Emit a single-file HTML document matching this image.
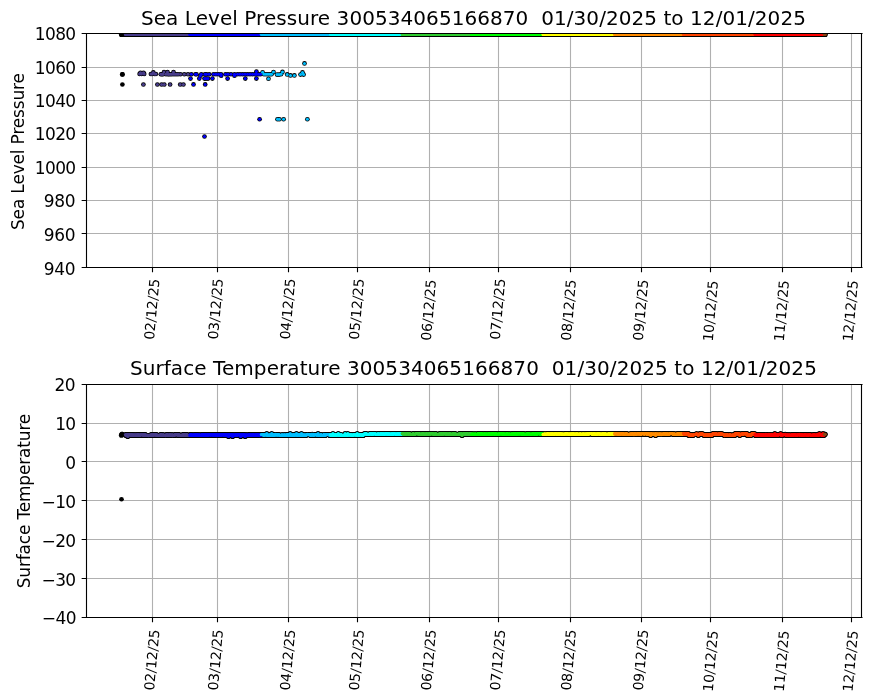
<!DOCTYPE html>
<html><head><meta charset="utf-8"><title>Sea Level Pressure / Surface Temperature</title>
<style>html,body{margin:0;padding:0;background:#fff;}svg{display:block;}</style></head>
<body>
<svg width="870" height="700" viewBox="0 0 870 700" style="will-change:transform">
<rect width="870" height="700" fill="#fff"/>
<defs>
<clipPath id="c0"><rect x="86.5" y="33.4" width="775" height="234.1"/></clipPath>
<clipPath id="c1"><rect x="86.5" y="384.4" width="775" height="233.1"/></clipPath>
</defs>
<path d="M152.5 33.4V267.5M217.5 33.4V267.5M288.5 33.4V267.5M357.5 33.4V267.5M429.5 33.4V267.5M498.5 33.4V267.5M570.5 33.4V267.5M641.5 33.4V267.5M710.5 33.4V267.5M782.5 33.4V267.5M851.5 33.4V267.5M86.5 67.5H861.5M86.5 100.5H861.5M86.5 133.5H861.5M86.5 167.5H861.5M86.5 200.5H861.5M86.5 233.5H861.5" stroke="#b0b0b0" stroke-width="1.11" fill="none"/>
<g clip-path="url(#c0)">
<g fill="#000"><circle cx="121.43" cy="34.38" r="2.55"/><circle cx="121.88" cy="34.4" r="2.55"/><circle cx="122.33" cy="34.39" r="2.55"/><circle cx="125.48" cy="34.41" r="2.55"/><circle cx="125.93" cy="34.41" r="2.55"/><circle cx="126.38" cy="34.37" r="2.55"/><circle cx="126.83" cy="34.37" r="2.55"/><circle cx="127.28" cy="34.42" r="2.55"/><circle cx="127.73" cy="34.39" r="2.55"/><circle cx="128.18" cy="34.38" r="2.55"/><circle cx="128.63" cy="34.43" r="2.55"/><circle cx="129.08" cy="34.4" r="2.55"/><circle cx="129.53" cy="34.42" r="2.55"/><circle cx="129.98" cy="34.4" r="2.55"/><circle cx="130.43" cy="34.41" r="2.55"/><circle cx="130.88" cy="34.38" r="2.55"/><circle cx="131.33" cy="34.41" r="2.55"/><circle cx="131.78" cy="34.42" r="2.55"/><circle cx="132.23" cy="34.4" r="2.55"/><circle cx="132.68" cy="34.41" r="2.55"/><circle cx="133.13" cy="34.41" r="2.55"/><circle cx="133.58" cy="34.37" r="2.55"/><circle cx="134.03" cy="34.42" r="2.55"/><circle cx="134.48" cy="34.41" r="2.55"/><circle cx="134.93" cy="34.39" r="2.55"/><circle cx="135.38" cy="34.37" r="2.55"/><circle cx="135.83" cy="34.42" r="2.55"/><circle cx="136.28" cy="34.4" r="2.55"/><circle cx="136.73" cy="34.41" r="2.55"/><circle cx="137.18" cy="34.42" r="2.55"/><circle cx="137.63" cy="34.41" r="2.55"/><circle cx="138.08" cy="34.43" r="2.55"/><circle cx="138.53" cy="34.39" r="2.55"/><circle cx="138.98" cy="34.42" r="2.55"/><circle cx="139.43" cy="34.4" r="2.55"/><circle cx="139.88" cy="34.43" r="2.55"/><circle cx="140.33" cy="34.42" r="2.55"/><circle cx="140.78" cy="34.38" r="2.55"/><circle cx="141.23" cy="34.38" r="2.55"/><circle cx="141.68" cy="34.38" r="2.55"/><circle cx="142.13" cy="34.43" r="2.55"/><circle cx="142.58" cy="34.4" r="2.55"/><circle cx="143.03" cy="34.41" r="2.55"/><circle cx="143.48" cy="34.39" r="2.55"/><circle cx="143.93" cy="34.4" r="2.55"/><circle cx="144.38" cy="34.39" r="2.55"/><circle cx="144.83" cy="34.39" r="2.55"/><circle cx="145.28" cy="34.41" r="2.55"/><circle cx="145.73" cy="34.41" r="2.55"/><circle cx="146.18" cy="34.42" r="2.55"/><circle cx="146.63" cy="34.41" r="2.55"/><circle cx="147.08" cy="34.43" r="2.55"/><circle cx="147.53" cy="34.42" r="2.55"/><circle cx="147.98" cy="34.43" r="2.55"/><circle cx="148.43" cy="34.41" r="2.55"/><circle cx="148.88" cy="34.38" r="2.55"/><circle cx="149.33" cy="34.42" r="2.55"/><circle cx="149.78" cy="34.43" r="2.55"/><circle cx="150.23" cy="34.42" r="2.55"/><circle cx="150.68" cy="34.4" r="2.55"/><circle cx="151.13" cy="34.41" r="2.55"/><circle cx="151.58" cy="34.38" r="2.55"/><circle cx="152.03" cy="34.42" r="2.55"/><circle cx="152.48" cy="34.4" r="2.55"/><circle cx="152.93" cy="34.39" r="2.55"/><circle cx="153.38" cy="34.37" r="2.55"/><circle cx="153.83" cy="34.42" r="2.55"/><circle cx="154.28" cy="34.43" r="2.55"/><circle cx="154.73" cy="34.38" r="2.55"/><circle cx="155.18" cy="34.42" r="2.55"/><circle cx="155.63" cy="34.39" r="2.55"/><circle cx="156.08" cy="34.38" r="2.55"/><circle cx="156.53" cy="34.39" r="2.55"/><circle cx="156.98" cy="34.42" r="2.55"/><circle cx="157.43" cy="34.42" r="2.55"/><circle cx="157.88" cy="34.37" r="2.55"/><circle cx="158.33" cy="34.41" r="2.55"/><circle cx="158.78" cy="34.37" r="2.55"/><circle cx="159.23" cy="34.41" r="2.55"/><circle cx="159.68" cy="34.39" r="2.55"/><circle cx="160.13" cy="34.42" r="2.55"/><circle cx="160.58" cy="34.43" r="2.55"/><circle cx="161.03" cy="34.4" r="2.55"/><circle cx="161.48" cy="34.43" r="2.55"/><circle cx="161.93" cy="34.39" r="2.55"/><circle cx="162.38" cy="34.37" r="2.55"/><circle cx="162.83" cy="34.41" r="2.55"/><circle cx="163.28" cy="34.37" r="2.55"/><circle cx="163.73" cy="34.38" r="2.55"/><circle cx="164.18" cy="34.39" r="2.55"/><circle cx="164.63" cy="34.41" r="2.55"/><circle cx="165.08" cy="34.38" r="2.55"/><circle cx="165.53" cy="34.37" r="2.55"/><circle cx="165.98" cy="34.42" r="2.55"/><circle cx="166.43" cy="34.39" r="2.55"/><circle cx="166.88" cy="34.43" r="2.55"/><circle cx="167.33" cy="34.42" r="2.55"/><circle cx="167.78" cy="34.39" r="2.55"/><circle cx="168.23" cy="34.4" r="2.55"/><circle cx="168.68" cy="34.4" r="2.55"/><circle cx="169.13" cy="34.41" r="2.55"/><circle cx="169.58" cy="34.41" r="2.55"/><circle cx="170.03" cy="34.4" r="2.55"/><circle cx="170.48" cy="34.41" r="2.55"/><circle cx="170.93" cy="34.43" r="2.55"/><circle cx="171.38" cy="34.4" r="2.55"/><circle cx="171.83" cy="34.4" r="2.55"/><circle cx="172.28" cy="34.41" r="2.55"/><circle cx="172.73" cy="34.38" r="2.55"/><circle cx="173.18" cy="34.39" r="2.55"/><circle cx="173.63" cy="34.43" r="2.55"/><circle cx="174.08" cy="34.4" r="2.55"/><circle cx="174.53" cy="34.4" r="2.55"/><circle cx="174.98" cy="34.37" r="2.55"/><circle cx="175.43" cy="34.39" r="2.55"/><circle cx="175.88" cy="34.4" r="2.55"/><circle cx="176.33" cy="34.37" r="2.55"/><circle cx="176.78" cy="34.41" r="2.55"/><circle cx="177.23" cy="34.41" r="2.55"/><circle cx="177.68" cy="34.37" r="2.55"/><circle cx="178.13" cy="34.41" r="2.55"/><circle cx="178.58" cy="34.4" r="2.55"/><circle cx="179.03" cy="34.41" r="2.55"/><circle cx="179.48" cy="34.39" r="2.55"/><circle cx="179.93" cy="34.41" r="2.55"/><circle cx="180.38" cy="34.41" r="2.55"/><circle cx="180.83" cy="34.37" r="2.55"/><circle cx="181.28" cy="34.37" r="2.55"/><circle cx="181.73" cy="34.41" r="2.55"/><circle cx="182.18" cy="34.43" r="2.55"/><circle cx="182.63" cy="34.39" r="2.55"/><circle cx="183.08" cy="34.4" r="2.55"/><circle cx="183.53" cy="34.41" r="2.55"/><circle cx="183.98" cy="34.39" r="2.55"/><circle cx="184.43" cy="34.39" r="2.55"/><circle cx="184.88" cy="34.39" r="2.55"/><circle cx="185.33" cy="34.39" r="2.55"/><circle cx="185.78" cy="34.41" r="2.55"/><circle cx="186.23" cy="34.39" r="2.55"/><circle cx="186.68" cy="34.39" r="2.55"/><circle cx="187.13" cy="34.42" r="2.55"/><circle cx="187.58" cy="34.37" r="2.55"/><circle cx="188.03" cy="34.4" r="2.55"/><circle cx="188.48" cy="34.41" r="2.55"/><circle cx="188.93" cy="34.39" r="2.55"/><circle cx="189.38" cy="34.38" r="2.55"/><circle cx="189.83" cy="34.42" r="2.55"/><circle cx="190.28" cy="34.38" r="2.55"/><circle cx="190.73" cy="34.38" r="2.55"/><circle cx="191.18" cy="34.4" r="2.55"/><circle cx="191.63" cy="34.41" r="2.55"/><circle cx="192.08" cy="34.38" r="2.55"/><circle cx="192.53" cy="34.39" r="2.55"/><circle cx="192.98" cy="34.39" r="2.55"/><circle cx="193.43" cy="34.42" r="2.55"/><circle cx="193.88" cy="34.4" r="2.55"/><circle cx="194.33" cy="34.42" r="2.55"/><circle cx="194.78" cy="34.38" r="2.55"/><circle cx="195.23" cy="34.39" r="2.55"/><circle cx="195.68" cy="34.41" r="2.55"/><circle cx="196.13" cy="34.42" r="2.55"/><circle cx="196.58" cy="34.4" r="2.55"/><circle cx="197.03" cy="34.38" r="2.55"/><circle cx="197.48" cy="34.38" r="2.55"/><circle cx="197.93" cy="34.4" r="2.55"/><circle cx="198.38" cy="34.38" r="2.55"/><circle cx="198.83" cy="34.42" r="2.55"/><circle cx="199.28" cy="34.42" r="2.55"/><circle cx="199.73" cy="34.38" r="2.55"/><circle cx="200.18" cy="34.39" r="2.55"/><circle cx="200.63" cy="34.42" r="2.55"/><circle cx="201.08" cy="34.41" r="2.55"/><circle cx="201.53" cy="34.42" r="2.55"/><circle cx="201.98" cy="34.39" r="2.55"/><circle cx="202.43" cy="34.38" r="2.55"/><circle cx="202.88" cy="34.39" r="2.55"/><circle cx="203.33" cy="34.42" r="2.55"/><circle cx="203.78" cy="34.39" r="2.55"/><circle cx="204.23" cy="34.39" r="2.55"/><circle cx="204.68" cy="34.4" r="2.55"/><circle cx="205.13" cy="34.4" r="2.55"/><circle cx="205.58" cy="34.39" r="2.55"/><circle cx="206.03" cy="34.43" r="2.55"/><circle cx="206.48" cy="34.38" r="2.55"/><circle cx="206.93" cy="34.37" r="2.55"/><circle cx="207.38" cy="34.43" r="2.55"/><circle cx="207.83" cy="34.42" r="2.55"/><circle cx="208.28" cy="34.43" r="2.55"/><circle cx="208.73" cy="34.4" r="2.55"/><circle cx="209.18" cy="34.43" r="2.55"/><circle cx="209.63" cy="34.43" r="2.55"/><circle cx="210.08" cy="34.38" r="2.55"/><circle cx="210.53" cy="34.41" r="2.55"/><circle cx="210.98" cy="34.42" r="2.55"/><circle cx="211.43" cy="34.41" r="2.55"/><circle cx="211.88" cy="34.4" r="2.55"/><circle cx="212.33" cy="34.39" r="2.55"/><circle cx="212.78" cy="34.39" r="2.55"/><circle cx="213.23" cy="34.38" r="2.55"/><circle cx="213.68" cy="34.37" r="2.55"/><circle cx="214.13" cy="34.41" r="2.55"/><circle cx="214.58" cy="34.39" r="2.55"/><circle cx="215.03" cy="34.42" r="2.55"/><circle cx="215.48" cy="34.37" r="2.55"/><circle cx="215.93" cy="34.42" r="2.55"/><circle cx="216.38" cy="34.41" r="2.55"/><circle cx="216.83" cy="34.43" r="2.55"/><circle cx="217.28" cy="34.42" r="2.55"/><circle cx="217.73" cy="34.42" r="2.55"/><circle cx="218.18" cy="34.4" r="2.55"/><circle cx="218.63" cy="34.37" r="2.55"/><circle cx="219.08" cy="34.41" r="2.55"/><circle cx="219.53" cy="34.38" r="2.55"/><circle cx="219.98" cy="34.39" r="2.55"/><circle cx="220.43" cy="34.41" r="2.55"/><circle cx="220.88" cy="34.4" r="2.55"/><circle cx="221.33" cy="34.39" r="2.55"/><circle cx="221.78" cy="34.43" r="2.55"/><circle cx="222.23" cy="34.41" r="2.55"/><circle cx="222.68" cy="34.39" r="2.55"/><circle cx="223.13" cy="34.39" r="2.55"/><circle cx="223.58" cy="34.42" r="2.55"/><circle cx="224.03" cy="34.4" r="2.55"/><circle cx="224.48" cy="34.42" r="2.55"/><circle cx="224.93" cy="34.39" r="2.55"/><circle cx="225.38" cy="34.38" r="2.55"/><circle cx="225.83" cy="34.4" r="2.55"/><circle cx="226.28" cy="34.42" r="2.55"/><circle cx="226.73" cy="34.38" r="2.55"/><circle cx="227.18" cy="34.42" r="2.55"/><circle cx="227.63" cy="34.43" r="2.55"/><circle cx="228.08" cy="34.42" r="2.55"/><circle cx="228.53" cy="34.42" r="2.55"/><circle cx="228.98" cy="34.37" r="2.55"/><circle cx="229.43" cy="34.41" r="2.55"/><circle cx="229.88" cy="34.42" r="2.55"/><circle cx="230.33" cy="34.37" r="2.55"/><circle cx="230.78" cy="34.39" r="2.55"/><circle cx="231.23" cy="34.39" r="2.55"/><circle cx="231.68" cy="34.4" r="2.55"/><circle cx="232.13" cy="34.4" r="2.55"/><circle cx="232.58" cy="34.4" r="2.55"/><circle cx="233.03" cy="34.42" r="2.55"/><circle cx="233.48" cy="34.37" r="2.55"/><circle cx="233.93" cy="34.37" r="2.55"/><circle cx="234.38" cy="34.38" r="2.55"/><circle cx="234.83" cy="34.38" r="2.55"/><circle cx="235.28" cy="34.37" r="2.55"/><circle cx="235.73" cy="34.43" r="2.55"/><circle cx="236.18" cy="34.42" r="2.55"/><circle cx="236.63" cy="34.38" r="2.55"/><circle cx="237.08" cy="34.4" r="2.55"/><circle cx="237.53" cy="34.39" r="2.55"/><circle cx="237.98" cy="34.39" r="2.55"/><circle cx="238.43" cy="34.39" r="2.55"/><circle cx="238.88" cy="34.41" r="2.55"/><circle cx="239.33" cy="34.41" r="2.55"/><circle cx="239.78" cy="34.39" r="2.55"/><circle cx="240.23" cy="34.38" r="2.55"/><circle cx="240.68" cy="34.39" r="2.55"/><circle cx="241.13" cy="34.38" r="2.55"/><circle cx="241.58" cy="34.4" r="2.55"/><circle cx="242.03" cy="34.41" r="2.55"/><circle cx="242.48" cy="34.39" r="2.55"/><circle cx="242.93" cy="34.37" r="2.55"/><circle cx="243.38" cy="34.38" r="2.55"/><circle cx="243.83" cy="34.39" r="2.55"/><circle cx="244.28" cy="34.41" r="2.55"/><circle cx="244.73" cy="34.42" r="2.55"/><circle cx="245.18" cy="34.39" r="2.55"/><circle cx="245.63" cy="34.42" r="2.55"/><circle cx="246.08" cy="34.41" r="2.55"/><circle cx="246.53" cy="34.4" r="2.55"/><circle cx="246.98" cy="34.39" r="2.55"/><circle cx="247.43" cy="34.4" r="2.55"/><circle cx="247.88" cy="34.41" r="2.55"/><circle cx="248.33" cy="34.4" r="2.55"/><circle cx="248.78" cy="34.41" r="2.55"/><circle cx="249.23" cy="34.4" r="2.55"/><circle cx="249.68" cy="34.38" r="2.55"/><circle cx="250.13" cy="34.4" r="2.55"/><circle cx="250.58" cy="34.41" r="2.55"/><circle cx="251.03" cy="34.37" r="2.55"/><circle cx="251.48" cy="34.4" r="2.55"/><circle cx="251.93" cy="34.4" r="2.55"/><circle cx="252.38" cy="34.42" r="2.55"/><circle cx="252.83" cy="34.43" r="2.55"/><circle cx="253.28" cy="34.39" r="2.55"/><circle cx="253.73" cy="34.42" r="2.55"/><circle cx="254.18" cy="34.42" r="2.55"/><circle cx="254.63" cy="34.39" r="2.55"/><circle cx="255.08" cy="34.4" r="2.55"/><circle cx="255.53" cy="34.38" r="2.55"/><circle cx="255.98" cy="34.42" r="2.55"/><circle cx="256.43" cy="34.41" r="2.55"/><circle cx="256.88" cy="34.42" r="2.55"/><circle cx="257.33" cy="34.42" r="2.55"/><circle cx="257.78" cy="34.41" r="2.55"/><circle cx="258.23" cy="34.41" r="2.55"/><circle cx="258.68" cy="34.4" r="2.55"/><circle cx="259.13" cy="34.38" r="2.55"/><circle cx="259.58" cy="34.41" r="2.55"/><circle cx="260.03" cy="34.37" r="2.55"/><circle cx="260.48" cy="34.38" r="2.55"/><circle cx="260.93" cy="34.42" r="2.55"/><circle cx="261.38" cy="34.37" r="2.55"/><circle cx="261.83" cy="34.38" r="2.55"/><circle cx="262.28" cy="34.38" r="2.55"/><circle cx="262.73" cy="34.42" r="2.55"/><circle cx="263.18" cy="34.38" r="2.55"/><circle cx="263.63" cy="34.37" r="2.55"/><circle cx="264.08" cy="34.42" r="2.55"/><circle cx="264.53" cy="34.38" r="2.55"/><circle cx="264.98" cy="34.42" r="2.55"/><circle cx="265.43" cy="34.41" r="2.55"/><circle cx="265.88" cy="34.42" r="2.55"/><circle cx="266.33" cy="34.43" r="2.55"/><circle cx="266.78" cy="34.4" r="2.55"/><circle cx="267.23" cy="34.42" r="2.55"/><circle cx="267.68" cy="34.37" r="2.55"/><circle cx="268.13" cy="34.42" r="2.55"/><circle cx="268.58" cy="34.4" r="2.55"/><circle cx="269.03" cy="34.41" r="2.55"/><circle cx="269.48" cy="34.38" r="2.55"/><circle cx="269.93" cy="34.41" r="2.55"/><circle cx="270.38" cy="34.43" r="2.55"/><circle cx="270.83" cy="34.37" r="2.55"/><circle cx="271.28" cy="34.39" r="2.55"/><circle cx="271.73" cy="34.4" r="2.55"/><circle cx="272.18" cy="34.42" r="2.55"/><circle cx="272.63" cy="34.38" r="2.55"/><circle cx="273.08" cy="34.38" r="2.55"/><circle cx="273.53" cy="34.38" r="2.55"/><circle cx="273.98" cy="34.41" r="2.55"/><circle cx="274.43" cy="34.42" r="2.55"/><circle cx="274.88" cy="34.39" r="2.55"/><circle cx="275.33" cy="34.39" r="2.55"/><circle cx="275.78" cy="34.39" r="2.55"/><circle cx="276.23" cy="34.39" r="2.55"/><circle cx="276.68" cy="34.4" r="2.55"/><circle cx="277.13" cy="34.37" r="2.55"/><circle cx="277.58" cy="34.4" r="2.55"/><circle cx="278.03" cy="34.43" r="2.55"/><circle cx="278.48" cy="34.39" r="2.55"/><circle cx="278.93" cy="34.41" r="2.55"/><circle cx="279.38" cy="34.38" r="2.55"/><circle cx="279.83" cy="34.41" r="2.55"/><circle cx="280.28" cy="34.42" r="2.55"/><circle cx="280.73" cy="34.41" r="2.55"/><circle cx="281.18" cy="34.4" r="2.55"/><circle cx="281.63" cy="34.4" r="2.55"/><circle cx="282.08" cy="34.41" r="2.55"/><circle cx="282.53" cy="34.42" r="2.55"/><circle cx="282.98" cy="34.38" r="2.55"/><circle cx="283.43" cy="34.38" r="2.55"/><circle cx="283.88" cy="34.41" r="2.55"/><circle cx="284.33" cy="34.42" r="2.55"/><circle cx="284.78" cy="34.4" r="2.55"/><circle cx="285.23" cy="34.4" r="2.55"/><circle cx="285.68" cy="34.41" r="2.55"/><circle cx="286.13" cy="34.38" r="2.55"/><circle cx="286.58" cy="34.39" r="2.55"/><circle cx="287.03" cy="34.38" r="2.55"/><circle cx="287.48" cy="34.41" r="2.55"/><circle cx="287.93" cy="34.39" r="2.55"/><circle cx="288.38" cy="34.38" r="2.55"/><circle cx="288.83" cy="34.41" r="2.55"/><circle cx="289.28" cy="34.43" r="2.55"/><circle cx="289.73" cy="34.39" r="2.55"/><circle cx="290.18" cy="34.41" r="2.55"/><circle cx="290.63" cy="34.39" r="2.55"/><circle cx="291.08" cy="34.42" r="2.55"/><circle cx="291.53" cy="34.41" r="2.55"/><circle cx="291.98" cy="34.39" r="2.55"/><circle cx="292.43" cy="34.38" r="2.55"/><circle cx="292.88" cy="34.37" r="2.55"/><circle cx="293.33" cy="34.4" r="2.55"/><circle cx="293.78" cy="34.39" r="2.55"/><circle cx="294.23" cy="34.38" r="2.55"/><circle cx="294.68" cy="34.39" r="2.55"/><circle cx="295.13" cy="34.39" r="2.55"/><circle cx="295.58" cy="34.42" r="2.55"/><circle cx="296.03" cy="34.38" r="2.55"/><circle cx="296.48" cy="34.43" r="2.55"/><circle cx="296.93" cy="34.4" r="2.55"/><circle cx="297.38" cy="34.41" r="2.55"/><circle cx="297.83" cy="34.4" r="2.55"/><circle cx="298.28" cy="34.42" r="2.55"/><circle cx="298.73" cy="34.42" r="2.55"/><circle cx="299.18" cy="34.4" r="2.55"/><circle cx="299.63" cy="34.4" r="2.55"/><circle cx="300.08" cy="34.41" r="2.55"/><circle cx="300.53" cy="34.42" r="2.55"/><circle cx="300.98" cy="34.39" r="2.55"/><circle cx="301.43" cy="34.41" r="2.55"/><circle cx="301.88" cy="34.43" r="2.55"/><circle cx="302.33" cy="34.4" r="2.55"/><circle cx="302.78" cy="34.38" r="2.55"/><circle cx="303.23" cy="34.38" r="2.55"/><circle cx="303.68" cy="34.41" r="2.55"/><circle cx="304.13" cy="34.41" r="2.55"/><circle cx="304.58" cy="34.43" r="2.55"/><circle cx="305.03" cy="34.42" r="2.55"/><circle cx="305.48" cy="34.38" r="2.55"/><circle cx="305.93" cy="34.38" r="2.55"/><circle cx="306.38" cy="34.39" r="2.55"/><circle cx="306.83" cy="34.38" r="2.55"/><circle cx="307.28" cy="34.41" r="2.55"/><circle cx="307.73" cy="34.42" r="2.55"/><circle cx="308.18" cy="34.42" r="2.55"/><circle cx="308.63" cy="34.39" r="2.55"/><circle cx="309.08" cy="34.42" r="2.55"/><circle cx="309.53" cy="34.39" r="2.55"/><circle cx="309.98" cy="34.4" r="2.55"/><circle cx="310.43" cy="34.41" r="2.55"/><circle cx="310.88" cy="34.38" r="2.55"/><circle cx="311.33" cy="34.38" r="2.55"/><circle cx="311.78" cy="34.42" r="2.55"/><circle cx="312.23" cy="34.39" r="2.55"/><circle cx="312.68" cy="34.39" r="2.55"/><circle cx="313.13" cy="34.4" r="2.55"/><circle cx="313.58" cy="34.41" r="2.55"/><circle cx="314.03" cy="34.37" r="2.55"/><circle cx="314.48" cy="34.39" r="2.55"/><circle cx="314.93" cy="34.4" r="2.55"/><circle cx="315.38" cy="34.4" r="2.55"/><circle cx="315.83" cy="34.38" r="2.55"/><circle cx="316.28" cy="34.41" r="2.55"/><circle cx="316.73" cy="34.43" r="2.55"/><circle cx="317.18" cy="34.39" r="2.55"/><circle cx="317.63" cy="34.4" r="2.55"/><circle cx="318.08" cy="34.38" r="2.55"/><circle cx="318.53" cy="34.39" r="2.55"/><circle cx="318.98" cy="34.41" r="2.55"/><circle cx="319.43" cy="34.38" r="2.55"/><circle cx="319.88" cy="34.42" r="2.55"/><circle cx="320.33" cy="34.42" r="2.55"/><circle cx="320.78" cy="34.38" r="2.55"/><circle cx="321.23" cy="34.43" r="2.55"/><circle cx="321.68" cy="34.39" r="2.55"/><circle cx="322.13" cy="34.42" r="2.55"/><circle cx="322.58" cy="34.42" r="2.55"/><circle cx="323.03" cy="34.39" r="2.55"/><circle cx="323.48" cy="34.41" r="2.55"/><circle cx="323.93" cy="34.41" r="2.55"/><circle cx="324.38" cy="34.42" r="2.55"/><circle cx="324.83" cy="34.39" r="2.55"/><circle cx="325.28" cy="34.42" r="2.55"/><circle cx="325.73" cy="34.43" r="2.55"/><circle cx="326.18" cy="34.41" r="2.55"/><circle cx="326.63" cy="34.4" r="2.55"/><circle cx="327.08" cy="34.38" r="2.55"/><circle cx="327.53" cy="34.4" r="2.55"/><circle cx="327.98" cy="34.39" r="2.55"/><circle cx="328.43" cy="34.41" r="2.55"/><circle cx="328.88" cy="34.41" r="2.55"/><circle cx="329.33" cy="34.4" r="2.55"/><circle cx="329.78" cy="34.38" r="2.55"/><circle cx="330.23" cy="34.41" r="2.55"/><circle cx="330.68" cy="34.41" r="2.55"/><circle cx="331.13" cy="34.38" r="2.55"/><circle cx="331.58" cy="34.42" r="2.55"/><circle cx="332.03" cy="34.41" r="2.55"/><circle cx="332.48" cy="34.38" r="2.55"/><circle cx="332.93" cy="34.43" r="2.55"/><circle cx="333.38" cy="34.38" r="2.55"/><circle cx="333.83" cy="34.39" r="2.55"/><circle cx="334.28" cy="34.41" r="2.55"/><circle cx="334.73" cy="34.41" r="2.55"/><circle cx="335.18" cy="34.4" r="2.55"/><circle cx="335.63" cy="34.41" r="2.55"/><circle cx="336.08" cy="34.4" r="2.55"/><circle cx="336.53" cy="34.39" r="2.55"/><circle cx="336.98" cy="34.38" r="2.55"/><circle cx="337.43" cy="34.37" r="2.55"/><circle cx="337.88" cy="34.41" r="2.55"/><circle cx="338.33" cy="34.42" r="2.55"/><circle cx="338.78" cy="34.4" r="2.55"/><circle cx="339.23" cy="34.41" r="2.55"/><circle cx="339.68" cy="34.39" r="2.55"/><circle cx="340.13" cy="34.39" r="2.55"/><circle cx="340.58" cy="34.39" r="2.55"/><circle cx="341.03" cy="34.42" r="2.55"/><circle cx="341.48" cy="34.37" r="2.55"/><circle cx="341.93" cy="34.4" r="2.55"/><circle cx="342.38" cy="34.38" r="2.55"/><circle cx="342.83" cy="34.42" r="2.55"/><circle cx="343.28" cy="34.39" r="2.55"/><circle cx="343.73" cy="34.39" r="2.55"/><circle cx="344.18" cy="34.39" r="2.55"/><circle cx="344.63" cy="34.4" r="2.55"/><circle cx="345.08" cy="34.42" r="2.55"/><circle cx="345.53" cy="34.39" r="2.55"/><circle cx="345.98" cy="34.42" r="2.55"/><circle cx="346.43" cy="34.38" r="2.55"/><circle cx="346.88" cy="34.39" r="2.55"/><circle cx="347.33" cy="34.38" r="2.55"/><circle cx="347.78" cy="34.38" r="2.55"/><circle cx="348.23" cy="34.42" r="2.55"/><circle cx="348.68" cy="34.41" r="2.55"/><circle cx="349.13" cy="34.38" r="2.55"/><circle cx="349.58" cy="34.38" r="2.55"/><circle cx="350.03" cy="34.39" r="2.55"/><circle cx="350.48" cy="34.41" r="2.55"/><circle cx="350.93" cy="34.42" r="2.55"/><circle cx="351.38" cy="34.41" r="2.55"/><circle cx="351.83" cy="34.41" r="2.55"/><circle cx="352.28" cy="34.38" r="2.55"/><circle cx="352.73" cy="34.39" r="2.55"/><circle cx="353.18" cy="34.38" r="2.55"/><circle cx="353.63" cy="34.4" r="2.55"/><circle cx="354.08" cy="34.4" r="2.55"/><circle cx="354.53" cy="34.38" r="2.55"/><circle cx="354.98" cy="34.39" r="2.55"/><circle cx="355.43" cy="34.42" r="2.55"/><circle cx="355.88" cy="34.37" r="2.55"/><circle cx="356.33" cy="34.42" r="2.55"/><circle cx="356.78" cy="34.42" r="2.55"/><circle cx="357.23" cy="34.43" r="2.55"/><circle cx="357.68" cy="34.39" r="2.55"/><circle cx="358.13" cy="34.4" r="2.55"/><circle cx="358.58" cy="34.4" r="2.55"/><circle cx="359.03" cy="34.41" r="2.55"/><circle cx="359.48" cy="34.43" r="2.55"/><circle cx="359.93" cy="34.41" r="2.55"/><circle cx="360.38" cy="34.39" r="2.55"/><circle cx="360.83" cy="34.42" r="2.55"/><circle cx="361.28" cy="34.4" r="2.55"/><circle cx="361.73" cy="34.41" r="2.55"/><circle cx="362.18" cy="34.41" r="2.55"/><circle cx="362.63" cy="34.37" r="2.55"/><circle cx="363.08" cy="34.42" r="2.55"/><circle cx="363.53" cy="34.41" r="2.55"/><circle cx="363.98" cy="34.4" r="2.55"/><circle cx="364.43" cy="34.4" r="2.55"/><circle cx="364.88" cy="34.4" r="2.55"/><circle cx="365.33" cy="34.38" r="2.55"/><circle cx="365.78" cy="34.4" r="2.55"/><circle cx="366.23" cy="34.37" r="2.55"/><circle cx="366.68" cy="34.4" r="2.55"/><circle cx="367.13" cy="34.41" r="2.55"/><circle cx="367.58" cy="34.4" r="2.55"/><circle cx="368.03" cy="34.4" r="2.55"/><circle cx="368.48" cy="34.43" r="2.55"/><circle cx="368.93" cy="34.42" r="2.55"/><circle cx="369.38" cy="34.38" r="2.55"/><circle cx="369.83" cy="34.42" r="2.55"/><circle cx="370.28" cy="34.41" r="2.55"/><circle cx="370.73" cy="34.37" r="2.55"/><circle cx="371.18" cy="34.39" r="2.55"/><circle cx="371.63" cy="34.38" r="2.55"/><circle cx="372.08" cy="34.37" r="2.55"/><circle cx="372.53" cy="34.4" r="2.55"/><circle cx="372.98" cy="34.43" r="2.55"/><circle cx="373.43" cy="34.39" r="2.55"/><circle cx="373.88" cy="34.42" r="2.55"/><circle cx="374.33" cy="34.41" r="2.55"/><circle cx="374.78" cy="34.38" r="2.55"/><circle cx="375.23" cy="34.42" r="2.55"/><circle cx="375.68" cy="34.41" r="2.55"/><circle cx="376.13" cy="34.43" r="2.55"/><circle cx="376.58" cy="34.41" r="2.55"/><circle cx="377.03" cy="34.41" r="2.55"/><circle cx="377.48" cy="34.39" r="2.55"/><circle cx="377.93" cy="34.42" r="2.55"/><circle cx="378.38" cy="34.43" r="2.55"/><circle cx="378.83" cy="34.42" r="2.55"/><circle cx="379.28" cy="34.4" r="2.55"/><circle cx="379.73" cy="34.42" r="2.55"/><circle cx="380.18" cy="34.4" r="2.55"/><circle cx="380.63" cy="34.38" r="2.55"/><circle cx="381.08" cy="34.37" r="2.55"/><circle cx="381.53" cy="34.37" r="2.55"/><circle cx="381.98" cy="34.38" r="2.55"/><circle cx="382.43" cy="34.38" r="2.55"/><circle cx="382.88" cy="34.4" r="2.55"/><circle cx="383.33" cy="34.41" r="2.55"/><circle cx="383.78" cy="34.4" r="2.55"/><circle cx="384.23" cy="34.4" r="2.55"/><circle cx="384.68" cy="34.41" r="2.55"/><circle cx="385.13" cy="34.39" r="2.55"/><circle cx="385.58" cy="34.4" r="2.55"/><circle cx="386.03" cy="34.42" r="2.55"/><circle cx="386.48" cy="34.39" r="2.55"/><circle cx="386.93" cy="34.38" r="2.55"/><circle cx="387.38" cy="34.42" r="2.55"/><circle cx="387.83" cy="34.41" r="2.55"/><circle cx="388.28" cy="34.39" r="2.55"/><circle cx="388.73" cy="34.39" r="2.55"/><circle cx="389.18" cy="34.4" r="2.55"/><circle cx="389.63" cy="34.41" r="2.55"/><circle cx="390.08" cy="34.38" r="2.55"/><circle cx="390.53" cy="34.37" r="2.55"/><circle cx="390.98" cy="34.38" r="2.55"/><circle cx="391.43" cy="34.42" r="2.55"/><circle cx="391.88" cy="34.38" r="2.55"/><circle cx="392.33" cy="34.4" r="2.55"/><circle cx="392.78" cy="34.38" r="2.55"/><circle cx="393.23" cy="34.38" r="2.55"/><circle cx="393.68" cy="34.38" r="2.55"/><circle cx="394.13" cy="34.39" r="2.55"/><circle cx="394.58" cy="34.38" r="2.55"/><circle cx="395.03" cy="34.37" r="2.55"/><circle cx="395.48" cy="34.38" r="2.55"/><circle cx="395.93" cy="34.38" r="2.55"/><circle cx="396.38" cy="34.4" r="2.55"/><circle cx="396.83" cy="34.37" r="2.55"/><circle cx="397.28" cy="34.37" r="2.55"/><circle cx="397.73" cy="34.4" r="2.55"/><circle cx="398.18" cy="34.39" r="2.55"/><circle cx="398.63" cy="34.41" r="2.55"/><circle cx="399.08" cy="34.37" r="2.55"/><circle cx="399.53" cy="34.39" r="2.55"/><circle cx="399.98" cy="34.39" r="2.55"/><circle cx="400.43" cy="34.37" r="2.55"/><circle cx="400.88" cy="34.43" r="2.55"/><circle cx="401.33" cy="34.38" r="2.55"/><circle cx="401.78" cy="34.38" r="2.55"/><circle cx="402.23" cy="34.4" r="2.55"/><circle cx="402.68" cy="34.38" r="2.55"/><circle cx="403.13" cy="34.41" r="2.55"/><circle cx="403.58" cy="34.39" r="2.55"/><circle cx="404.03" cy="34.38" r="2.55"/><circle cx="404.48" cy="34.37" r="2.55"/><circle cx="404.93" cy="34.41" r="2.55"/><circle cx="405.38" cy="34.39" r="2.55"/><circle cx="405.83" cy="34.42" r="2.55"/><circle cx="406.28" cy="34.4" r="2.55"/><circle cx="406.73" cy="34.43" r="2.55"/><circle cx="407.18" cy="34.39" r="2.55"/><circle cx="407.63" cy="34.38" r="2.55"/><circle cx="408.08" cy="34.39" r="2.55"/><circle cx="408.53" cy="34.42" r="2.55"/><circle cx="408.98" cy="34.41" r="2.55"/><circle cx="409.43" cy="34.39" r="2.55"/><circle cx="409.88" cy="34.38" r="2.55"/><circle cx="410.33" cy="34.41" r="2.55"/><circle cx="410.78" cy="34.43" r="2.55"/><circle cx="411.23" cy="34.41" r="2.55"/><circle cx="411.68" cy="34.37" r="2.55"/><circle cx="412.13" cy="34.37" r="2.55"/><circle cx="412.58" cy="34.38" r="2.55"/><circle cx="413.03" cy="34.38" r="2.55"/><circle cx="413.48" cy="34.37" r="2.55"/><circle cx="413.93" cy="34.37" r="2.55"/><circle cx="414.38" cy="34.41" r="2.55"/><circle cx="414.83" cy="34.42" r="2.55"/><circle cx="415.28" cy="34.38" r="2.55"/><circle cx="415.73" cy="34.43" r="2.55"/><circle cx="416.18" cy="34.4" r="2.55"/><circle cx="416.63" cy="34.42" r="2.55"/><circle cx="417.08" cy="34.43" r="2.55"/><circle cx="417.53" cy="34.43" r="2.55"/><circle cx="417.98" cy="34.37" r="2.55"/><circle cx="418.43" cy="34.39" r="2.55"/><circle cx="418.88" cy="34.41" r="2.55"/><circle cx="419.33" cy="34.43" r="2.55"/><circle cx="419.78" cy="34.38" r="2.55"/><circle cx="420.23" cy="34.39" r="2.55"/><circle cx="420.68" cy="34.42" r="2.55"/><circle cx="421.13" cy="34.38" r="2.55"/><circle cx="421.58" cy="34.39" r="2.55"/><circle cx="422.03" cy="34.39" r="2.55"/><circle cx="422.48" cy="34.41" r="2.55"/><circle cx="422.93" cy="34.43" r="2.55"/><circle cx="423.38" cy="34.38" r="2.55"/><circle cx="423.83" cy="34.41" r="2.55"/><circle cx="424.28" cy="34.41" r="2.55"/><circle cx="424.73" cy="34.42" r="2.55"/><circle cx="425.18" cy="34.4" r="2.55"/><circle cx="425.63" cy="34.43" r="2.55"/><circle cx="426.08" cy="34.39" r="2.55"/><circle cx="426.53" cy="34.39" r="2.55"/><circle cx="426.98" cy="34.38" r="2.55"/><circle cx="427.43" cy="34.42" r="2.55"/><circle cx="427.88" cy="34.4" r="2.55"/><circle cx="428.33" cy="34.39" r="2.55"/><circle cx="428.78" cy="34.38" r="2.55"/><circle cx="429.23" cy="34.41" r="2.55"/><circle cx="429.68" cy="34.41" r="2.55"/><circle cx="430.13" cy="34.41" r="2.55"/><circle cx="430.58" cy="34.39" r="2.55"/><circle cx="431.03" cy="34.4" r="2.55"/><circle cx="431.48" cy="34.38" r="2.55"/><circle cx="431.93" cy="34.41" r="2.55"/><circle cx="432.38" cy="34.37" r="2.55"/><circle cx="432.83" cy="34.4" r="2.55"/><circle cx="433.28" cy="34.42" r="2.55"/><circle cx="433.73" cy="34.41" r="2.55"/><circle cx="434.18" cy="34.38" r="2.55"/><circle cx="434.63" cy="34.38" r="2.55"/><circle cx="435.08" cy="34.42" r="2.55"/><circle cx="435.53" cy="34.41" r="2.55"/><circle cx="435.98" cy="34.42" r="2.55"/><circle cx="436.43" cy="34.42" r="2.55"/><circle cx="436.88" cy="34.4" r="2.55"/><circle cx="437.33" cy="34.42" r="2.55"/><circle cx="437.78" cy="34.41" r="2.55"/><circle cx="438.23" cy="34.39" r="2.55"/><circle cx="438.68" cy="34.39" r="2.55"/><circle cx="439.13" cy="34.37" r="2.55"/><circle cx="439.58" cy="34.39" r="2.55"/><circle cx="440.03" cy="34.43" r="2.55"/><circle cx="440.48" cy="34.38" r="2.55"/><circle cx="440.93" cy="34.4" r="2.55"/><circle cx="441.38" cy="34.38" r="2.55"/><circle cx="441.83" cy="34.37" r="2.55"/><circle cx="442.28" cy="34.41" r="2.55"/><circle cx="442.73" cy="34.38" r="2.55"/><circle cx="443.18" cy="34.37" r="2.55"/><circle cx="443.63" cy="34.38" r="2.55"/><circle cx="444.08" cy="34.41" r="2.55"/><circle cx="444.53" cy="34.41" r="2.55"/><circle cx="444.98" cy="34.37" r="2.55"/><circle cx="445.43" cy="34.38" r="2.55"/><circle cx="445.88" cy="34.43" r="2.55"/><circle cx="446.33" cy="34.38" r="2.55"/><circle cx="446.78" cy="34.4" r="2.55"/><circle cx="447.23" cy="34.4" r="2.55"/><circle cx="447.68" cy="34.42" r="2.55"/><circle cx="448.13" cy="34.41" r="2.55"/><circle cx="448.58" cy="34.42" r="2.55"/><circle cx="449.03" cy="34.4" r="2.55"/><circle cx="449.48" cy="34.38" r="2.55"/><circle cx="449.93" cy="34.38" r="2.55"/><circle cx="450.38" cy="34.37" r="2.55"/><circle cx="450.83" cy="34.42" r="2.55"/><circle cx="451.28" cy="34.38" r="2.55"/><circle cx="451.73" cy="34.37" r="2.55"/><circle cx="452.18" cy="34.43" r="2.55"/><circle cx="452.63" cy="34.38" r="2.55"/><circle cx="453.08" cy="34.42" r="2.55"/><circle cx="453.53" cy="34.38" r="2.55"/><circle cx="453.98" cy="34.4" r="2.55"/><circle cx="454.43" cy="34.38" r="2.55"/><circle cx="454.88" cy="34.42" r="2.55"/><circle cx="455.33" cy="34.41" r="2.55"/><circle cx="455.78" cy="34.41" r="2.55"/><circle cx="456.23" cy="34.42" r="2.55"/><circle cx="456.68" cy="34.42" r="2.55"/><circle cx="457.13" cy="34.39" r="2.55"/><circle cx="457.58" cy="34.41" r="2.55"/><circle cx="458.03" cy="34.4" r="2.55"/><circle cx="458.48" cy="34.38" r="2.55"/><circle cx="458.93" cy="34.42" r="2.55"/><circle cx="459.38" cy="34.41" r="2.55"/><circle cx="459.83" cy="34.42" r="2.55"/><circle cx="460.28" cy="34.38" r="2.55"/><circle cx="460.73" cy="34.4" r="2.55"/><circle cx="461.18" cy="34.4" r="2.55"/><circle cx="461.63" cy="34.41" r="2.55"/><circle cx="462.08" cy="34.37" r="2.55"/><circle cx="462.53" cy="34.39" r="2.55"/><circle cx="462.98" cy="34.4" r="2.55"/><circle cx="463.43" cy="34.37" r="2.55"/><circle cx="463.88" cy="34.4" r="2.55"/><circle cx="464.33" cy="34.41" r="2.55"/><circle cx="464.78" cy="34.4" r="2.55"/><circle cx="465.23" cy="34.41" r="2.55"/><circle cx="465.68" cy="34.41" r="2.55"/><circle cx="466.13" cy="34.38" r="2.55"/><circle cx="466.58" cy="34.39" r="2.55"/><circle cx="467.03" cy="34.43" r="2.55"/><circle cx="467.48" cy="34.39" r="2.55"/><circle cx="467.93" cy="34.4" r="2.55"/><circle cx="468.38" cy="34.38" r="2.55"/><circle cx="468.83" cy="34.38" r="2.55"/><circle cx="469.28" cy="34.38" r="2.55"/><circle cx="469.73" cy="34.43" r="2.55"/><circle cx="470.18" cy="34.41" r="2.55"/><circle cx="470.63" cy="34.42" r="2.55"/><circle cx="471.08" cy="34.43" r="2.55"/><circle cx="471.53" cy="34.41" r="2.55"/><circle cx="471.98" cy="34.43" r="2.55"/><circle cx="472.43" cy="34.4" r="2.55"/><circle cx="472.88" cy="34.4" r="2.55"/><circle cx="473.33" cy="34.43" r="2.55"/><circle cx="473.78" cy="34.42" r="2.55"/><circle cx="474.23" cy="34.43" r="2.55"/><circle cx="474.68" cy="34.4" r="2.55"/><circle cx="475.13" cy="34.42" r="2.55"/><circle cx="475.58" cy="34.39" r="2.55"/><circle cx="476.03" cy="34.43" r="2.55"/><circle cx="476.48" cy="34.43" r="2.55"/><circle cx="476.93" cy="34.39" r="2.55"/><circle cx="477.38" cy="34.43" r="2.55"/><circle cx="477.83" cy="34.38" r="2.55"/><circle cx="478.28" cy="34.38" r="2.55"/><circle cx="478.73" cy="34.41" r="2.55"/><circle cx="479.18" cy="34.39" r="2.55"/><circle cx="479.63" cy="34.4" r="2.55"/><circle cx="480.08" cy="34.41" r="2.55"/><circle cx="480.53" cy="34.37" r="2.55"/><circle cx="480.98" cy="34.41" r="2.55"/><circle cx="481.43" cy="34.39" r="2.55"/><circle cx="481.88" cy="34.4" r="2.55"/><circle cx="482.33" cy="34.39" r="2.55"/><circle cx="482.78" cy="34.41" r="2.55"/><circle cx="483.23" cy="34.41" r="2.55"/><circle cx="483.68" cy="34.39" r="2.55"/><circle cx="484.13" cy="34.38" r="2.55"/><circle cx="484.58" cy="34.39" r="2.55"/><circle cx="485.03" cy="34.39" r="2.55"/><circle cx="485.48" cy="34.37" r="2.55"/><circle cx="485.93" cy="34.38" r="2.55"/><circle cx="486.38" cy="34.42" r="2.55"/><circle cx="486.83" cy="34.41" r="2.55"/><circle cx="487.28" cy="34.43" r="2.55"/><circle cx="487.73" cy="34.43" r="2.55"/><circle cx="488.18" cy="34.42" r="2.55"/><circle cx="488.63" cy="34.39" r="2.55"/><circle cx="489.08" cy="34.38" r="2.55"/><circle cx="489.53" cy="34.39" r="2.55"/><circle cx="489.98" cy="34.4" r="2.55"/><circle cx="490.43" cy="34.4" r="2.55"/><circle cx="490.88" cy="34.4" r="2.55"/><circle cx="491.33" cy="34.39" r="2.55"/><circle cx="491.78" cy="34.42" r="2.55"/><circle cx="492.23" cy="34.39" r="2.55"/><circle cx="492.68" cy="34.4" r="2.55"/><circle cx="493.13" cy="34.42" r="2.55"/><circle cx="493.58" cy="34.42" r="2.55"/><circle cx="494.03" cy="34.39" r="2.55"/><circle cx="494.48" cy="34.38" r="2.55"/><circle cx="494.93" cy="34.42" r="2.55"/><circle cx="495.38" cy="34.37" r="2.55"/><circle cx="495.83" cy="34.38" r="2.55"/><circle cx="496.28" cy="34.4" r="2.55"/><circle cx="496.73" cy="34.4" r="2.55"/><circle cx="497.18" cy="34.38" r="2.55"/><circle cx="497.63" cy="34.37" r="2.55"/><circle cx="498.08" cy="34.38" r="2.55"/><circle cx="498.53" cy="34.42" r="2.55"/><circle cx="498.98" cy="34.4" r="2.55"/><circle cx="499.43" cy="34.43" r="2.55"/><circle cx="499.88" cy="34.42" r="2.55"/><circle cx="500.33" cy="34.43" r="2.55"/><circle cx="500.78" cy="34.37" r="2.55"/><circle cx="501.23" cy="34.38" r="2.55"/><circle cx="501.68" cy="34.37" r="2.55"/><circle cx="502.13" cy="34.4" r="2.55"/><circle cx="502.58" cy="34.39" r="2.55"/><circle cx="503.03" cy="34.37" r="2.55"/><circle cx="503.48" cy="34.4" r="2.55"/><circle cx="503.93" cy="34.38" r="2.55"/><circle cx="504.38" cy="34.39" r="2.55"/><circle cx="504.83" cy="34.38" r="2.55"/><circle cx="505.28" cy="34.42" r="2.55"/><circle cx="505.73" cy="34.4" r="2.55"/><circle cx="506.18" cy="34.39" r="2.55"/><circle cx="506.63" cy="34.37" r="2.55"/><circle cx="507.08" cy="34.4" r="2.55"/><circle cx="507.53" cy="34.41" r="2.55"/><circle cx="507.98" cy="34.41" r="2.55"/><circle cx="508.43" cy="34.42" r="2.55"/><circle cx="508.88" cy="34.42" r="2.55"/><circle cx="509.33" cy="34.38" r="2.55"/><circle cx="509.78" cy="34.38" r="2.55"/><circle cx="510.23" cy="34.42" r="2.55"/><circle cx="510.68" cy="34.42" r="2.55"/><circle cx="511.13" cy="34.4" r="2.55"/><circle cx="511.58" cy="34.42" r="2.55"/><circle cx="512.03" cy="34.4" r="2.55"/><circle cx="512.48" cy="34.39" r="2.55"/><circle cx="512.93" cy="34.38" r="2.55"/><circle cx="513.38" cy="34.37" r="2.55"/><circle cx="513.83" cy="34.41" r="2.55"/><circle cx="514.28" cy="34.42" r="2.55"/><circle cx="514.73" cy="34.42" r="2.55"/><circle cx="515.18" cy="34.4" r="2.55"/><circle cx="515.63" cy="34.41" r="2.55"/><circle cx="516.08" cy="34.43" r="2.55"/><circle cx="516.53" cy="34.42" r="2.55"/><circle cx="516.98" cy="34.41" r="2.55"/><circle cx="517.43" cy="34.39" r="2.55"/><circle cx="517.88" cy="34.4" r="2.55"/><circle cx="518.33" cy="34.38" r="2.55"/><circle cx="518.78" cy="34.38" r="2.55"/><circle cx="519.23" cy="34.41" r="2.55"/><circle cx="519.68" cy="34.43" r="2.55"/><circle cx="520.13" cy="34.4" r="2.55"/><circle cx="520.58" cy="34.39" r="2.55"/><circle cx="521.03" cy="34.39" r="2.55"/><circle cx="521.48" cy="34.4" r="2.55"/><circle cx="521.93" cy="34.42" r="2.55"/><circle cx="522.38" cy="34.4" r="2.55"/><circle cx="522.83" cy="34.43" r="2.55"/><circle cx="523.28" cy="34.38" r="2.55"/><circle cx="523.73" cy="34.39" r="2.55"/><circle cx="524.18" cy="34.4" r="2.55"/><circle cx="524.63" cy="34.39" r="2.55"/><circle cx="525.08" cy="34.42" r="2.55"/><circle cx="525.53" cy="34.42" r="2.55"/><circle cx="525.98" cy="34.43" r="2.55"/><circle cx="526.43" cy="34.41" r="2.55"/><circle cx="526.88" cy="34.37" r="2.55"/><circle cx="527.33" cy="34.4" r="2.55"/><circle cx="527.78" cy="34.4" r="2.55"/><circle cx="528.23" cy="34.4" r="2.55"/><circle cx="528.68" cy="34.39" r="2.55"/><circle cx="529.13" cy="34.41" r="2.55"/><circle cx="529.58" cy="34.42" r="2.55"/><circle cx="530.03" cy="34.38" r="2.55"/><circle cx="530.48" cy="34.41" r="2.55"/><circle cx="530.93" cy="34.39" r="2.55"/><circle cx="531.38" cy="34.4" r="2.55"/><circle cx="531.83" cy="34.42" r="2.55"/><circle cx="532.28" cy="34.43" r="2.55"/><circle cx="532.73" cy="34.41" r="2.55"/><circle cx="533.18" cy="34.38" r="2.55"/><circle cx="533.63" cy="34.43" r="2.55"/><circle cx="534.08" cy="34.38" r="2.55"/><circle cx="534.53" cy="34.39" r="2.55"/><circle cx="534.98" cy="34.42" r="2.55"/><circle cx="535.43" cy="34.39" r="2.55"/><circle cx="535.88" cy="34.39" r="2.55"/><circle cx="536.33" cy="34.43" r="2.55"/><circle cx="536.78" cy="34.43" r="2.55"/><circle cx="537.23" cy="34.39" r="2.55"/><circle cx="537.68" cy="34.39" r="2.55"/><circle cx="538.13" cy="34.39" r="2.55"/><circle cx="538.58" cy="34.38" r="2.55"/><circle cx="539.03" cy="34.39" r="2.55"/><circle cx="539.48" cy="34.43" r="2.55"/><circle cx="539.93" cy="34.37" r="2.55"/><circle cx="540.38" cy="34.38" r="2.55"/><circle cx="540.83" cy="34.38" r="2.55"/><circle cx="541.28" cy="34.37" r="2.55"/><circle cx="541.73" cy="34.4" r="2.55"/><circle cx="542.18" cy="34.41" r="2.55"/><circle cx="542.63" cy="34.42" r="2.55"/><circle cx="543.08" cy="34.41" r="2.55"/><circle cx="543.53" cy="34.42" r="2.55"/><circle cx="543.98" cy="34.37" r="2.55"/><circle cx="544.43" cy="34.39" r="2.55"/><circle cx="544.88" cy="34.43" r="2.55"/><circle cx="545.33" cy="34.37" r="2.55"/><circle cx="545.78" cy="34.39" r="2.55"/><circle cx="546.23" cy="34.4" r="2.55"/><circle cx="546.68" cy="34.39" r="2.55"/><circle cx="547.13" cy="34.4" r="2.55"/><circle cx="547.58" cy="34.37" r="2.55"/><circle cx="548.03" cy="34.38" r="2.55"/><circle cx="548.48" cy="34.43" r="2.55"/><circle cx="548.93" cy="34.38" r="2.55"/><circle cx="549.38" cy="34.42" r="2.55"/><circle cx="549.83" cy="34.38" r="2.55"/><circle cx="550.28" cy="34.43" r="2.55"/><circle cx="550.73" cy="34.41" r="2.55"/><circle cx="551.18" cy="34.41" r="2.55"/><circle cx="551.63" cy="34.38" r="2.55"/><circle cx="552.08" cy="34.37" r="2.55"/><circle cx="552.53" cy="34.42" r="2.55"/><circle cx="552.98" cy="34.38" r="2.55"/><circle cx="553.43" cy="34.38" r="2.55"/><circle cx="553.88" cy="34.42" r="2.55"/><circle cx="554.33" cy="34.42" r="2.55"/><circle cx="554.78" cy="34.37" r="2.55"/><circle cx="555.23" cy="34.43" r="2.55"/><circle cx="555.68" cy="34.4" r="2.55"/><circle cx="556.13" cy="34.39" r="2.55"/><circle cx="556.58" cy="34.38" r="2.55"/><circle cx="557.03" cy="34.39" r="2.55"/><circle cx="557.48" cy="34.43" r="2.55"/><circle cx="557.93" cy="34.39" r="2.55"/><circle cx="558.38" cy="34.38" r="2.55"/><circle cx="558.83" cy="34.38" r="2.55"/><circle cx="559.28" cy="34.38" r="2.55"/><circle cx="559.73" cy="34.39" r="2.55"/><circle cx="560.18" cy="34.42" r="2.55"/><circle cx="560.63" cy="34.37" r="2.55"/><circle cx="561.08" cy="34.38" r="2.55"/><circle cx="561.53" cy="34.43" r="2.55"/><circle cx="561.98" cy="34.43" r="2.55"/><circle cx="562.43" cy="34.43" r="2.55"/><circle cx="562.88" cy="34.38" r="2.55"/><circle cx="563.33" cy="34.39" r="2.55"/><circle cx="563.78" cy="34.43" r="2.55"/><circle cx="564.23" cy="34.4" r="2.55"/><circle cx="564.68" cy="34.41" r="2.55"/><circle cx="565.13" cy="34.39" r="2.55"/><circle cx="565.58" cy="34.37" r="2.55"/><circle cx="566.03" cy="34.39" r="2.55"/><circle cx="566.48" cy="34.41" r="2.55"/><circle cx="566.93" cy="34.42" r="2.55"/><circle cx="567.38" cy="34.4" r="2.55"/><circle cx="567.83" cy="34.4" r="2.55"/><circle cx="568.28" cy="34.4" r="2.55"/><circle cx="568.73" cy="34.4" r="2.55"/><circle cx="569.18" cy="34.4" r="2.55"/><circle cx="569.63" cy="34.42" r="2.55"/><circle cx="570.08" cy="34.38" r="2.55"/><circle cx="570.53" cy="34.41" r="2.55"/><circle cx="570.98" cy="34.43" r="2.55"/><circle cx="571.43" cy="34.42" r="2.55"/><circle cx="571.88" cy="34.38" r="2.55"/><circle cx="572.33" cy="34.43" r="2.55"/><circle cx="572.78" cy="34.42" r="2.55"/><circle cx="573.23" cy="34.38" r="2.55"/><circle cx="573.68" cy="34.39" r="2.55"/><circle cx="574.13" cy="34.38" r="2.55"/><circle cx="574.58" cy="34.37" r="2.55"/><circle cx="575.03" cy="34.43" r="2.55"/><circle cx="575.48" cy="34.39" r="2.55"/><circle cx="575.93" cy="34.42" r="2.55"/><circle cx="576.38" cy="34.38" r="2.55"/><circle cx="576.83" cy="34.37" r="2.55"/><circle cx="577.28" cy="34.42" r="2.55"/><circle cx="577.73" cy="34.42" r="2.55"/><circle cx="578.18" cy="34.43" r="2.55"/><circle cx="578.63" cy="34.41" r="2.55"/><circle cx="579.08" cy="34.4" r="2.55"/><circle cx="579.53" cy="34.42" r="2.55"/><circle cx="579.98" cy="34.38" r="2.55"/><circle cx="580.43" cy="34.4" r="2.55"/><circle cx="580.88" cy="34.4" r="2.55"/><circle cx="581.33" cy="34.38" r="2.55"/><circle cx="581.78" cy="34.41" r="2.55"/><circle cx="582.23" cy="34.39" r="2.55"/><circle cx="582.68" cy="34.4" r="2.55"/><circle cx="583.13" cy="34.39" r="2.55"/><circle cx="583.58" cy="34.39" r="2.55"/><circle cx="584.03" cy="34.39" r="2.55"/><circle cx="584.48" cy="34.41" r="2.55"/><circle cx="584.93" cy="34.43" r="2.55"/><circle cx="585.38" cy="34.43" r="2.55"/><circle cx="585.83" cy="34.42" r="2.55"/><circle cx="586.28" cy="34.42" r="2.55"/><circle cx="586.73" cy="34.39" r="2.55"/><circle cx="587.18" cy="34.43" r="2.55"/><circle cx="587.63" cy="34.39" r="2.55"/><circle cx="588.08" cy="34.38" r="2.55"/><circle cx="588.53" cy="34.4" r="2.55"/><circle cx="588.98" cy="34.41" r="2.55"/><circle cx="589.43" cy="34.39" r="2.55"/><circle cx="589.88" cy="34.41" r="2.55"/><circle cx="590.33" cy="34.39" r="2.55"/><circle cx="590.78" cy="34.43" r="2.55"/><circle cx="591.23" cy="34.4" r="2.55"/><circle cx="591.68" cy="34.4" r="2.55"/><circle cx="592.13" cy="34.4" r="2.55"/><circle cx="592.58" cy="34.42" r="2.55"/><circle cx="593.03" cy="34.43" r="2.55"/><circle cx="593.48" cy="34.4" r="2.55"/><circle cx="593.93" cy="34.4" r="2.55"/><circle cx="594.38" cy="34.41" r="2.55"/><circle cx="594.83" cy="34.37" r="2.55"/><circle cx="595.28" cy="34.4" r="2.55"/><circle cx="595.73" cy="34.42" r="2.55"/><circle cx="596.18" cy="34.42" r="2.55"/><circle cx="596.63" cy="34.37" r="2.55"/><circle cx="597.08" cy="34.42" r="2.55"/><circle cx="597.53" cy="34.39" r="2.55"/><circle cx="597.98" cy="34.43" r="2.55"/><circle cx="598.43" cy="34.39" r="2.55"/><circle cx="598.88" cy="34.38" r="2.55"/><circle cx="599.33" cy="34.4" r="2.55"/><circle cx="599.78" cy="34.42" r="2.55"/><circle cx="600.23" cy="34.4" r="2.55"/><circle cx="600.68" cy="34.42" r="2.55"/><circle cx="601.13" cy="34.41" r="2.55"/><circle cx="601.58" cy="34.39" r="2.55"/><circle cx="602.03" cy="34.39" r="2.55"/><circle cx="602.48" cy="34.4" r="2.55"/><circle cx="602.93" cy="34.39" r="2.55"/><circle cx="603.38" cy="34.39" r="2.55"/><circle cx="603.83" cy="34.41" r="2.55"/><circle cx="604.28" cy="34.42" r="2.55"/><circle cx="604.73" cy="34.41" r="2.55"/><circle cx="605.18" cy="34.38" r="2.55"/><circle cx="605.63" cy="34.38" r="2.55"/><circle cx="606.08" cy="34.39" r="2.55"/><circle cx="606.53" cy="34.41" r="2.55"/><circle cx="606.98" cy="34.38" r="2.55"/><circle cx="607.43" cy="34.37" r="2.55"/><circle cx="607.88" cy="34.39" r="2.55"/><circle cx="608.33" cy="34.39" r="2.55"/><circle cx="608.78" cy="34.37" r="2.55"/><circle cx="609.23" cy="34.4" r="2.55"/><circle cx="609.68" cy="34.43" r="2.55"/><circle cx="610.13" cy="34.4" r="2.55"/><circle cx="610.58" cy="34.41" r="2.55"/><circle cx="611.03" cy="34.42" r="2.55"/><circle cx="611.48" cy="34.42" r="2.55"/><circle cx="611.93" cy="34.42" r="2.55"/><circle cx="612.38" cy="34.4" r="2.55"/><circle cx="612.83" cy="34.41" r="2.55"/><circle cx="613.28" cy="34.38" r="2.55"/><circle cx="613.73" cy="34.42" r="2.55"/><circle cx="614.18" cy="34.39" r="2.55"/><circle cx="614.63" cy="34.4" r="2.55"/><circle cx="615.08" cy="34.42" r="2.55"/><circle cx="615.53" cy="34.39" r="2.55"/><circle cx="615.98" cy="34.38" r="2.55"/><circle cx="616.43" cy="34.42" r="2.55"/><circle cx="616.88" cy="34.41" r="2.55"/><circle cx="617.33" cy="34.38" r="2.55"/><circle cx="617.78" cy="34.37" r="2.55"/><circle cx="618.23" cy="34.39" r="2.55"/><circle cx="618.68" cy="34.37" r="2.55"/><circle cx="619.13" cy="34.42" r="2.55"/><circle cx="619.58" cy="34.38" r="2.55"/><circle cx="620.03" cy="34.39" r="2.55"/><circle cx="620.48" cy="34.39" r="2.55"/><circle cx="620.93" cy="34.4" r="2.55"/><circle cx="621.38" cy="34.4" r="2.55"/><circle cx="621.83" cy="34.41" r="2.55"/><circle cx="622.28" cy="34.41" r="2.55"/><circle cx="622.73" cy="34.4" r="2.55"/><circle cx="623.18" cy="34.38" r="2.55"/><circle cx="623.63" cy="34.43" r="2.55"/><circle cx="624.08" cy="34.41" r="2.55"/><circle cx="624.53" cy="34.38" r="2.55"/><circle cx="624.98" cy="34.4" r="2.55"/><circle cx="625.43" cy="34.42" r="2.55"/><circle cx="625.88" cy="34.43" r="2.55"/><circle cx="626.33" cy="34.37" r="2.55"/><circle cx="626.78" cy="34.37" r="2.55"/><circle cx="627.23" cy="34.4" r="2.55"/><circle cx="627.68" cy="34.4" r="2.55"/><circle cx="628.13" cy="34.42" r="2.55"/><circle cx="628.58" cy="34.42" r="2.55"/><circle cx="629.03" cy="34.39" r="2.55"/><circle cx="629.48" cy="34.4" r="2.55"/><circle cx="629.93" cy="34.4" r="2.55"/><circle cx="630.38" cy="34.42" r="2.55"/><circle cx="630.83" cy="34.38" r="2.55"/><circle cx="631.28" cy="34.39" r="2.55"/><circle cx="631.73" cy="34.38" r="2.55"/><circle cx="632.18" cy="34.41" r="2.55"/><circle cx="632.63" cy="34.37" r="2.55"/><circle cx="633.08" cy="34.43" r="2.55"/><circle cx="633.53" cy="34.4" r="2.55"/><circle cx="633.98" cy="34.4" r="2.55"/><circle cx="634.43" cy="34.38" r="2.55"/><circle cx="634.88" cy="34.38" r="2.55"/><circle cx="635.33" cy="34.4" r="2.55"/><circle cx="635.78" cy="34.42" r="2.55"/><circle cx="636.23" cy="34.4" r="2.55"/><circle cx="636.68" cy="34.39" r="2.55"/><circle cx="637.13" cy="34.43" r="2.55"/><circle cx="637.58" cy="34.41" r="2.55"/><circle cx="638.03" cy="34.4" r="2.55"/><circle cx="638.48" cy="34.38" r="2.55"/><circle cx="638.93" cy="34.39" r="2.55"/><circle cx="639.38" cy="34.42" r="2.55"/><circle cx="639.83" cy="34.38" r="2.55"/><circle cx="640.28" cy="34.4" r="2.55"/><circle cx="640.73" cy="34.41" r="2.55"/><circle cx="641.18" cy="34.39" r="2.55"/><circle cx="641.63" cy="34.42" r="2.55"/><circle cx="642.08" cy="34.42" r="2.55"/><circle cx="642.53" cy="34.42" r="2.55"/><circle cx="642.98" cy="34.41" r="2.55"/><circle cx="643.43" cy="34.38" r="2.55"/><circle cx="643.88" cy="34.37" r="2.55"/><circle cx="644.33" cy="34.4" r="2.55"/><circle cx="644.78" cy="34.39" r="2.55"/><circle cx="645.23" cy="34.38" r="2.55"/><circle cx="645.68" cy="34.42" r="2.55"/><circle cx="646.13" cy="34.38" r="2.55"/><circle cx="646.58" cy="34.42" r="2.55"/><circle cx="647.03" cy="34.43" r="2.55"/><circle cx="647.48" cy="34.38" r="2.55"/><circle cx="647.93" cy="34.42" r="2.55"/><circle cx="648.38" cy="34.39" r="2.55"/><circle cx="648.83" cy="34.38" r="2.55"/><circle cx="649.28" cy="34.38" r="2.55"/><circle cx="649.73" cy="34.37" r="2.55"/><circle cx="650.18" cy="34.4" r="2.55"/><circle cx="650.63" cy="34.39" r="2.55"/><circle cx="651.08" cy="34.42" r="2.55"/><circle cx="651.53" cy="34.42" r="2.55"/><circle cx="651.98" cy="34.37" r="2.55"/><circle cx="652.43" cy="34.39" r="2.55"/><circle cx="652.88" cy="34.39" r="2.55"/><circle cx="653.33" cy="34.38" r="2.55"/><circle cx="653.78" cy="34.39" r="2.55"/><circle cx="654.23" cy="34.39" r="2.55"/><circle cx="654.68" cy="34.41" r="2.55"/><circle cx="655.13" cy="34.39" r="2.55"/><circle cx="655.58" cy="34.38" r="2.55"/><circle cx="656.03" cy="34.38" r="2.55"/><circle cx="656.48" cy="34.4" r="2.55"/><circle cx="656.93" cy="34.4" r="2.55"/><circle cx="657.38" cy="34.38" r="2.55"/><circle cx="657.83" cy="34.41" r="2.55"/><circle cx="658.28" cy="34.38" r="2.55"/><circle cx="658.73" cy="34.41" r="2.55"/><circle cx="659.18" cy="34.41" r="2.55"/><circle cx="659.63" cy="34.38" r="2.55"/><circle cx="660.08" cy="34.42" r="2.55"/><circle cx="660.53" cy="34.39" r="2.55"/><circle cx="660.98" cy="34.4" r="2.55"/><circle cx="661.43" cy="34.41" r="2.55"/><circle cx="661.88" cy="34.41" r="2.55"/><circle cx="662.33" cy="34.4" r="2.55"/><circle cx="662.78" cy="34.37" r="2.55"/><circle cx="663.23" cy="34.42" r="2.55"/><circle cx="663.68" cy="34.42" r="2.55"/><circle cx="664.13" cy="34.4" r="2.55"/><circle cx="664.58" cy="34.4" r="2.55"/><circle cx="665.03" cy="34.39" r="2.55"/><circle cx="665.48" cy="34.42" r="2.55"/><circle cx="665.93" cy="34.41" r="2.55"/><circle cx="666.38" cy="34.38" r="2.55"/><circle cx="666.83" cy="34.42" r="2.55"/><circle cx="667.28" cy="34.43" r="2.55"/><circle cx="667.73" cy="34.39" r="2.55"/><circle cx="668.18" cy="34.43" r="2.55"/><circle cx="668.63" cy="34.4" r="2.55"/><circle cx="669.08" cy="34.38" r="2.55"/><circle cx="669.53" cy="34.41" r="2.55"/><circle cx="669.98" cy="34.39" r="2.55"/><circle cx="670.43" cy="34.41" r="2.55"/><circle cx="670.88" cy="34.41" r="2.55"/><circle cx="671.33" cy="34.38" r="2.55"/><circle cx="671.78" cy="34.4" r="2.55"/><circle cx="672.23" cy="34.42" r="2.55"/><circle cx="672.68" cy="34.4" r="2.55"/><circle cx="673.13" cy="34.4" r="2.55"/><circle cx="673.58" cy="34.42" r="2.55"/><circle cx="674.03" cy="34.4" r="2.55"/><circle cx="674.48" cy="34.4" r="2.55"/><circle cx="674.93" cy="34.4" r="2.55"/><circle cx="675.38" cy="34.42" r="2.55"/><circle cx="675.83" cy="34.38" r="2.55"/><circle cx="676.28" cy="34.38" r="2.55"/><circle cx="676.73" cy="34.42" r="2.55"/><circle cx="677.18" cy="34.4" r="2.55"/><circle cx="677.63" cy="34.39" r="2.55"/><circle cx="678.08" cy="34.42" r="2.55"/><circle cx="678.53" cy="34.42" r="2.55"/><circle cx="678.98" cy="34.4" r="2.55"/><circle cx="679.43" cy="34.43" r="2.55"/><circle cx="679.88" cy="34.42" r="2.55"/><circle cx="680.33" cy="34.41" r="2.55"/><circle cx="680.78" cy="34.39" r="2.55"/><circle cx="681.23" cy="34.37" r="2.55"/><circle cx="681.68" cy="34.41" r="2.55"/><circle cx="682.13" cy="34.41" r="2.55"/><circle cx="682.58" cy="34.39" r="2.55"/><circle cx="683.03" cy="34.4" r="2.55"/><circle cx="683.48" cy="34.4" r="2.55"/><circle cx="683.93" cy="34.38" r="2.55"/><circle cx="684.38" cy="34.41" r="2.55"/><circle cx="684.83" cy="34.4" r="2.55"/><circle cx="685.28" cy="34.39" r="2.55"/><circle cx="685.73" cy="34.38" r="2.55"/><circle cx="686.18" cy="34.4" r="2.55"/><circle cx="686.63" cy="34.39" r="2.55"/><circle cx="687.08" cy="34.41" r="2.55"/><circle cx="687.53" cy="34.38" r="2.55"/><circle cx="687.98" cy="34.39" r="2.55"/><circle cx="688.43" cy="34.38" r="2.55"/><circle cx="688.88" cy="34.39" r="2.55"/><circle cx="689.33" cy="34.4" r="2.55"/><circle cx="689.78" cy="34.38" r="2.55"/><circle cx="690.23" cy="34.37" r="2.55"/><circle cx="690.68" cy="34.4" r="2.55"/><circle cx="691.13" cy="34.38" r="2.55"/><circle cx="691.58" cy="34.4" r="2.55"/><circle cx="692.03" cy="34.38" r="2.55"/><circle cx="692.48" cy="34.38" r="2.55"/><circle cx="692.93" cy="34.4" r="2.55"/><circle cx="693.38" cy="34.43" r="2.55"/><circle cx="693.83" cy="34.42" r="2.55"/><circle cx="694.28" cy="34.4" r="2.55"/><circle cx="694.73" cy="34.39" r="2.55"/><circle cx="695.18" cy="34.37" r="2.55"/><circle cx="695.63" cy="34.39" r="2.55"/><circle cx="696.08" cy="34.39" r="2.55"/><circle cx="696.53" cy="34.43" r="2.55"/><circle cx="696.98" cy="34.38" r="2.55"/><circle cx="697.43" cy="34.43" r="2.55"/><circle cx="697.88" cy="34.4" r="2.55"/><circle cx="698.33" cy="34.4" r="2.55"/><circle cx="698.78" cy="34.39" r="2.55"/><circle cx="699.23" cy="34.43" r="2.55"/><circle cx="699.68" cy="34.38" r="2.55"/><circle cx="700.13" cy="34.4" r="2.55"/><circle cx="700.58" cy="34.4" r="2.55"/><circle cx="701.03" cy="34.38" r="2.55"/><circle cx="701.48" cy="34.38" r="2.55"/><circle cx="701.93" cy="34.43" r="2.55"/><circle cx="702.38" cy="34.42" r="2.55"/><circle cx="702.83" cy="34.41" r="2.55"/><circle cx="703.28" cy="34.42" r="2.55"/><circle cx="703.73" cy="34.38" r="2.55"/><circle cx="704.18" cy="34.41" r="2.55"/><circle cx="704.63" cy="34.42" r="2.55"/><circle cx="705.08" cy="34.38" r="2.55"/><circle cx="705.53" cy="34.4" r="2.55"/><circle cx="705.98" cy="34.43" r="2.55"/><circle cx="706.43" cy="34.39" r="2.55"/><circle cx="706.88" cy="34.42" r="2.55"/><circle cx="707.33" cy="34.38" r="2.55"/><circle cx="707.78" cy="34.41" r="2.55"/><circle cx="708.23" cy="34.39" r="2.55"/><circle cx="708.68" cy="34.4" r="2.55"/><circle cx="709.13" cy="34.39" r="2.55"/><circle cx="709.58" cy="34.42" r="2.55"/><circle cx="710.03" cy="34.41" r="2.55"/><circle cx="710.48" cy="34.4" r="2.55"/><circle cx="710.93" cy="34.41" r="2.55"/><circle cx="711.38" cy="34.4" r="2.55"/><circle cx="711.83" cy="34.42" r="2.55"/><circle cx="712.28" cy="34.39" r="2.55"/><circle cx="712.73" cy="34.4" r="2.55"/><circle cx="713.18" cy="34.41" r="2.55"/><circle cx="713.63" cy="34.39" r="2.55"/><circle cx="714.08" cy="34.37" r="2.55"/><circle cx="714.53" cy="34.38" r="2.55"/><circle cx="714.98" cy="34.41" r="2.55"/><circle cx="715.43" cy="34.38" r="2.55"/><circle cx="715.88" cy="34.42" r="2.55"/><circle cx="716.33" cy="34.4" r="2.55"/><circle cx="716.78" cy="34.43" r="2.55"/><circle cx="717.23" cy="34.42" r="2.55"/><circle cx="717.68" cy="34.41" r="2.55"/><circle cx="718.13" cy="34.39" r="2.55"/><circle cx="718.58" cy="34.37" r="2.55"/><circle cx="719.03" cy="34.4" r="2.55"/><circle cx="719.48" cy="34.41" r="2.55"/><circle cx="719.93" cy="34.43" r="2.55"/><circle cx="720.38" cy="34.38" r="2.55"/><circle cx="720.83" cy="34.38" r="2.55"/><circle cx="721.28" cy="34.43" r="2.55"/><circle cx="721.73" cy="34.41" r="2.55"/><circle cx="722.18" cy="34.4" r="2.55"/><circle cx="722.63" cy="34.41" r="2.55"/><circle cx="723.08" cy="34.38" r="2.55"/><circle cx="723.53" cy="34.4" r="2.55"/><circle cx="723.98" cy="34.41" r="2.55"/><circle cx="724.43" cy="34.41" r="2.55"/><circle cx="724.88" cy="34.38" r="2.55"/><circle cx="725.33" cy="34.38" r="2.55"/><circle cx="725.78" cy="34.41" r="2.55"/><circle cx="726.23" cy="34.42" r="2.55"/><circle cx="726.68" cy="34.38" r="2.55"/><circle cx="727.13" cy="34.37" r="2.55"/><circle cx="727.58" cy="34.37" r="2.55"/><circle cx="728.03" cy="34.42" r="2.55"/><circle cx="728.48" cy="34.39" r="2.55"/><circle cx="728.93" cy="34.4" r="2.55"/><circle cx="729.38" cy="34.43" r="2.55"/><circle cx="729.83" cy="34.41" r="2.55"/><circle cx="730.28" cy="34.39" r="2.55"/><circle cx="730.73" cy="34.41" r="2.55"/><circle cx="731.18" cy="34.37" r="2.55"/><circle cx="731.63" cy="34.39" r="2.55"/><circle cx="732.08" cy="34.41" r="2.55"/><circle cx="732.53" cy="34.38" r="2.55"/><circle cx="732.98" cy="34.37" r="2.55"/><circle cx="733.43" cy="34.4" r="2.55"/><circle cx="733.88" cy="34.39" r="2.55"/><circle cx="734.33" cy="34.43" r="2.55"/><circle cx="734.78" cy="34.38" r="2.55"/><circle cx="735.23" cy="34.42" r="2.55"/><circle cx="735.68" cy="34.39" r="2.55"/><circle cx="736.13" cy="34.42" r="2.55"/><circle cx="736.58" cy="34.4" r="2.55"/><circle cx="737.03" cy="34.41" r="2.55"/><circle cx="737.48" cy="34.39" r="2.55"/><circle cx="737.93" cy="34.38" r="2.55"/><circle cx="738.38" cy="34.4" r="2.55"/><circle cx="738.83" cy="34.42" r="2.55"/><circle cx="739.28" cy="34.39" r="2.55"/><circle cx="739.73" cy="34.38" r="2.55"/><circle cx="740.18" cy="34.39" r="2.55"/><circle cx="740.63" cy="34.38" r="2.55"/><circle cx="741.08" cy="34.39" r="2.55"/><circle cx="741.53" cy="34.4" r="2.55"/><circle cx="741.98" cy="34.4" r="2.55"/><circle cx="742.43" cy="34.41" r="2.55"/><circle cx="742.88" cy="34.39" r="2.55"/><circle cx="743.33" cy="34.37" r="2.55"/><circle cx="743.78" cy="34.37" r="2.55"/><circle cx="744.23" cy="34.39" r="2.55"/><circle cx="744.68" cy="34.38" r="2.55"/><circle cx="745.13" cy="34.4" r="2.55"/><circle cx="745.58" cy="34.39" r="2.55"/><circle cx="746.03" cy="34.42" r="2.55"/><circle cx="746.48" cy="34.41" r="2.55"/><circle cx="746.93" cy="34.41" r="2.55"/><circle cx="747.38" cy="34.41" r="2.55"/><circle cx="747.83" cy="34.4" r="2.55"/><circle cx="748.28" cy="34.4" r="2.55"/><circle cx="748.73" cy="34.39" r="2.55"/><circle cx="749.18" cy="34.37" r="2.55"/><circle cx="749.63" cy="34.42" r="2.55"/><circle cx="750.08" cy="34.4" r="2.55"/><circle cx="750.53" cy="34.38" r="2.55"/><circle cx="750.98" cy="34.43" r="2.55"/><circle cx="751.43" cy="34.4" r="2.55"/><circle cx="751.88" cy="34.41" r="2.55"/><circle cx="752.33" cy="34.4" r="2.55"/><circle cx="752.78" cy="34.38" r="2.55"/><circle cx="753.23" cy="34.43" r="2.55"/><circle cx="753.68" cy="34.38" r="2.55"/><circle cx="754.13" cy="34.39" r="2.55"/><circle cx="754.58" cy="34.43" r="2.55"/><circle cx="755.03" cy="34.38" r="2.55"/><circle cx="755.48" cy="34.4" r="2.55"/><circle cx="755.93" cy="34.4" r="2.55"/><circle cx="756.38" cy="34.38" r="2.55"/><circle cx="756.83" cy="34.43" r="2.55"/><circle cx="757.28" cy="34.39" r="2.55"/><circle cx="757.73" cy="34.37" r="2.55"/><circle cx="758.18" cy="34.4" r="2.55"/><circle cx="758.63" cy="34.37" r="2.55"/><circle cx="759.08" cy="34.41" r="2.55"/><circle cx="759.53" cy="34.42" r="2.55"/><circle cx="759.98" cy="34.42" r="2.55"/><circle cx="760.43" cy="34.37" r="2.55"/><circle cx="760.88" cy="34.41" r="2.55"/><circle cx="761.33" cy="34.39" r="2.55"/><circle cx="761.78" cy="34.4" r="2.55"/><circle cx="762.23" cy="34.39" r="2.55"/><circle cx="762.68" cy="34.39" r="2.55"/><circle cx="763.13" cy="34.38" r="2.55"/><circle cx="763.58" cy="34.41" r="2.55"/><circle cx="764.03" cy="34.38" r="2.55"/><circle cx="764.48" cy="34.43" r="2.55"/><circle cx="764.93" cy="34.37" r="2.55"/><circle cx="765.38" cy="34.43" r="2.55"/><circle cx="765.83" cy="34.38" r="2.55"/><circle cx="766.28" cy="34.38" r="2.55"/><circle cx="766.73" cy="34.41" r="2.55"/><circle cx="767.18" cy="34.4" r="2.55"/><circle cx="767.63" cy="34.42" r="2.55"/><circle cx="768.08" cy="34.4" r="2.55"/><circle cx="768.53" cy="34.41" r="2.55"/><circle cx="768.98" cy="34.37" r="2.55"/><circle cx="769.43" cy="34.41" r="2.55"/><circle cx="769.88" cy="34.4" r="2.55"/><circle cx="770.33" cy="34.43" r="2.55"/><circle cx="770.78" cy="34.37" r="2.55"/><circle cx="771.23" cy="34.37" r="2.55"/><circle cx="771.68" cy="34.41" r="2.55"/><circle cx="772.13" cy="34.43" r="2.55"/><circle cx="772.58" cy="34.4" r="2.55"/><circle cx="773.03" cy="34.41" r="2.55"/><circle cx="773.48" cy="34.4" r="2.55"/><circle cx="773.93" cy="34.39" r="2.55"/><circle cx="774.38" cy="34.4" r="2.55"/><circle cx="774.83" cy="34.41" r="2.55"/><circle cx="775.28" cy="34.37" r="2.55"/><circle cx="775.73" cy="34.39" r="2.55"/><circle cx="776.18" cy="34.41" r="2.55"/><circle cx="776.63" cy="34.39" r="2.55"/><circle cx="777.08" cy="34.4" r="2.55"/><circle cx="777.53" cy="34.39" r="2.55"/><circle cx="777.98" cy="34.39" r="2.55"/><circle cx="778.43" cy="34.41" r="2.55"/><circle cx="778.88" cy="34.41" r="2.55"/><circle cx="779.33" cy="34.43" r="2.55"/><circle cx="779.78" cy="34.4" r="2.55"/><circle cx="780.23" cy="34.38" r="2.55"/><circle cx="780.68" cy="34.39" r="2.55"/><circle cx="781.13" cy="34.37" r="2.55"/><circle cx="781.58" cy="34.38" r="2.55"/><circle cx="782.03" cy="34.41" r="2.55"/><circle cx="782.48" cy="34.41" r="2.55"/><circle cx="782.93" cy="34.38" r="2.55"/><circle cx="783.38" cy="34.38" r="2.55"/><circle cx="783.83" cy="34.38" r="2.55"/><circle cx="784.28" cy="34.38" r="2.55"/><circle cx="784.73" cy="34.4" r="2.55"/><circle cx="785.18" cy="34.39" r="2.55"/><circle cx="785.63" cy="34.42" r="2.55"/><circle cx="786.08" cy="34.4" r="2.55"/><circle cx="786.53" cy="34.39" r="2.55"/><circle cx="786.98" cy="34.4" r="2.55"/><circle cx="787.43" cy="34.37" r="2.55"/><circle cx="787.88" cy="34.41" r="2.55"/><circle cx="788.33" cy="34.42" r="2.55"/><circle cx="788.78" cy="34.39" r="2.55"/><circle cx="789.23" cy="34.41" r="2.55"/><circle cx="789.68" cy="34.39" r="2.55"/><circle cx="790.13" cy="34.38" r="2.55"/><circle cx="790.58" cy="34.38" r="2.55"/><circle cx="791.03" cy="34.38" r="2.55"/><circle cx="791.48" cy="34.41" r="2.55"/><circle cx="791.93" cy="34.41" r="2.55"/><circle cx="792.38" cy="34.41" r="2.55"/><circle cx="792.83" cy="34.38" r="2.55"/><circle cx="793.28" cy="34.42" r="2.55"/><circle cx="793.73" cy="34.4" r="2.55"/><circle cx="794.18" cy="34.39" r="2.55"/><circle cx="794.63" cy="34.4" r="2.55"/><circle cx="795.08" cy="34.4" r="2.55"/><circle cx="795.53" cy="34.38" r="2.55"/><circle cx="795.98" cy="34.39" r="2.55"/><circle cx="796.43" cy="34.41" r="2.55"/><circle cx="796.88" cy="34.41" r="2.55"/><circle cx="797.33" cy="34.42" r="2.55"/><circle cx="797.78" cy="34.38" r="2.55"/><circle cx="798.23" cy="34.42" r="2.55"/><circle cx="798.68" cy="34.42" r="2.55"/><circle cx="799.13" cy="34.41" r="2.55"/><circle cx="799.58" cy="34.43" r="2.55"/><circle cx="800.03" cy="34.38" r="2.55"/><circle cx="800.48" cy="34.42" r="2.55"/><circle cx="800.93" cy="34.42" r="2.55"/><circle cx="801.38" cy="34.38" r="2.55"/><circle cx="801.83" cy="34.41" r="2.55"/><circle cx="802.28" cy="34.43" r="2.55"/><circle cx="802.73" cy="34.39" r="2.55"/><circle cx="803.18" cy="34.42" r="2.55"/><circle cx="803.63" cy="34.42" r="2.55"/><circle cx="804.08" cy="34.4" r="2.55"/><circle cx="804.53" cy="34.38" r="2.55"/><circle cx="804.98" cy="34.38" r="2.55"/><circle cx="805.43" cy="34.42" r="2.55"/><circle cx="805.88" cy="34.4" r="2.55"/><circle cx="806.33" cy="34.39" r="2.55"/><circle cx="806.78" cy="34.4" r="2.55"/><circle cx="807.23" cy="34.43" r="2.55"/><circle cx="807.68" cy="34.39" r="2.55"/><circle cx="808.13" cy="34.37" r="2.55"/><circle cx="808.58" cy="34.43" r="2.55"/><circle cx="809.03" cy="34.39" r="2.55"/><circle cx="809.48" cy="34.39" r="2.55"/><circle cx="809.93" cy="34.43" r="2.55"/><circle cx="810.38" cy="34.39" r="2.55"/><circle cx="810.83" cy="34.38" r="2.55"/><circle cx="811.28" cy="34.42" r="2.55"/><circle cx="811.73" cy="34.38" r="2.55"/><circle cx="812.18" cy="34.38" r="2.55"/><circle cx="812.63" cy="34.43" r="2.55"/><circle cx="813.08" cy="34.38" r="2.55"/><circle cx="813.53" cy="34.42" r="2.55"/><circle cx="813.98" cy="34.39" r="2.55"/><circle cx="814.43" cy="34.39" r="2.55"/><circle cx="814.88" cy="34.38" r="2.55"/><circle cx="815.33" cy="34.4" r="2.55"/><circle cx="815.78" cy="34.4" r="2.55"/><circle cx="816.23" cy="34.39" r="2.55"/><circle cx="816.68" cy="34.4" r="2.55"/><circle cx="817.13" cy="34.39" r="2.55"/><circle cx="817.58" cy="34.42" r="2.55"/><circle cx="818.03" cy="34.43" r="2.55"/><circle cx="818.48" cy="34.42" r="2.55"/><circle cx="818.93" cy="34.42" r="2.55"/><circle cx="819.38" cy="34.37" r="2.55"/><circle cx="819.83" cy="34.39" r="2.55"/><circle cx="820.28" cy="34.38" r="2.55"/><circle cx="820.73" cy="34.38" r="2.55"/><circle cx="821.18" cy="34.43" r="2.55"/><circle cx="821.63" cy="34.42" r="2.55"/><circle cx="822.08" cy="34.42" r="2.55"/><circle cx="822.53" cy="34.4" r="2.55"/><circle cx="822.98" cy="34.38" r="2.55"/><circle cx="823.43" cy="34.4" r="2.55"/><circle cx="823.88" cy="34.37" r="2.55"/><circle cx="824.33" cy="34.42" r="2.55"/><circle cx="824.78" cy="34.39" r="2.55"/><circle cx="825.23" cy="34.39" r="2.55"/></g>
<g fill="#000000"><circle cx="121.43" cy="34.38" r="1.6"/><circle cx="121.88" cy="34.4" r="1.6"/><circle cx="122.33" cy="34.39" r="1.6"/></g>
<g fill="#483d8b"><circle cx="125.48" cy="34.41" r="1.6"/><circle cx="125.93" cy="34.41" r="1.6"/><circle cx="126.38" cy="34.37" r="1.6"/><circle cx="126.83" cy="34.37" r="1.6"/><circle cx="127.28" cy="34.42" r="1.6"/><circle cx="127.73" cy="34.39" r="1.6"/><circle cx="128.18" cy="34.38" r="1.6"/><circle cx="128.63" cy="34.43" r="1.6"/><circle cx="129.08" cy="34.4" r="1.6"/><circle cx="129.53" cy="34.42" r="1.6"/><circle cx="129.98" cy="34.4" r="1.6"/><circle cx="130.43" cy="34.41" r="1.6"/><circle cx="130.88" cy="34.38" r="1.6"/><circle cx="131.33" cy="34.41" r="1.6"/><circle cx="131.78" cy="34.42" r="1.6"/><circle cx="132.23" cy="34.4" r="1.6"/><circle cx="132.68" cy="34.41" r="1.6"/><circle cx="133.13" cy="34.41" r="1.6"/><circle cx="133.58" cy="34.37" r="1.6"/><circle cx="134.03" cy="34.42" r="1.6"/><circle cx="134.48" cy="34.41" r="1.6"/><circle cx="134.93" cy="34.39" r="1.6"/><circle cx="135.38" cy="34.37" r="1.6"/><circle cx="135.83" cy="34.42" r="1.6"/><circle cx="136.28" cy="34.4" r="1.6"/><circle cx="136.73" cy="34.41" r="1.6"/><circle cx="137.18" cy="34.42" r="1.6"/><circle cx="137.63" cy="34.41" r="1.6"/><circle cx="138.08" cy="34.43" r="1.6"/><circle cx="138.53" cy="34.39" r="1.6"/><circle cx="138.98" cy="34.42" r="1.6"/><circle cx="139.43" cy="34.4" r="1.6"/><circle cx="139.88" cy="34.43" r="1.6"/><circle cx="140.33" cy="34.42" r="1.6"/><circle cx="140.78" cy="34.38" r="1.6"/><circle cx="141.23" cy="34.38" r="1.6"/><circle cx="141.68" cy="34.38" r="1.6"/><circle cx="142.13" cy="34.43" r="1.6"/><circle cx="142.58" cy="34.4" r="1.6"/><circle cx="143.03" cy="34.41" r="1.6"/><circle cx="143.48" cy="34.39" r="1.6"/><circle cx="143.93" cy="34.4" r="1.6"/><circle cx="144.38" cy="34.39" r="1.6"/><circle cx="144.83" cy="34.39" r="1.6"/><circle cx="145.28" cy="34.41" r="1.6"/><circle cx="145.73" cy="34.41" r="1.6"/><circle cx="146.18" cy="34.42" r="1.6"/><circle cx="146.63" cy="34.41" r="1.6"/><circle cx="147.08" cy="34.43" r="1.6"/><circle cx="147.53" cy="34.42" r="1.6"/><circle cx="147.98" cy="34.43" r="1.6"/><circle cx="148.43" cy="34.41" r="1.6"/><circle cx="148.88" cy="34.38" r="1.6"/><circle cx="149.33" cy="34.42" r="1.6"/><circle cx="149.78" cy="34.43" r="1.6"/><circle cx="150.23" cy="34.42" r="1.6"/><circle cx="150.68" cy="34.4" r="1.6"/><circle cx="151.13" cy="34.41" r="1.6"/><circle cx="151.58" cy="34.38" r="1.6"/><circle cx="152.03" cy="34.42" r="1.6"/><circle cx="152.48" cy="34.4" r="1.6"/><circle cx="152.93" cy="34.39" r="1.6"/><circle cx="153.38" cy="34.37" r="1.6"/><circle cx="153.83" cy="34.42" r="1.6"/><circle cx="154.28" cy="34.43" r="1.6"/><circle cx="154.73" cy="34.38" r="1.6"/><circle cx="155.18" cy="34.42" r="1.6"/><circle cx="155.63" cy="34.39" r="1.6"/><circle cx="156.08" cy="34.38" r="1.6"/><circle cx="156.53" cy="34.39" r="1.6"/><circle cx="156.98" cy="34.42" r="1.6"/><circle cx="157.43" cy="34.42" r="1.6"/><circle cx="157.88" cy="34.37" r="1.6"/><circle cx="158.33" cy="34.41" r="1.6"/><circle cx="158.78" cy="34.37" r="1.6"/><circle cx="159.23" cy="34.41" r="1.6"/><circle cx="159.68" cy="34.39" r="1.6"/><circle cx="160.13" cy="34.42" r="1.6"/><circle cx="160.58" cy="34.43" r="1.6"/><circle cx="161.03" cy="34.4" r="1.6"/><circle cx="161.48" cy="34.43" r="1.6"/><circle cx="161.93" cy="34.39" r="1.6"/><circle cx="162.38" cy="34.37" r="1.6"/><circle cx="162.83" cy="34.41" r="1.6"/><circle cx="163.28" cy="34.37" r="1.6"/><circle cx="163.73" cy="34.38" r="1.6"/><circle cx="164.18" cy="34.39" r="1.6"/><circle cx="164.63" cy="34.41" r="1.6"/><circle cx="165.08" cy="34.38" r="1.6"/><circle cx="165.53" cy="34.37" r="1.6"/><circle cx="165.98" cy="34.42" r="1.6"/><circle cx="166.43" cy="34.39" r="1.6"/><circle cx="166.88" cy="34.43" r="1.6"/><circle cx="167.33" cy="34.42" r="1.6"/><circle cx="167.78" cy="34.39" r="1.6"/><circle cx="168.23" cy="34.4" r="1.6"/><circle cx="168.68" cy="34.4" r="1.6"/><circle cx="169.13" cy="34.41" r="1.6"/><circle cx="169.58" cy="34.41" r="1.6"/><circle cx="170.03" cy="34.4" r="1.6"/><circle cx="170.48" cy="34.41" r="1.6"/><circle cx="170.93" cy="34.43" r="1.6"/><circle cx="171.38" cy="34.4" r="1.6"/><circle cx="171.83" cy="34.4" r="1.6"/><circle cx="172.28" cy="34.41" r="1.6"/><circle cx="172.73" cy="34.38" r="1.6"/><circle cx="173.18" cy="34.39" r="1.6"/><circle cx="173.63" cy="34.43" r="1.6"/><circle cx="174.08" cy="34.4" r="1.6"/><circle cx="174.53" cy="34.4" r="1.6"/><circle cx="174.98" cy="34.37" r="1.6"/><circle cx="175.43" cy="34.39" r="1.6"/><circle cx="175.88" cy="34.4" r="1.6"/><circle cx="176.33" cy="34.37" r="1.6"/><circle cx="176.78" cy="34.41" r="1.6"/><circle cx="177.23" cy="34.41" r="1.6"/><circle cx="177.68" cy="34.37" r="1.6"/><circle cx="178.13" cy="34.41" r="1.6"/><circle cx="178.58" cy="34.4" r="1.6"/><circle cx="179.03" cy="34.41" r="1.6"/><circle cx="179.48" cy="34.39" r="1.6"/><circle cx="179.93" cy="34.41" r="1.6"/><circle cx="180.38" cy="34.41" r="1.6"/><circle cx="180.83" cy="34.37" r="1.6"/><circle cx="181.28" cy="34.37" r="1.6"/><circle cx="181.73" cy="34.41" r="1.6"/><circle cx="182.18" cy="34.43" r="1.6"/><circle cx="182.63" cy="34.39" r="1.6"/><circle cx="183.08" cy="34.4" r="1.6"/><circle cx="183.53" cy="34.41" r="1.6"/><circle cx="183.98" cy="34.39" r="1.6"/><circle cx="184.43" cy="34.39" r="1.6"/><circle cx="184.88" cy="34.39" r="1.6"/><circle cx="185.33" cy="34.39" r="1.6"/><circle cx="185.78" cy="34.41" r="1.6"/><circle cx="186.23" cy="34.39" r="1.6"/><circle cx="186.68" cy="34.39" r="1.6"/><circle cx="187.13" cy="34.42" r="1.6"/><circle cx="187.58" cy="34.37" r="1.6"/><circle cx="188.03" cy="34.4" r="1.6"/><circle cx="188.48" cy="34.41" r="1.6"/><circle cx="188.93" cy="34.39" r="1.6"/><circle cx="189.38" cy="34.38" r="1.6"/></g>
<g fill="#0000ff"><circle cx="189.83" cy="34.42" r="1.6"/><circle cx="190.28" cy="34.38" r="1.6"/><circle cx="190.73" cy="34.38" r="1.6"/><circle cx="191.18" cy="34.4" r="1.6"/><circle cx="191.63" cy="34.41" r="1.6"/><circle cx="192.08" cy="34.38" r="1.6"/><circle cx="192.53" cy="34.39" r="1.6"/><circle cx="192.98" cy="34.39" r="1.6"/><circle cx="193.43" cy="34.42" r="1.6"/><circle cx="193.88" cy="34.4" r="1.6"/><circle cx="194.33" cy="34.42" r="1.6"/><circle cx="194.78" cy="34.38" r="1.6"/><circle cx="195.23" cy="34.39" r="1.6"/><circle cx="195.68" cy="34.41" r="1.6"/><circle cx="196.13" cy="34.42" r="1.6"/><circle cx="196.58" cy="34.4" r="1.6"/><circle cx="197.03" cy="34.38" r="1.6"/><circle cx="197.48" cy="34.38" r="1.6"/><circle cx="197.93" cy="34.4" r="1.6"/><circle cx="198.38" cy="34.38" r="1.6"/><circle cx="198.83" cy="34.42" r="1.6"/><circle cx="199.28" cy="34.42" r="1.6"/><circle cx="199.73" cy="34.38" r="1.6"/><circle cx="200.18" cy="34.39" r="1.6"/><circle cx="200.63" cy="34.42" r="1.6"/><circle cx="201.08" cy="34.41" r="1.6"/><circle cx="201.53" cy="34.42" r="1.6"/><circle cx="201.98" cy="34.39" r="1.6"/><circle cx="202.43" cy="34.38" r="1.6"/><circle cx="202.88" cy="34.39" r="1.6"/><circle cx="203.33" cy="34.42" r="1.6"/><circle cx="203.78" cy="34.39" r="1.6"/><circle cx="204.23" cy="34.39" r="1.6"/><circle cx="204.68" cy="34.4" r="1.6"/><circle cx="205.13" cy="34.4" r="1.6"/><circle cx="205.58" cy="34.39" r="1.6"/><circle cx="206.03" cy="34.43" r="1.6"/><circle cx="206.48" cy="34.38" r="1.6"/><circle cx="206.93" cy="34.37" r="1.6"/><circle cx="207.38" cy="34.43" r="1.6"/><circle cx="207.83" cy="34.42" r="1.6"/><circle cx="208.28" cy="34.43" r="1.6"/><circle cx="208.73" cy="34.4" r="1.6"/><circle cx="209.18" cy="34.43" r="1.6"/><circle cx="209.63" cy="34.43" r="1.6"/><circle cx="210.08" cy="34.38" r="1.6"/><circle cx="210.53" cy="34.41" r="1.6"/><circle cx="210.98" cy="34.42" r="1.6"/><circle cx="211.43" cy="34.41" r="1.6"/><circle cx="211.88" cy="34.4" r="1.6"/><circle cx="212.33" cy="34.39" r="1.6"/><circle cx="212.78" cy="34.39" r="1.6"/><circle cx="213.23" cy="34.38" r="1.6"/><circle cx="213.68" cy="34.37" r="1.6"/><circle cx="214.13" cy="34.41" r="1.6"/><circle cx="214.58" cy="34.39" r="1.6"/><circle cx="215.03" cy="34.42" r="1.6"/><circle cx="215.48" cy="34.37" r="1.6"/><circle cx="215.93" cy="34.42" r="1.6"/><circle cx="216.38" cy="34.41" r="1.6"/><circle cx="216.83" cy="34.43" r="1.6"/><circle cx="217.28" cy="34.42" r="1.6"/><circle cx="217.73" cy="34.42" r="1.6"/><circle cx="218.18" cy="34.4" r="1.6"/><circle cx="218.63" cy="34.37" r="1.6"/><circle cx="219.08" cy="34.41" r="1.6"/><circle cx="219.53" cy="34.38" r="1.6"/><circle cx="219.98" cy="34.39" r="1.6"/><circle cx="220.43" cy="34.41" r="1.6"/><circle cx="220.88" cy="34.4" r="1.6"/><circle cx="221.33" cy="34.39" r="1.6"/><circle cx="221.78" cy="34.43" r="1.6"/><circle cx="222.23" cy="34.41" r="1.6"/><circle cx="222.68" cy="34.39" r="1.6"/><circle cx="223.13" cy="34.39" r="1.6"/><circle cx="223.58" cy="34.42" r="1.6"/><circle cx="224.03" cy="34.4" r="1.6"/><circle cx="224.48" cy="34.42" r="1.6"/><circle cx="224.93" cy="34.39" r="1.6"/><circle cx="225.38" cy="34.38" r="1.6"/><circle cx="225.83" cy="34.4" r="1.6"/><circle cx="226.28" cy="34.42" r="1.6"/><circle cx="226.73" cy="34.38" r="1.6"/><circle cx="227.18" cy="34.42" r="1.6"/><circle cx="227.63" cy="34.43" r="1.6"/><circle cx="228.08" cy="34.42" r="1.6"/><circle cx="228.53" cy="34.42" r="1.6"/><circle cx="228.98" cy="34.37" r="1.6"/><circle cx="229.43" cy="34.41" r="1.6"/><circle cx="229.88" cy="34.42" r="1.6"/><circle cx="230.33" cy="34.37" r="1.6"/><circle cx="230.78" cy="34.39" r="1.6"/><circle cx="231.23" cy="34.39" r="1.6"/><circle cx="231.68" cy="34.4" r="1.6"/><circle cx="232.13" cy="34.4" r="1.6"/><circle cx="232.58" cy="34.4" r="1.6"/><circle cx="233.03" cy="34.42" r="1.6"/><circle cx="233.48" cy="34.37" r="1.6"/><circle cx="233.93" cy="34.37" r="1.6"/><circle cx="234.38" cy="34.38" r="1.6"/><circle cx="234.83" cy="34.38" r="1.6"/><circle cx="235.28" cy="34.37" r="1.6"/><circle cx="235.73" cy="34.43" r="1.6"/><circle cx="236.18" cy="34.42" r="1.6"/><circle cx="236.63" cy="34.38" r="1.6"/><circle cx="237.08" cy="34.4" r="1.6"/><circle cx="237.53" cy="34.39" r="1.6"/><circle cx="237.98" cy="34.39" r="1.6"/><circle cx="238.43" cy="34.39" r="1.6"/><circle cx="238.88" cy="34.41" r="1.6"/><circle cx="239.33" cy="34.41" r="1.6"/><circle cx="239.78" cy="34.39" r="1.6"/><circle cx="240.23" cy="34.38" r="1.6"/><circle cx="240.68" cy="34.39" r="1.6"/><circle cx="241.13" cy="34.38" r="1.6"/><circle cx="241.58" cy="34.4" r="1.6"/><circle cx="242.03" cy="34.41" r="1.6"/><circle cx="242.48" cy="34.39" r="1.6"/><circle cx="242.93" cy="34.37" r="1.6"/><circle cx="243.38" cy="34.38" r="1.6"/><circle cx="243.83" cy="34.39" r="1.6"/><circle cx="244.28" cy="34.41" r="1.6"/><circle cx="244.73" cy="34.42" r="1.6"/><circle cx="245.18" cy="34.39" r="1.6"/><circle cx="245.63" cy="34.42" r="1.6"/><circle cx="246.08" cy="34.41" r="1.6"/><circle cx="246.53" cy="34.4" r="1.6"/><circle cx="246.98" cy="34.39" r="1.6"/><circle cx="247.43" cy="34.4" r="1.6"/><circle cx="247.88" cy="34.41" r="1.6"/><circle cx="248.33" cy="34.4" r="1.6"/><circle cx="248.78" cy="34.41" r="1.6"/><circle cx="249.23" cy="34.4" r="1.6"/><circle cx="249.68" cy="34.38" r="1.6"/><circle cx="250.13" cy="34.4" r="1.6"/><circle cx="250.58" cy="34.41" r="1.6"/><circle cx="251.03" cy="34.37" r="1.6"/><circle cx="251.48" cy="34.4" r="1.6"/><circle cx="251.93" cy="34.4" r="1.6"/><circle cx="252.38" cy="34.42" r="1.6"/><circle cx="252.83" cy="34.43" r="1.6"/><circle cx="253.28" cy="34.39" r="1.6"/><circle cx="253.73" cy="34.42" r="1.6"/><circle cx="254.18" cy="34.42" r="1.6"/><circle cx="254.63" cy="34.39" r="1.6"/><circle cx="255.08" cy="34.4" r="1.6"/><circle cx="255.53" cy="34.38" r="1.6"/><circle cx="255.98" cy="34.42" r="1.6"/><circle cx="256.43" cy="34.41" r="1.6"/><circle cx="256.88" cy="34.42" r="1.6"/><circle cx="257.33" cy="34.42" r="1.6"/><circle cx="257.78" cy="34.41" r="1.6"/><circle cx="258.23" cy="34.41" r="1.6"/><circle cx="258.68" cy="34.4" r="1.6"/><circle cx="259.13" cy="34.38" r="1.6"/><circle cx="259.58" cy="34.41" r="1.6"/><circle cx="260.03" cy="34.37" r="1.6"/><circle cx="260.48" cy="34.38" r="1.6"/><circle cx="260.93" cy="34.42" r="1.6"/></g>
<g fill="#00bfff"><circle cx="261.38" cy="34.37" r="1.6"/><circle cx="261.83" cy="34.38" r="1.6"/><circle cx="262.28" cy="34.38" r="1.6"/><circle cx="262.73" cy="34.42" r="1.6"/><circle cx="263.18" cy="34.38" r="1.6"/><circle cx="263.63" cy="34.37" r="1.6"/><circle cx="264.08" cy="34.42" r="1.6"/><circle cx="264.53" cy="34.38" r="1.6"/><circle cx="264.98" cy="34.42" r="1.6"/><circle cx="265.43" cy="34.41" r="1.6"/><circle cx="265.88" cy="34.42" r="1.6"/><circle cx="266.33" cy="34.43" r="1.6"/><circle cx="266.78" cy="34.4" r="1.6"/><circle cx="267.23" cy="34.42" r="1.6"/><circle cx="267.68" cy="34.37" r="1.6"/><circle cx="268.13" cy="34.42" r="1.6"/><circle cx="268.58" cy="34.4" r="1.6"/><circle cx="269.03" cy="34.41" r="1.6"/><circle cx="269.48" cy="34.38" r="1.6"/><circle cx="269.93" cy="34.41" r="1.6"/><circle cx="270.38" cy="34.43" r="1.6"/><circle cx="270.83" cy="34.37" r="1.6"/><circle cx="271.28" cy="34.39" r="1.6"/><circle cx="271.73" cy="34.4" r="1.6"/><circle cx="272.18" cy="34.42" r="1.6"/><circle cx="272.63" cy="34.38" r="1.6"/><circle cx="273.08" cy="34.38" r="1.6"/><circle cx="273.53" cy="34.38" r="1.6"/><circle cx="273.98" cy="34.41" r="1.6"/><circle cx="274.43" cy="34.42" r="1.6"/><circle cx="274.88" cy="34.39" r="1.6"/><circle cx="275.33" cy="34.39" r="1.6"/><circle cx="275.78" cy="34.39" r="1.6"/><circle cx="276.23" cy="34.39" r="1.6"/><circle cx="276.68" cy="34.4" r="1.6"/><circle cx="277.13" cy="34.37" r="1.6"/><circle cx="277.58" cy="34.4" r="1.6"/><circle cx="278.03" cy="34.43" r="1.6"/><circle cx="278.48" cy="34.39" r="1.6"/><circle cx="278.93" cy="34.41" r="1.6"/><circle cx="279.38" cy="34.38" r="1.6"/><circle cx="279.83" cy="34.41" r="1.6"/><circle cx="280.28" cy="34.42" r="1.6"/><circle cx="280.73" cy="34.41" r="1.6"/><circle cx="281.18" cy="34.4" r="1.6"/><circle cx="281.63" cy="34.4" r="1.6"/><circle cx="282.08" cy="34.41" r="1.6"/><circle cx="282.53" cy="34.42" r="1.6"/><circle cx="282.98" cy="34.38" r="1.6"/><circle cx="283.43" cy="34.38" r="1.6"/><circle cx="283.88" cy="34.41" r="1.6"/><circle cx="284.33" cy="34.42" r="1.6"/><circle cx="284.78" cy="34.4" r="1.6"/><circle cx="285.23" cy="34.4" r="1.6"/><circle cx="285.68" cy="34.41" r="1.6"/><circle cx="286.13" cy="34.38" r="1.6"/><circle cx="286.58" cy="34.39" r="1.6"/><circle cx="287.03" cy="34.38" r="1.6"/><circle cx="287.48" cy="34.41" r="1.6"/><circle cx="287.93" cy="34.39" r="1.6"/><circle cx="288.38" cy="34.38" r="1.6"/><circle cx="288.83" cy="34.41" r="1.6"/><circle cx="289.28" cy="34.43" r="1.6"/><circle cx="289.73" cy="34.39" r="1.6"/><circle cx="290.18" cy="34.41" r="1.6"/><circle cx="290.63" cy="34.39" r="1.6"/><circle cx="291.08" cy="34.42" r="1.6"/><circle cx="291.53" cy="34.41" r="1.6"/><circle cx="291.98" cy="34.39" r="1.6"/><circle cx="292.43" cy="34.38" r="1.6"/><circle cx="292.88" cy="34.37" r="1.6"/><circle cx="293.33" cy="34.4" r="1.6"/><circle cx="293.78" cy="34.39" r="1.6"/><circle cx="294.23" cy="34.38" r="1.6"/><circle cx="294.68" cy="34.39" r="1.6"/><circle cx="295.13" cy="34.39" r="1.6"/><circle cx="295.58" cy="34.42" r="1.6"/><circle cx="296.03" cy="34.38" r="1.6"/><circle cx="296.48" cy="34.43" r="1.6"/><circle cx="296.93" cy="34.4" r="1.6"/><circle cx="297.38" cy="34.41" r="1.6"/><circle cx="297.83" cy="34.4" r="1.6"/><circle cx="298.28" cy="34.42" r="1.6"/><circle cx="298.73" cy="34.42" r="1.6"/><circle cx="299.18" cy="34.4" r="1.6"/><circle cx="299.63" cy="34.4" r="1.6"/><circle cx="300.08" cy="34.41" r="1.6"/><circle cx="300.53" cy="34.42" r="1.6"/><circle cx="300.98" cy="34.39" r="1.6"/><circle cx="301.43" cy="34.41" r="1.6"/><circle cx="301.88" cy="34.43" r="1.6"/><circle cx="302.33" cy="34.4" r="1.6"/><circle cx="302.78" cy="34.38" r="1.6"/><circle cx="303.23" cy="34.38" r="1.6"/><circle cx="303.68" cy="34.41" r="1.6"/><circle cx="304.13" cy="34.41" r="1.6"/><circle cx="304.58" cy="34.43" r="1.6"/><circle cx="305.03" cy="34.42" r="1.6"/><circle cx="305.48" cy="34.38" r="1.6"/><circle cx="305.93" cy="34.38" r="1.6"/><circle cx="306.38" cy="34.39" r="1.6"/><circle cx="306.83" cy="34.38" r="1.6"/><circle cx="307.28" cy="34.41" r="1.6"/><circle cx="307.73" cy="34.42" r="1.6"/><circle cx="308.18" cy="34.42" r="1.6"/><circle cx="308.63" cy="34.39" r="1.6"/><circle cx="309.08" cy="34.42" r="1.6"/><circle cx="309.53" cy="34.39" r="1.6"/><circle cx="309.98" cy="34.4" r="1.6"/><circle cx="310.43" cy="34.41" r="1.6"/><circle cx="310.88" cy="34.38" r="1.6"/><circle cx="311.33" cy="34.38" r="1.6"/><circle cx="311.78" cy="34.42" r="1.6"/><circle cx="312.23" cy="34.39" r="1.6"/><circle cx="312.68" cy="34.39" r="1.6"/><circle cx="313.13" cy="34.4" r="1.6"/><circle cx="313.58" cy="34.41" r="1.6"/><circle cx="314.03" cy="34.37" r="1.6"/><circle cx="314.48" cy="34.39" r="1.6"/><circle cx="314.93" cy="34.4" r="1.6"/><circle cx="315.38" cy="34.4" r="1.6"/><circle cx="315.83" cy="34.38" r="1.6"/><circle cx="316.28" cy="34.41" r="1.6"/><circle cx="316.73" cy="34.43" r="1.6"/><circle cx="317.18" cy="34.39" r="1.6"/><circle cx="317.63" cy="34.4" r="1.6"/><circle cx="318.08" cy="34.38" r="1.6"/><circle cx="318.53" cy="34.39" r="1.6"/><circle cx="318.98" cy="34.41" r="1.6"/><circle cx="319.43" cy="34.38" r="1.6"/><circle cx="319.88" cy="34.42" r="1.6"/><circle cx="320.33" cy="34.42" r="1.6"/><circle cx="320.78" cy="34.38" r="1.6"/><circle cx="321.23" cy="34.43" r="1.6"/><circle cx="321.68" cy="34.39" r="1.6"/><circle cx="322.13" cy="34.42" r="1.6"/><circle cx="322.58" cy="34.42" r="1.6"/><circle cx="323.03" cy="34.39" r="1.6"/><circle cx="323.48" cy="34.41" r="1.6"/><circle cx="323.93" cy="34.41" r="1.6"/><circle cx="324.38" cy="34.42" r="1.6"/><circle cx="324.83" cy="34.39" r="1.6"/><circle cx="325.28" cy="34.42" r="1.6"/><circle cx="325.73" cy="34.43" r="1.6"/><circle cx="326.18" cy="34.41" r="1.6"/><circle cx="326.63" cy="34.4" r="1.6"/><circle cx="327.08" cy="34.38" r="1.6"/><circle cx="327.53" cy="34.4" r="1.6"/><circle cx="327.98" cy="34.39" r="1.6"/><circle cx="328.43" cy="34.41" r="1.6"/><circle cx="328.88" cy="34.41" r="1.6"/><circle cx="329.33" cy="34.4" r="1.6"/><circle cx="329.78" cy="34.38" r="1.6"/><circle cx="330.23" cy="34.41" r="1.6"/></g>
<g fill="#00ffff"><circle cx="330.68" cy="34.41" r="1.6"/><circle cx="331.13" cy="34.38" r="1.6"/><circle cx="331.58" cy="34.42" r="1.6"/><circle cx="332.03" cy="34.41" r="1.6"/><circle cx="332.48" cy="34.38" r="1.6"/><circle cx="332.93" cy="34.43" r="1.6"/><circle cx="333.38" cy="34.38" r="1.6"/><circle cx="333.83" cy="34.39" r="1.6"/><circle cx="334.28" cy="34.41" r="1.6"/><circle cx="334.73" cy="34.41" r="1.6"/><circle cx="335.18" cy="34.4" r="1.6"/><circle cx="335.63" cy="34.41" r="1.6"/><circle cx="336.08" cy="34.4" r="1.6"/><circle cx="336.53" cy="34.39" r="1.6"/><circle cx="336.98" cy="34.38" r="1.6"/><circle cx="337.43" cy="34.37" r="1.6"/><circle cx="337.88" cy="34.41" r="1.6"/><circle cx="338.33" cy="34.42" r="1.6"/><circle cx="338.78" cy="34.4" r="1.6"/><circle cx="339.23" cy="34.41" r="1.6"/><circle cx="339.68" cy="34.39" r="1.6"/><circle cx="340.13" cy="34.39" r="1.6"/><circle cx="340.58" cy="34.39" r="1.6"/><circle cx="341.03" cy="34.42" r="1.6"/><circle cx="341.48" cy="34.37" r="1.6"/><circle cx="341.93" cy="34.4" r="1.6"/><circle cx="342.38" cy="34.38" r="1.6"/><circle cx="342.83" cy="34.42" r="1.6"/><circle cx="343.28" cy="34.39" r="1.6"/><circle cx="343.73" cy="34.39" r="1.6"/><circle cx="344.18" cy="34.39" r="1.6"/><circle cx="344.63" cy="34.4" r="1.6"/><circle cx="345.08" cy="34.42" r="1.6"/><circle cx="345.53" cy="34.39" r="1.6"/><circle cx="345.98" cy="34.42" r="1.6"/><circle cx="346.43" cy="34.38" r="1.6"/><circle cx="346.88" cy="34.39" r="1.6"/><circle cx="347.33" cy="34.38" r="1.6"/><circle cx="347.78" cy="34.38" r="1.6"/><circle cx="348.23" cy="34.42" r="1.6"/><circle cx="348.68" cy="34.41" r="1.6"/><circle cx="349.13" cy="34.38" r="1.6"/><circle cx="349.58" cy="34.38" r="1.6"/><circle cx="350.03" cy="34.39" r="1.6"/><circle cx="350.48" cy="34.41" r="1.6"/><circle cx="350.93" cy="34.42" r="1.6"/><circle cx="351.38" cy="34.41" r="1.6"/><circle cx="351.83" cy="34.41" r="1.6"/><circle cx="352.28" cy="34.38" r="1.6"/><circle cx="352.73" cy="34.39" r="1.6"/><circle cx="353.18" cy="34.38" r="1.6"/><circle cx="353.63" cy="34.4" r="1.6"/><circle cx="354.08" cy="34.4" r="1.6"/><circle cx="354.53" cy="34.38" r="1.6"/><circle cx="354.98" cy="34.39" r="1.6"/><circle cx="355.43" cy="34.42" r="1.6"/><circle cx="355.88" cy="34.37" r="1.6"/><circle cx="356.33" cy="34.42" r="1.6"/><circle cx="356.78" cy="34.42" r="1.6"/><circle cx="357.23" cy="34.43" r="1.6"/><circle cx="357.68" cy="34.39" r="1.6"/><circle cx="358.13" cy="34.4" r="1.6"/><circle cx="358.58" cy="34.4" r="1.6"/><circle cx="359.03" cy="34.41" r="1.6"/><circle cx="359.48" cy="34.43" r="1.6"/><circle cx="359.93" cy="34.41" r="1.6"/><circle cx="360.38" cy="34.39" r="1.6"/><circle cx="360.83" cy="34.42" r="1.6"/><circle cx="361.28" cy="34.4" r="1.6"/><circle cx="361.73" cy="34.41" r="1.6"/><circle cx="362.18" cy="34.41" r="1.6"/><circle cx="362.63" cy="34.37" r="1.6"/><circle cx="363.08" cy="34.42" r="1.6"/><circle cx="363.53" cy="34.41" r="1.6"/><circle cx="363.98" cy="34.4" r="1.6"/><circle cx="364.43" cy="34.4" r="1.6"/><circle cx="364.88" cy="34.4" r="1.6"/><circle cx="365.33" cy="34.38" r="1.6"/><circle cx="365.78" cy="34.4" r="1.6"/><circle cx="366.23" cy="34.37" r="1.6"/><circle cx="366.68" cy="34.4" r="1.6"/><circle cx="367.13" cy="34.41" r="1.6"/><circle cx="367.58" cy="34.4" r="1.6"/><circle cx="368.03" cy="34.4" r="1.6"/><circle cx="368.48" cy="34.43" r="1.6"/><circle cx="368.93" cy="34.42" r="1.6"/><circle cx="369.38" cy="34.38" r="1.6"/><circle cx="369.83" cy="34.42" r="1.6"/><circle cx="370.28" cy="34.41" r="1.6"/><circle cx="370.73" cy="34.37" r="1.6"/><circle cx="371.18" cy="34.39" r="1.6"/><circle cx="371.63" cy="34.38" r="1.6"/><circle cx="372.08" cy="34.37" r="1.6"/><circle cx="372.53" cy="34.4" r="1.6"/><circle cx="372.98" cy="34.43" r="1.6"/><circle cx="373.43" cy="34.39" r="1.6"/><circle cx="373.88" cy="34.42" r="1.6"/><circle cx="374.33" cy="34.41" r="1.6"/><circle cx="374.78" cy="34.38" r="1.6"/><circle cx="375.23" cy="34.42" r="1.6"/><circle cx="375.68" cy="34.41" r="1.6"/><circle cx="376.13" cy="34.43" r="1.6"/><circle cx="376.58" cy="34.41" r="1.6"/><circle cx="377.03" cy="34.41" r="1.6"/><circle cx="377.48" cy="34.39" r="1.6"/><circle cx="377.93" cy="34.42" r="1.6"/><circle cx="378.38" cy="34.43" r="1.6"/><circle cx="378.83" cy="34.42" r="1.6"/><circle cx="379.28" cy="34.4" r="1.6"/><circle cx="379.73" cy="34.42" r="1.6"/><circle cx="380.18" cy="34.4" r="1.6"/><circle cx="380.63" cy="34.38" r="1.6"/><circle cx="381.08" cy="34.37" r="1.6"/><circle cx="381.53" cy="34.37" r="1.6"/><circle cx="381.98" cy="34.38" r="1.6"/><circle cx="382.43" cy="34.38" r="1.6"/><circle cx="382.88" cy="34.4" r="1.6"/><circle cx="383.33" cy="34.41" r="1.6"/><circle cx="383.78" cy="34.4" r="1.6"/><circle cx="384.23" cy="34.4" r="1.6"/><circle cx="384.68" cy="34.41" r="1.6"/><circle cx="385.13" cy="34.39" r="1.6"/><circle cx="385.58" cy="34.4" r="1.6"/><circle cx="386.03" cy="34.42" r="1.6"/><circle cx="386.48" cy="34.39" r="1.6"/><circle cx="386.93" cy="34.38" r="1.6"/><circle cx="387.38" cy="34.42" r="1.6"/><circle cx="387.83" cy="34.41" r="1.6"/><circle cx="388.28" cy="34.39" r="1.6"/><circle cx="388.73" cy="34.39" r="1.6"/><circle cx="389.18" cy="34.4" r="1.6"/><circle cx="389.63" cy="34.41" r="1.6"/><circle cx="390.08" cy="34.38" r="1.6"/><circle cx="390.53" cy="34.37" r="1.6"/><circle cx="390.98" cy="34.38" r="1.6"/><circle cx="391.43" cy="34.42" r="1.6"/><circle cx="391.88" cy="34.38" r="1.6"/><circle cx="392.33" cy="34.4" r="1.6"/><circle cx="392.78" cy="34.38" r="1.6"/><circle cx="393.23" cy="34.38" r="1.6"/><circle cx="393.68" cy="34.38" r="1.6"/><circle cx="394.13" cy="34.39" r="1.6"/><circle cx="394.58" cy="34.38" r="1.6"/><circle cx="395.03" cy="34.37" r="1.6"/><circle cx="395.48" cy="34.38" r="1.6"/><circle cx="395.93" cy="34.38" r="1.6"/><circle cx="396.38" cy="34.4" r="1.6"/><circle cx="396.83" cy="34.37" r="1.6"/><circle cx="397.28" cy="34.37" r="1.6"/><circle cx="397.73" cy="34.4" r="1.6"/><circle cx="398.18" cy="34.39" r="1.6"/><circle cx="398.63" cy="34.41" r="1.6"/><circle cx="399.08" cy="34.37" r="1.6"/><circle cx="399.53" cy="34.39" r="1.6"/><circle cx="399.98" cy="34.39" r="1.6"/><circle cx="400.43" cy="34.37" r="1.6"/><circle cx="400.88" cy="34.43" r="1.6"/><circle cx="401.33" cy="34.38" r="1.6"/><circle cx="401.78" cy="34.38" r="1.6"/></g>
<g fill="#32cd32"><circle cx="402.23" cy="34.4" r="1.6"/><circle cx="402.68" cy="34.38" r="1.6"/><circle cx="403.13" cy="34.41" r="1.6"/><circle cx="403.58" cy="34.39" r="1.6"/><circle cx="404.03" cy="34.38" r="1.6"/><circle cx="404.48" cy="34.37" r="1.6"/><circle cx="404.93" cy="34.41" r="1.6"/><circle cx="405.38" cy="34.39" r="1.6"/><circle cx="405.83" cy="34.42" r="1.6"/><circle cx="406.28" cy="34.4" r="1.6"/><circle cx="406.73" cy="34.43" r="1.6"/><circle cx="407.18" cy="34.39" r="1.6"/><circle cx="407.63" cy="34.38" r="1.6"/><circle cx="408.08" cy="34.39" r="1.6"/><circle cx="408.53" cy="34.42" r="1.6"/><circle cx="408.98" cy="34.41" r="1.6"/><circle cx="409.43" cy="34.39" r="1.6"/><circle cx="409.88" cy="34.38" r="1.6"/><circle cx="410.33" cy="34.41" r="1.6"/><circle cx="410.78" cy="34.43" r="1.6"/><circle cx="411.23" cy="34.41" r="1.6"/><circle cx="411.68" cy="34.37" r="1.6"/><circle cx="412.13" cy="34.37" r="1.6"/><circle cx="412.58" cy="34.38" r="1.6"/><circle cx="413.03" cy="34.38" r="1.6"/><circle cx="413.48" cy="34.37" r="1.6"/><circle cx="413.93" cy="34.37" r="1.6"/><circle cx="414.38" cy="34.41" r="1.6"/><circle cx="414.83" cy="34.42" r="1.6"/><circle cx="415.28" cy="34.38" r="1.6"/><circle cx="415.73" cy="34.43" r="1.6"/><circle cx="416.18" cy="34.4" r="1.6"/><circle cx="416.63" cy="34.42" r="1.6"/><circle cx="417.08" cy="34.43" r="1.6"/><circle cx="417.53" cy="34.43" r="1.6"/><circle cx="417.98" cy="34.37" r="1.6"/><circle cx="418.43" cy="34.39" r="1.6"/><circle cx="418.88" cy="34.41" r="1.6"/><circle cx="419.33" cy="34.43" r="1.6"/><circle cx="419.78" cy="34.38" r="1.6"/><circle cx="420.23" cy="34.39" r="1.6"/><circle cx="420.68" cy="34.42" r="1.6"/><circle cx="421.13" cy="34.38" r="1.6"/><circle cx="421.58" cy="34.39" r="1.6"/><circle cx="422.03" cy="34.39" r="1.6"/><circle cx="422.48" cy="34.41" r="1.6"/><circle cx="422.93" cy="34.43" r="1.6"/><circle cx="423.38" cy="34.38" r="1.6"/><circle cx="423.83" cy="34.41" r="1.6"/><circle cx="424.28" cy="34.41" r="1.6"/><circle cx="424.73" cy="34.42" r="1.6"/><circle cx="425.18" cy="34.4" r="1.6"/><circle cx="425.63" cy="34.43" r="1.6"/><circle cx="426.08" cy="34.39" r="1.6"/><circle cx="426.53" cy="34.39" r="1.6"/><circle cx="426.98" cy="34.38" r="1.6"/><circle cx="427.43" cy="34.42" r="1.6"/><circle cx="427.88" cy="34.4" r="1.6"/><circle cx="428.33" cy="34.39" r="1.6"/><circle cx="428.78" cy="34.38" r="1.6"/><circle cx="429.23" cy="34.41" r="1.6"/><circle cx="429.68" cy="34.41" r="1.6"/><circle cx="430.13" cy="34.41" r="1.6"/><circle cx="430.58" cy="34.39" r="1.6"/><circle cx="431.03" cy="34.4" r="1.6"/><circle cx="431.48" cy="34.38" r="1.6"/><circle cx="431.93" cy="34.41" r="1.6"/><circle cx="432.38" cy="34.37" r="1.6"/><circle cx="432.83" cy="34.4" r="1.6"/><circle cx="433.28" cy="34.42" r="1.6"/><circle cx="433.73" cy="34.41" r="1.6"/><circle cx="434.18" cy="34.38" r="1.6"/><circle cx="434.63" cy="34.38" r="1.6"/><circle cx="435.08" cy="34.42" r="1.6"/><circle cx="435.53" cy="34.41" r="1.6"/><circle cx="435.98" cy="34.42" r="1.6"/><circle cx="436.43" cy="34.42" r="1.6"/><circle cx="436.88" cy="34.4" r="1.6"/><circle cx="437.33" cy="34.42" r="1.6"/><circle cx="437.78" cy="34.41" r="1.6"/><circle cx="438.23" cy="34.39" r="1.6"/><circle cx="438.68" cy="34.39" r="1.6"/><circle cx="439.13" cy="34.37" r="1.6"/><circle cx="439.58" cy="34.39" r="1.6"/><circle cx="440.03" cy="34.43" r="1.6"/><circle cx="440.48" cy="34.38" r="1.6"/><circle cx="440.93" cy="34.4" r="1.6"/><circle cx="441.38" cy="34.38" r="1.6"/><circle cx="441.83" cy="34.37" r="1.6"/><circle cx="442.28" cy="34.41" r="1.6"/><circle cx="442.73" cy="34.38" r="1.6"/><circle cx="443.18" cy="34.37" r="1.6"/><circle cx="443.63" cy="34.38" r="1.6"/><circle cx="444.08" cy="34.41" r="1.6"/><circle cx="444.53" cy="34.41" r="1.6"/><circle cx="444.98" cy="34.37" r="1.6"/><circle cx="445.43" cy="34.38" r="1.6"/><circle cx="445.88" cy="34.43" r="1.6"/><circle cx="446.33" cy="34.38" r="1.6"/><circle cx="446.78" cy="34.4" r="1.6"/><circle cx="447.23" cy="34.4" r="1.6"/><circle cx="447.68" cy="34.42" r="1.6"/><circle cx="448.13" cy="34.41" r="1.6"/><circle cx="448.58" cy="34.42" r="1.6"/><circle cx="449.03" cy="34.4" r="1.6"/><circle cx="449.48" cy="34.38" r="1.6"/><circle cx="449.93" cy="34.38" r="1.6"/><circle cx="450.38" cy="34.37" r="1.6"/><circle cx="450.83" cy="34.42" r="1.6"/><circle cx="451.28" cy="34.38" r="1.6"/><circle cx="451.73" cy="34.37" r="1.6"/><circle cx="452.18" cy="34.43" r="1.6"/><circle cx="452.63" cy="34.38" r="1.6"/><circle cx="453.08" cy="34.42" r="1.6"/><circle cx="453.53" cy="34.38" r="1.6"/><circle cx="453.98" cy="34.4" r="1.6"/><circle cx="454.43" cy="34.38" r="1.6"/><circle cx="454.88" cy="34.42" r="1.6"/><circle cx="455.33" cy="34.41" r="1.6"/><circle cx="455.78" cy="34.41" r="1.6"/><circle cx="456.23" cy="34.42" r="1.6"/><circle cx="456.68" cy="34.42" r="1.6"/><circle cx="457.13" cy="34.39" r="1.6"/><circle cx="457.58" cy="34.41" r="1.6"/><circle cx="458.03" cy="34.4" r="1.6"/><circle cx="458.48" cy="34.38" r="1.6"/><circle cx="458.93" cy="34.42" r="1.6"/><circle cx="459.38" cy="34.41" r="1.6"/><circle cx="459.83" cy="34.42" r="1.6"/><circle cx="460.28" cy="34.38" r="1.6"/><circle cx="460.73" cy="34.4" r="1.6"/><circle cx="461.18" cy="34.4" r="1.6"/><circle cx="461.63" cy="34.41" r="1.6"/><circle cx="462.08" cy="34.37" r="1.6"/><circle cx="462.53" cy="34.39" r="1.6"/><circle cx="462.98" cy="34.4" r="1.6"/><circle cx="463.43" cy="34.37" r="1.6"/><circle cx="463.88" cy="34.4" r="1.6"/><circle cx="464.33" cy="34.41" r="1.6"/><circle cx="464.78" cy="34.4" r="1.6"/><circle cx="465.23" cy="34.41" r="1.6"/><circle cx="465.68" cy="34.41" r="1.6"/><circle cx="466.13" cy="34.38" r="1.6"/><circle cx="466.58" cy="34.39" r="1.6"/><circle cx="467.03" cy="34.43" r="1.6"/><circle cx="467.48" cy="34.39" r="1.6"/><circle cx="467.93" cy="34.4" r="1.6"/><circle cx="468.38" cy="34.38" r="1.6"/><circle cx="468.83" cy="34.38" r="1.6"/><circle cx="469.28" cy="34.38" r="1.6"/><circle cx="469.73" cy="34.43" r="1.6"/><circle cx="470.18" cy="34.41" r="1.6"/><circle cx="470.63" cy="34.42" r="1.6"/><circle cx="471.08" cy="34.43" r="1.6"/></g>
<g fill="#00ff00"><circle cx="471.53" cy="34.41" r="1.6"/><circle cx="471.98" cy="34.43" r="1.6"/><circle cx="472.43" cy="34.4" r="1.6"/><circle cx="472.88" cy="34.4" r="1.6"/><circle cx="473.33" cy="34.43" r="1.6"/><circle cx="473.78" cy="34.42" r="1.6"/><circle cx="474.23" cy="34.43" r="1.6"/><circle cx="474.68" cy="34.4" r="1.6"/><circle cx="475.13" cy="34.42" r="1.6"/><circle cx="475.58" cy="34.39" r="1.6"/><circle cx="476.03" cy="34.43" r="1.6"/><circle cx="476.48" cy="34.43" r="1.6"/><circle cx="476.93" cy="34.39" r="1.6"/><circle cx="477.38" cy="34.43" r="1.6"/><circle cx="477.83" cy="34.38" r="1.6"/><circle cx="478.28" cy="34.38" r="1.6"/><circle cx="478.73" cy="34.41" r="1.6"/><circle cx="479.18" cy="34.39" r="1.6"/><circle cx="479.63" cy="34.4" r="1.6"/><circle cx="480.08" cy="34.41" r="1.6"/><circle cx="480.53" cy="34.37" r="1.6"/><circle cx="480.98" cy="34.41" r="1.6"/><circle cx="481.43" cy="34.39" r="1.6"/><circle cx="481.88" cy="34.4" r="1.6"/><circle cx="482.33" cy="34.39" r="1.6"/><circle cx="482.78" cy="34.41" r="1.6"/><circle cx="483.23" cy="34.41" r="1.6"/><circle cx="483.68" cy="34.39" r="1.6"/><circle cx="484.13" cy="34.38" r="1.6"/><circle cx="484.58" cy="34.39" r="1.6"/><circle cx="485.03" cy="34.39" r="1.6"/><circle cx="485.48" cy="34.37" r="1.6"/><circle cx="485.93" cy="34.38" r="1.6"/><circle cx="486.38" cy="34.42" r="1.6"/><circle cx="486.83" cy="34.41" r="1.6"/><circle cx="487.28" cy="34.43" r="1.6"/><circle cx="487.73" cy="34.43" r="1.6"/><circle cx="488.18" cy="34.42" r="1.6"/><circle cx="488.63" cy="34.39" r="1.6"/><circle cx="489.08" cy="34.38" r="1.6"/><circle cx="489.53" cy="34.39" r="1.6"/><circle cx="489.98" cy="34.4" r="1.6"/><circle cx="490.43" cy="34.4" r="1.6"/><circle cx="490.88" cy="34.4" r="1.6"/><circle cx="491.33" cy="34.39" r="1.6"/><circle cx="491.78" cy="34.42" r="1.6"/><circle cx="492.23" cy="34.39" r="1.6"/><circle cx="492.68" cy="34.4" r="1.6"/><circle cx="493.13" cy="34.42" r="1.6"/><circle cx="493.58" cy="34.42" r="1.6"/><circle cx="494.03" cy="34.39" r="1.6"/><circle cx="494.48" cy="34.38" r="1.6"/><circle cx="494.93" cy="34.42" r="1.6"/><circle cx="495.38" cy="34.37" r="1.6"/><circle cx="495.83" cy="34.38" r="1.6"/><circle cx="496.28" cy="34.4" r="1.6"/><circle cx="496.73" cy="34.4" r="1.6"/><circle cx="497.18" cy="34.38" r="1.6"/><circle cx="497.63" cy="34.37" r="1.6"/><circle cx="498.08" cy="34.38" r="1.6"/><circle cx="498.53" cy="34.42" r="1.6"/><circle cx="498.98" cy="34.4" r="1.6"/><circle cx="499.43" cy="34.43" r="1.6"/><circle cx="499.88" cy="34.42" r="1.6"/><circle cx="500.33" cy="34.43" r="1.6"/><circle cx="500.78" cy="34.37" r="1.6"/><circle cx="501.23" cy="34.38" r="1.6"/><circle cx="501.68" cy="34.37" r="1.6"/><circle cx="502.13" cy="34.4" r="1.6"/><circle cx="502.58" cy="34.39" r="1.6"/><circle cx="503.03" cy="34.37" r="1.6"/><circle cx="503.48" cy="34.4" r="1.6"/><circle cx="503.93" cy="34.38" r="1.6"/><circle cx="504.38" cy="34.39" r="1.6"/><circle cx="504.83" cy="34.38" r="1.6"/><circle cx="505.28" cy="34.42" r="1.6"/><circle cx="505.73" cy="34.4" r="1.6"/><circle cx="506.18" cy="34.39" r="1.6"/><circle cx="506.63" cy="34.37" r="1.6"/><circle cx="507.08" cy="34.4" r="1.6"/><circle cx="507.53" cy="34.41" r="1.6"/><circle cx="507.98" cy="34.41" r="1.6"/><circle cx="508.43" cy="34.42" r="1.6"/><circle cx="508.88" cy="34.42" r="1.6"/><circle cx="509.33" cy="34.38" r="1.6"/><circle cx="509.78" cy="34.38" r="1.6"/><circle cx="510.23" cy="34.42" r="1.6"/><circle cx="510.68" cy="34.42" r="1.6"/><circle cx="511.13" cy="34.4" r="1.6"/><circle cx="511.58" cy="34.42" r="1.6"/><circle cx="512.03" cy="34.4" r="1.6"/><circle cx="512.48" cy="34.39" r="1.6"/><circle cx="512.93" cy="34.38" r="1.6"/><circle cx="513.38" cy="34.37" r="1.6"/><circle cx="513.83" cy="34.41" r="1.6"/><circle cx="514.28" cy="34.42" r="1.6"/><circle cx="514.73" cy="34.42" r="1.6"/><circle cx="515.18" cy="34.4" r="1.6"/><circle cx="515.63" cy="34.41" r="1.6"/><circle cx="516.08" cy="34.43" r="1.6"/><circle cx="516.53" cy="34.42" r="1.6"/><circle cx="516.98" cy="34.41" r="1.6"/><circle cx="517.43" cy="34.39" r="1.6"/><circle cx="517.88" cy="34.4" r="1.6"/><circle cx="518.33" cy="34.38" r="1.6"/><circle cx="518.78" cy="34.38" r="1.6"/><circle cx="519.23" cy="34.41" r="1.6"/><circle cx="519.68" cy="34.43" r="1.6"/><circle cx="520.13" cy="34.4" r="1.6"/><circle cx="520.58" cy="34.39" r="1.6"/><circle cx="521.03" cy="34.39" r="1.6"/><circle cx="521.48" cy="34.4" r="1.6"/><circle cx="521.93" cy="34.42" r="1.6"/><circle cx="522.38" cy="34.4" r="1.6"/><circle cx="522.83" cy="34.43" r="1.6"/><circle cx="523.28" cy="34.38" r="1.6"/><circle cx="523.73" cy="34.39" r="1.6"/><circle cx="524.18" cy="34.4" r="1.6"/><circle cx="524.63" cy="34.39" r="1.6"/><circle cx="525.08" cy="34.42" r="1.6"/><circle cx="525.53" cy="34.42" r="1.6"/><circle cx="525.98" cy="34.43" r="1.6"/><circle cx="526.43" cy="34.41" r="1.6"/><circle cx="526.88" cy="34.37" r="1.6"/><circle cx="527.33" cy="34.4" r="1.6"/><circle cx="527.78" cy="34.4" r="1.6"/><circle cx="528.23" cy="34.4" r="1.6"/><circle cx="528.68" cy="34.39" r="1.6"/><circle cx="529.13" cy="34.41" r="1.6"/><circle cx="529.58" cy="34.42" r="1.6"/><circle cx="530.03" cy="34.38" r="1.6"/><circle cx="530.48" cy="34.41" r="1.6"/><circle cx="530.93" cy="34.39" r="1.6"/><circle cx="531.38" cy="34.4" r="1.6"/><circle cx="531.83" cy="34.42" r="1.6"/><circle cx="532.28" cy="34.43" r="1.6"/><circle cx="532.73" cy="34.41" r="1.6"/><circle cx="533.18" cy="34.38" r="1.6"/><circle cx="533.63" cy="34.43" r="1.6"/><circle cx="534.08" cy="34.38" r="1.6"/><circle cx="534.53" cy="34.39" r="1.6"/><circle cx="534.98" cy="34.42" r="1.6"/><circle cx="535.43" cy="34.39" r="1.6"/><circle cx="535.88" cy="34.39" r="1.6"/><circle cx="536.33" cy="34.43" r="1.6"/><circle cx="536.78" cy="34.43" r="1.6"/><circle cx="537.23" cy="34.39" r="1.6"/><circle cx="537.68" cy="34.39" r="1.6"/><circle cx="538.13" cy="34.39" r="1.6"/><circle cx="538.58" cy="34.38" r="1.6"/><circle cx="539.03" cy="34.39" r="1.6"/><circle cx="539.48" cy="34.43" r="1.6"/><circle cx="539.93" cy="34.37" r="1.6"/><circle cx="540.38" cy="34.38" r="1.6"/><circle cx="540.83" cy="34.38" r="1.6"/><circle cx="541.28" cy="34.37" r="1.6"/><circle cx="541.73" cy="34.4" r="1.6"/><circle cx="542.18" cy="34.41" r="1.6"/><circle cx="542.63" cy="34.42" r="1.6"/></g>
<g fill="#ffff00"><circle cx="543.08" cy="34.41" r="1.6"/><circle cx="543.53" cy="34.42" r="1.6"/><circle cx="543.98" cy="34.37" r="1.6"/><circle cx="544.43" cy="34.39" r="1.6"/><circle cx="544.88" cy="34.43" r="1.6"/><circle cx="545.33" cy="34.37" r="1.6"/><circle cx="545.78" cy="34.39" r="1.6"/><circle cx="546.23" cy="34.4" r="1.6"/><circle cx="546.68" cy="34.39" r="1.6"/><circle cx="547.13" cy="34.4" r="1.6"/><circle cx="547.58" cy="34.37" r="1.6"/><circle cx="548.03" cy="34.38" r="1.6"/><circle cx="548.48" cy="34.43" r="1.6"/><circle cx="548.93" cy="34.38" r="1.6"/><circle cx="549.38" cy="34.42" r="1.6"/><circle cx="549.83" cy="34.38" r="1.6"/><circle cx="550.28" cy="34.43" r="1.6"/><circle cx="550.73" cy="34.41" r="1.6"/><circle cx="551.18" cy="34.41" r="1.6"/><circle cx="551.63" cy="34.38" r="1.6"/><circle cx="552.08" cy="34.37" r="1.6"/><circle cx="552.53" cy="34.42" r="1.6"/><circle cx="552.98" cy="34.38" r="1.6"/><circle cx="553.43" cy="34.38" r="1.6"/><circle cx="553.88" cy="34.42" r="1.6"/><circle cx="554.33" cy="34.42" r="1.6"/><circle cx="554.78" cy="34.37" r="1.6"/><circle cx="555.23" cy="34.43" r="1.6"/><circle cx="555.68" cy="34.4" r="1.6"/><circle cx="556.13" cy="34.39" r="1.6"/><circle cx="556.58" cy="34.38" r="1.6"/><circle cx="557.03" cy="34.39" r="1.6"/><circle cx="557.48" cy="34.43" r="1.6"/><circle cx="557.93" cy="34.39" r="1.6"/><circle cx="558.38" cy="34.38" r="1.6"/><circle cx="558.83" cy="34.38" r="1.6"/><circle cx="559.28" cy="34.38" r="1.6"/><circle cx="559.73" cy="34.39" r="1.6"/><circle cx="560.18" cy="34.42" r="1.6"/><circle cx="560.63" cy="34.37" r="1.6"/><circle cx="561.08" cy="34.38" r="1.6"/><circle cx="561.53" cy="34.43" r="1.6"/><circle cx="561.98" cy="34.43" r="1.6"/><circle cx="562.43" cy="34.43" r="1.6"/><circle cx="562.88" cy="34.38" r="1.6"/><circle cx="563.33" cy="34.39" r="1.6"/><circle cx="563.78" cy="34.43" r="1.6"/><circle cx="564.23" cy="34.4" r="1.6"/><circle cx="564.68" cy="34.41" r="1.6"/><circle cx="565.13" cy="34.39" r="1.6"/><circle cx="565.58" cy="34.37" r="1.6"/><circle cx="566.03" cy="34.39" r="1.6"/><circle cx="566.48" cy="34.41" r="1.6"/><circle cx="566.93" cy="34.42" r="1.6"/><circle cx="567.38" cy="34.4" r="1.6"/><circle cx="567.83" cy="34.4" r="1.6"/><circle cx="568.28" cy="34.4" r="1.6"/><circle cx="568.73" cy="34.4" r="1.6"/><circle cx="569.18" cy="34.4" r="1.6"/><circle cx="569.63" cy="34.42" r="1.6"/><circle cx="570.08" cy="34.38" r="1.6"/><circle cx="570.53" cy="34.41" r="1.6"/><circle cx="570.98" cy="34.43" r="1.6"/><circle cx="571.43" cy="34.42" r="1.6"/><circle cx="571.88" cy="34.38" r="1.6"/><circle cx="572.33" cy="34.43" r="1.6"/><circle cx="572.78" cy="34.42" r="1.6"/><circle cx="573.23" cy="34.38" r="1.6"/><circle cx="573.68" cy="34.39" r="1.6"/><circle cx="574.13" cy="34.38" r="1.6"/><circle cx="574.58" cy="34.37" r="1.6"/><circle cx="575.03" cy="34.43" r="1.6"/><circle cx="575.48" cy="34.39" r="1.6"/><circle cx="575.93" cy="34.42" r="1.6"/><circle cx="576.38" cy="34.38" r="1.6"/><circle cx="576.83" cy="34.37" r="1.6"/><circle cx="577.28" cy="34.42" r="1.6"/><circle cx="577.73" cy="34.42" r="1.6"/><circle cx="578.18" cy="34.43" r="1.6"/><circle cx="578.63" cy="34.41" r="1.6"/><circle cx="579.08" cy="34.4" r="1.6"/><circle cx="579.53" cy="34.42" r="1.6"/><circle cx="579.98" cy="34.38" r="1.6"/><circle cx="580.43" cy="34.4" r="1.6"/><circle cx="580.88" cy="34.4" r="1.6"/><circle cx="581.33" cy="34.38" r="1.6"/><circle cx="581.78" cy="34.41" r="1.6"/><circle cx="582.23" cy="34.39" r="1.6"/><circle cx="582.68" cy="34.4" r="1.6"/><circle cx="583.13" cy="34.39" r="1.6"/><circle cx="583.58" cy="34.39" r="1.6"/><circle cx="584.03" cy="34.39" r="1.6"/><circle cx="584.48" cy="34.41" r="1.6"/><circle cx="584.93" cy="34.43" r="1.6"/><circle cx="585.38" cy="34.43" r="1.6"/><circle cx="585.83" cy="34.42" r="1.6"/><circle cx="586.28" cy="34.42" r="1.6"/><circle cx="586.73" cy="34.39" r="1.6"/><circle cx="587.18" cy="34.43" r="1.6"/><circle cx="587.63" cy="34.39" r="1.6"/><circle cx="588.08" cy="34.38" r="1.6"/><circle cx="588.53" cy="34.4" r="1.6"/><circle cx="588.98" cy="34.41" r="1.6"/><circle cx="589.43" cy="34.39" r="1.6"/><circle cx="589.88" cy="34.41" r="1.6"/><circle cx="590.33" cy="34.39" r="1.6"/><circle cx="590.78" cy="34.43" r="1.6"/><circle cx="591.23" cy="34.4" r="1.6"/><circle cx="591.68" cy="34.4" r="1.6"/><circle cx="592.13" cy="34.4" r="1.6"/><circle cx="592.58" cy="34.42" r="1.6"/><circle cx="593.03" cy="34.43" r="1.6"/><circle cx="593.48" cy="34.4" r="1.6"/><circle cx="593.93" cy="34.4" r="1.6"/><circle cx="594.38" cy="34.41" r="1.6"/><circle cx="594.83" cy="34.37" r="1.6"/><circle cx="595.28" cy="34.4" r="1.6"/><circle cx="595.73" cy="34.42" r="1.6"/><circle cx="596.18" cy="34.42" r="1.6"/><circle cx="596.63" cy="34.37" r="1.6"/><circle cx="597.08" cy="34.42" r="1.6"/><circle cx="597.53" cy="34.39" r="1.6"/><circle cx="597.98" cy="34.43" r="1.6"/><circle cx="598.43" cy="34.39" r="1.6"/><circle cx="598.88" cy="34.38" r="1.6"/><circle cx="599.33" cy="34.4" r="1.6"/><circle cx="599.78" cy="34.42" r="1.6"/><circle cx="600.23" cy="34.4" r="1.6"/><circle cx="600.68" cy="34.42" r="1.6"/><circle cx="601.13" cy="34.41" r="1.6"/><circle cx="601.58" cy="34.39" r="1.6"/><circle cx="602.03" cy="34.39" r="1.6"/><circle cx="602.48" cy="34.4" r="1.6"/><circle cx="602.93" cy="34.39" r="1.6"/><circle cx="603.38" cy="34.39" r="1.6"/><circle cx="603.83" cy="34.41" r="1.6"/><circle cx="604.28" cy="34.42" r="1.6"/><circle cx="604.73" cy="34.41" r="1.6"/><circle cx="605.18" cy="34.38" r="1.6"/><circle cx="605.63" cy="34.38" r="1.6"/><circle cx="606.08" cy="34.39" r="1.6"/><circle cx="606.53" cy="34.41" r="1.6"/><circle cx="606.98" cy="34.38" r="1.6"/><circle cx="607.43" cy="34.37" r="1.6"/><circle cx="607.88" cy="34.39" r="1.6"/><circle cx="608.33" cy="34.39" r="1.6"/><circle cx="608.78" cy="34.37" r="1.6"/><circle cx="609.23" cy="34.4" r="1.6"/><circle cx="609.68" cy="34.43" r="1.6"/><circle cx="610.13" cy="34.4" r="1.6"/><circle cx="610.58" cy="34.41" r="1.6"/><circle cx="611.03" cy="34.42" r="1.6"/><circle cx="611.48" cy="34.42" r="1.6"/><circle cx="611.93" cy="34.42" r="1.6"/><circle cx="612.38" cy="34.4" r="1.6"/><circle cx="612.83" cy="34.41" r="1.6"/><circle cx="613.28" cy="34.38" r="1.6"/><circle cx="613.73" cy="34.42" r="1.6"/><circle cx="614.18" cy="34.39" r="1.6"/></g>
<g fill="#ff8c00"><circle cx="614.63" cy="34.4" r="1.6"/><circle cx="615.08" cy="34.42" r="1.6"/><circle cx="615.53" cy="34.39" r="1.6"/><circle cx="615.98" cy="34.38" r="1.6"/><circle cx="616.43" cy="34.42" r="1.6"/><circle cx="616.88" cy="34.41" r="1.6"/><circle cx="617.33" cy="34.38" r="1.6"/><circle cx="617.78" cy="34.37" r="1.6"/><circle cx="618.23" cy="34.39" r="1.6"/><circle cx="618.68" cy="34.37" r="1.6"/><circle cx="619.13" cy="34.42" r="1.6"/><circle cx="619.58" cy="34.38" r="1.6"/><circle cx="620.03" cy="34.39" r="1.6"/><circle cx="620.48" cy="34.39" r="1.6"/><circle cx="620.93" cy="34.4" r="1.6"/><circle cx="621.38" cy="34.4" r="1.6"/><circle cx="621.83" cy="34.41" r="1.6"/><circle cx="622.28" cy="34.41" r="1.6"/><circle cx="622.73" cy="34.4" r="1.6"/><circle cx="623.18" cy="34.38" r="1.6"/><circle cx="623.63" cy="34.43" r="1.6"/><circle cx="624.08" cy="34.41" r="1.6"/><circle cx="624.53" cy="34.38" r="1.6"/><circle cx="624.98" cy="34.4" r="1.6"/><circle cx="625.43" cy="34.42" r="1.6"/><circle cx="625.88" cy="34.43" r="1.6"/><circle cx="626.33" cy="34.37" r="1.6"/><circle cx="626.78" cy="34.37" r="1.6"/><circle cx="627.23" cy="34.4" r="1.6"/><circle cx="627.68" cy="34.4" r="1.6"/><circle cx="628.13" cy="34.42" r="1.6"/><circle cx="628.58" cy="34.42" r="1.6"/><circle cx="629.03" cy="34.39" r="1.6"/><circle cx="629.48" cy="34.4" r="1.6"/><circle cx="629.93" cy="34.4" r="1.6"/><circle cx="630.38" cy="34.42" r="1.6"/><circle cx="630.83" cy="34.38" r="1.6"/><circle cx="631.28" cy="34.39" r="1.6"/><circle cx="631.73" cy="34.38" r="1.6"/><circle cx="632.18" cy="34.41" r="1.6"/><circle cx="632.63" cy="34.37" r="1.6"/><circle cx="633.08" cy="34.43" r="1.6"/><circle cx="633.53" cy="34.4" r="1.6"/><circle cx="633.98" cy="34.4" r="1.6"/><circle cx="634.43" cy="34.38" r="1.6"/><circle cx="634.88" cy="34.38" r="1.6"/><circle cx="635.33" cy="34.4" r="1.6"/><circle cx="635.78" cy="34.42" r="1.6"/><circle cx="636.23" cy="34.4" r="1.6"/><circle cx="636.68" cy="34.39" r="1.6"/><circle cx="637.13" cy="34.43" r="1.6"/><circle cx="637.58" cy="34.41" r="1.6"/><circle cx="638.03" cy="34.4" r="1.6"/><circle cx="638.48" cy="34.38" r="1.6"/><circle cx="638.93" cy="34.39" r="1.6"/><circle cx="639.38" cy="34.42" r="1.6"/><circle cx="639.83" cy="34.38" r="1.6"/><circle cx="640.28" cy="34.4" r="1.6"/><circle cx="640.73" cy="34.41" r="1.6"/><circle cx="641.18" cy="34.39" r="1.6"/><circle cx="641.63" cy="34.42" r="1.6"/><circle cx="642.08" cy="34.42" r="1.6"/><circle cx="642.53" cy="34.42" r="1.6"/><circle cx="642.98" cy="34.41" r="1.6"/><circle cx="643.43" cy="34.38" r="1.6"/><circle cx="643.88" cy="34.37" r="1.6"/><circle cx="644.33" cy="34.4" r="1.6"/><circle cx="644.78" cy="34.39" r="1.6"/><circle cx="645.23" cy="34.38" r="1.6"/><circle cx="645.68" cy="34.42" r="1.6"/><circle cx="646.13" cy="34.38" r="1.6"/><circle cx="646.58" cy="34.42" r="1.6"/><circle cx="647.03" cy="34.43" r="1.6"/><circle cx="647.48" cy="34.38" r="1.6"/><circle cx="647.93" cy="34.42" r="1.6"/><circle cx="648.38" cy="34.39" r="1.6"/><circle cx="648.83" cy="34.38" r="1.6"/><circle cx="649.28" cy="34.38" r="1.6"/><circle cx="649.73" cy="34.37" r="1.6"/><circle cx="650.18" cy="34.4" r="1.6"/><circle cx="650.63" cy="34.39" r="1.6"/><circle cx="651.08" cy="34.42" r="1.6"/><circle cx="651.53" cy="34.42" r="1.6"/><circle cx="651.98" cy="34.37" r="1.6"/><circle cx="652.43" cy="34.39" r="1.6"/><circle cx="652.88" cy="34.39" r="1.6"/><circle cx="653.33" cy="34.38" r="1.6"/><circle cx="653.78" cy="34.39" r="1.6"/><circle cx="654.23" cy="34.39" r="1.6"/><circle cx="654.68" cy="34.41" r="1.6"/><circle cx="655.13" cy="34.39" r="1.6"/><circle cx="655.58" cy="34.38" r="1.6"/><circle cx="656.03" cy="34.38" r="1.6"/><circle cx="656.48" cy="34.4" r="1.6"/><circle cx="656.93" cy="34.4" r="1.6"/><circle cx="657.38" cy="34.38" r="1.6"/><circle cx="657.83" cy="34.41" r="1.6"/><circle cx="658.28" cy="34.38" r="1.6"/><circle cx="658.73" cy="34.41" r="1.6"/><circle cx="659.18" cy="34.41" r="1.6"/><circle cx="659.63" cy="34.38" r="1.6"/><circle cx="660.08" cy="34.42" r="1.6"/><circle cx="660.53" cy="34.39" r="1.6"/><circle cx="660.98" cy="34.4" r="1.6"/><circle cx="661.43" cy="34.41" r="1.6"/><circle cx="661.88" cy="34.41" r="1.6"/><circle cx="662.33" cy="34.4" r="1.6"/><circle cx="662.78" cy="34.37" r="1.6"/><circle cx="663.23" cy="34.42" r="1.6"/><circle cx="663.68" cy="34.42" r="1.6"/><circle cx="664.13" cy="34.4" r="1.6"/><circle cx="664.58" cy="34.4" r="1.6"/><circle cx="665.03" cy="34.39" r="1.6"/><circle cx="665.48" cy="34.42" r="1.6"/><circle cx="665.93" cy="34.41" r="1.6"/><circle cx="666.38" cy="34.38" r="1.6"/><circle cx="666.83" cy="34.42" r="1.6"/><circle cx="667.28" cy="34.43" r="1.6"/><circle cx="667.73" cy="34.39" r="1.6"/><circle cx="668.18" cy="34.43" r="1.6"/><circle cx="668.63" cy="34.4" r="1.6"/><circle cx="669.08" cy="34.38" r="1.6"/><circle cx="669.53" cy="34.41" r="1.6"/><circle cx="669.98" cy="34.39" r="1.6"/><circle cx="670.43" cy="34.41" r="1.6"/><circle cx="670.88" cy="34.41" r="1.6"/><circle cx="671.33" cy="34.38" r="1.6"/><circle cx="671.78" cy="34.4" r="1.6"/><circle cx="672.23" cy="34.42" r="1.6"/><circle cx="672.68" cy="34.4" r="1.6"/><circle cx="673.13" cy="34.4" r="1.6"/><circle cx="673.58" cy="34.42" r="1.6"/><circle cx="674.03" cy="34.4" r="1.6"/><circle cx="674.48" cy="34.4" r="1.6"/><circle cx="674.93" cy="34.4" r="1.6"/><circle cx="675.38" cy="34.42" r="1.6"/><circle cx="675.83" cy="34.38" r="1.6"/><circle cx="676.28" cy="34.38" r="1.6"/><circle cx="676.73" cy="34.42" r="1.6"/><circle cx="677.18" cy="34.4" r="1.6"/><circle cx="677.63" cy="34.39" r="1.6"/><circle cx="678.08" cy="34.42" r="1.6"/><circle cx="678.53" cy="34.42" r="1.6"/><circle cx="678.98" cy="34.4" r="1.6"/><circle cx="679.43" cy="34.43" r="1.6"/><circle cx="679.88" cy="34.42" r="1.6"/><circle cx="680.33" cy="34.41" r="1.6"/><circle cx="680.78" cy="34.39" r="1.6"/><circle cx="681.23" cy="34.37" r="1.6"/><circle cx="681.68" cy="34.41" r="1.6"/><circle cx="682.13" cy="34.41" r="1.6"/><circle cx="682.58" cy="34.39" r="1.6"/><circle cx="683.03" cy="34.4" r="1.6"/></g>
<g fill="#ff4500"><circle cx="683.48" cy="34.4" r="1.6"/><circle cx="683.93" cy="34.38" r="1.6"/><circle cx="684.38" cy="34.41" r="1.6"/><circle cx="684.83" cy="34.4" r="1.6"/><circle cx="685.28" cy="34.39" r="1.6"/><circle cx="685.73" cy="34.38" r="1.6"/><circle cx="686.18" cy="34.4" r="1.6"/><circle cx="686.63" cy="34.39" r="1.6"/><circle cx="687.08" cy="34.41" r="1.6"/><circle cx="687.53" cy="34.38" r="1.6"/><circle cx="687.98" cy="34.39" r="1.6"/><circle cx="688.43" cy="34.38" r="1.6"/><circle cx="688.88" cy="34.39" r="1.6"/><circle cx="689.33" cy="34.4" r="1.6"/><circle cx="689.78" cy="34.38" r="1.6"/><circle cx="690.23" cy="34.37" r="1.6"/><circle cx="690.68" cy="34.4" r="1.6"/><circle cx="691.13" cy="34.38" r="1.6"/><circle cx="691.58" cy="34.4" r="1.6"/><circle cx="692.03" cy="34.38" r="1.6"/><circle cx="692.48" cy="34.38" r="1.6"/><circle cx="692.93" cy="34.4" r="1.6"/><circle cx="693.38" cy="34.43" r="1.6"/><circle cx="693.83" cy="34.42" r="1.6"/><circle cx="694.28" cy="34.4" r="1.6"/><circle cx="694.73" cy="34.39" r="1.6"/><circle cx="695.18" cy="34.37" r="1.6"/><circle cx="695.63" cy="34.39" r="1.6"/><circle cx="696.08" cy="34.39" r="1.6"/><circle cx="696.53" cy="34.43" r="1.6"/><circle cx="696.98" cy="34.38" r="1.6"/><circle cx="697.43" cy="34.43" r="1.6"/><circle cx="697.88" cy="34.4" r="1.6"/><circle cx="698.33" cy="34.4" r="1.6"/><circle cx="698.78" cy="34.39" r="1.6"/><circle cx="699.23" cy="34.43" r="1.6"/><circle cx="699.68" cy="34.38" r="1.6"/><circle cx="700.13" cy="34.4" r="1.6"/><circle cx="700.58" cy="34.4" r="1.6"/><circle cx="701.03" cy="34.38" r="1.6"/><circle cx="701.48" cy="34.38" r="1.6"/><circle cx="701.93" cy="34.43" r="1.6"/><circle cx="702.38" cy="34.42" r="1.6"/><circle cx="702.83" cy="34.41" r="1.6"/><circle cx="703.28" cy="34.42" r="1.6"/><circle cx="703.73" cy="34.38" r="1.6"/><circle cx="704.18" cy="34.41" r="1.6"/><circle cx="704.63" cy="34.42" r="1.6"/><circle cx="705.08" cy="34.38" r="1.6"/><circle cx="705.53" cy="34.4" r="1.6"/><circle cx="705.98" cy="34.43" r="1.6"/><circle cx="706.43" cy="34.39" r="1.6"/><circle cx="706.88" cy="34.42" r="1.6"/><circle cx="707.33" cy="34.38" r="1.6"/><circle cx="707.78" cy="34.41" r="1.6"/><circle cx="708.23" cy="34.39" r="1.6"/><circle cx="708.68" cy="34.4" r="1.6"/><circle cx="709.13" cy="34.39" r="1.6"/><circle cx="709.58" cy="34.42" r="1.6"/><circle cx="710.03" cy="34.41" r="1.6"/><circle cx="710.48" cy="34.4" r="1.6"/><circle cx="710.93" cy="34.41" r="1.6"/><circle cx="711.38" cy="34.4" r="1.6"/><circle cx="711.83" cy="34.42" r="1.6"/><circle cx="712.28" cy="34.39" r="1.6"/><circle cx="712.73" cy="34.4" r="1.6"/><circle cx="713.18" cy="34.41" r="1.6"/><circle cx="713.63" cy="34.39" r="1.6"/><circle cx="714.08" cy="34.37" r="1.6"/><circle cx="714.53" cy="34.38" r="1.6"/><circle cx="714.98" cy="34.41" r="1.6"/><circle cx="715.43" cy="34.38" r="1.6"/><circle cx="715.88" cy="34.42" r="1.6"/><circle cx="716.33" cy="34.4" r="1.6"/><circle cx="716.78" cy="34.43" r="1.6"/><circle cx="717.23" cy="34.42" r="1.6"/><circle cx="717.68" cy="34.41" r="1.6"/><circle cx="718.13" cy="34.39" r="1.6"/><circle cx="718.58" cy="34.37" r="1.6"/><circle cx="719.03" cy="34.4" r="1.6"/><circle cx="719.48" cy="34.41" r="1.6"/><circle cx="719.93" cy="34.43" r="1.6"/><circle cx="720.38" cy="34.38" r="1.6"/><circle cx="720.83" cy="34.38" r="1.6"/><circle cx="721.28" cy="34.43" r="1.6"/><circle cx="721.73" cy="34.41" r="1.6"/><circle cx="722.18" cy="34.4" r="1.6"/><circle cx="722.63" cy="34.41" r="1.6"/><circle cx="723.08" cy="34.38" r="1.6"/><circle cx="723.53" cy="34.4" r="1.6"/><circle cx="723.98" cy="34.41" r="1.6"/><circle cx="724.43" cy="34.41" r="1.6"/><circle cx="724.88" cy="34.38" r="1.6"/><circle cx="725.33" cy="34.38" r="1.6"/><circle cx="725.78" cy="34.41" r="1.6"/><circle cx="726.23" cy="34.42" r="1.6"/><circle cx="726.68" cy="34.38" r="1.6"/><circle cx="727.13" cy="34.37" r="1.6"/><circle cx="727.58" cy="34.37" r="1.6"/><circle cx="728.03" cy="34.42" r="1.6"/><circle cx="728.48" cy="34.39" r="1.6"/><circle cx="728.93" cy="34.4" r="1.6"/><circle cx="729.38" cy="34.43" r="1.6"/><circle cx="729.83" cy="34.41" r="1.6"/><circle cx="730.28" cy="34.39" r="1.6"/><circle cx="730.73" cy="34.41" r="1.6"/><circle cx="731.18" cy="34.37" r="1.6"/><circle cx="731.63" cy="34.39" r="1.6"/><circle cx="732.08" cy="34.41" r="1.6"/><circle cx="732.53" cy="34.38" r="1.6"/><circle cx="732.98" cy="34.37" r="1.6"/><circle cx="733.43" cy="34.4" r="1.6"/><circle cx="733.88" cy="34.39" r="1.6"/><circle cx="734.33" cy="34.43" r="1.6"/><circle cx="734.78" cy="34.38" r="1.6"/><circle cx="735.23" cy="34.42" r="1.6"/><circle cx="735.68" cy="34.39" r="1.6"/><circle cx="736.13" cy="34.42" r="1.6"/><circle cx="736.58" cy="34.4" r="1.6"/><circle cx="737.03" cy="34.41" r="1.6"/><circle cx="737.48" cy="34.39" r="1.6"/><circle cx="737.93" cy="34.38" r="1.6"/><circle cx="738.38" cy="34.4" r="1.6"/><circle cx="738.83" cy="34.42" r="1.6"/><circle cx="739.28" cy="34.39" r="1.6"/><circle cx="739.73" cy="34.38" r="1.6"/><circle cx="740.18" cy="34.39" r="1.6"/><circle cx="740.63" cy="34.38" r="1.6"/><circle cx="741.08" cy="34.39" r="1.6"/><circle cx="741.53" cy="34.4" r="1.6"/><circle cx="741.98" cy="34.4" r="1.6"/><circle cx="742.43" cy="34.41" r="1.6"/><circle cx="742.88" cy="34.39" r="1.6"/><circle cx="743.33" cy="34.37" r="1.6"/><circle cx="743.78" cy="34.37" r="1.6"/><circle cx="744.23" cy="34.39" r="1.6"/><circle cx="744.68" cy="34.38" r="1.6"/><circle cx="745.13" cy="34.4" r="1.6"/><circle cx="745.58" cy="34.39" r="1.6"/><circle cx="746.03" cy="34.42" r="1.6"/><circle cx="746.48" cy="34.41" r="1.6"/><circle cx="746.93" cy="34.41" r="1.6"/><circle cx="747.38" cy="34.41" r="1.6"/><circle cx="747.83" cy="34.4" r="1.6"/><circle cx="748.28" cy="34.4" r="1.6"/><circle cx="748.73" cy="34.39" r="1.6"/><circle cx="749.18" cy="34.37" r="1.6"/><circle cx="749.63" cy="34.42" r="1.6"/><circle cx="750.08" cy="34.4" r="1.6"/><circle cx="750.53" cy="34.38" r="1.6"/><circle cx="750.98" cy="34.43" r="1.6"/><circle cx="751.43" cy="34.4" r="1.6"/><circle cx="751.88" cy="34.41" r="1.6"/><circle cx="752.33" cy="34.4" r="1.6"/><circle cx="752.78" cy="34.38" r="1.6"/><circle cx="753.23" cy="34.43" r="1.6"/><circle cx="753.68" cy="34.38" r="1.6"/><circle cx="754.13" cy="34.39" r="1.6"/><circle cx="754.58" cy="34.43" r="1.6"/></g>
<g fill="#ff0000"><circle cx="755.03" cy="34.38" r="1.6"/><circle cx="755.48" cy="34.4" r="1.6"/><circle cx="755.93" cy="34.4" r="1.6"/><circle cx="756.38" cy="34.38" r="1.6"/><circle cx="756.83" cy="34.43" r="1.6"/><circle cx="757.28" cy="34.39" r="1.6"/><circle cx="757.73" cy="34.37" r="1.6"/><circle cx="758.18" cy="34.4" r="1.6"/><circle cx="758.63" cy="34.37" r="1.6"/><circle cx="759.08" cy="34.41" r="1.6"/><circle cx="759.53" cy="34.42" r="1.6"/><circle cx="759.98" cy="34.42" r="1.6"/><circle cx="760.43" cy="34.37" r="1.6"/><circle cx="760.88" cy="34.41" r="1.6"/><circle cx="761.33" cy="34.39" r="1.6"/><circle cx="761.78" cy="34.4" r="1.6"/><circle cx="762.23" cy="34.39" r="1.6"/><circle cx="762.68" cy="34.39" r="1.6"/><circle cx="763.13" cy="34.38" r="1.6"/><circle cx="763.58" cy="34.41" r="1.6"/><circle cx="764.03" cy="34.38" r="1.6"/><circle cx="764.48" cy="34.43" r="1.6"/><circle cx="764.93" cy="34.37" r="1.6"/><circle cx="765.38" cy="34.43" r="1.6"/><circle cx="765.83" cy="34.38" r="1.6"/><circle cx="766.28" cy="34.38" r="1.6"/><circle cx="766.73" cy="34.41" r="1.6"/><circle cx="767.18" cy="34.4" r="1.6"/><circle cx="767.63" cy="34.42" r="1.6"/><circle cx="768.08" cy="34.4" r="1.6"/><circle cx="768.53" cy="34.41" r="1.6"/><circle cx="768.98" cy="34.37" r="1.6"/><circle cx="769.43" cy="34.41" r="1.6"/><circle cx="769.88" cy="34.4" r="1.6"/><circle cx="770.33" cy="34.43" r="1.6"/><circle cx="770.78" cy="34.37" r="1.6"/><circle cx="771.23" cy="34.37" r="1.6"/><circle cx="771.68" cy="34.41" r="1.6"/><circle cx="772.13" cy="34.43" r="1.6"/><circle cx="772.58" cy="34.4" r="1.6"/><circle cx="773.03" cy="34.41" r="1.6"/><circle cx="773.48" cy="34.4" r="1.6"/><circle cx="773.93" cy="34.39" r="1.6"/><circle cx="774.38" cy="34.4" r="1.6"/><circle cx="774.83" cy="34.41" r="1.6"/><circle cx="775.28" cy="34.37" r="1.6"/><circle cx="775.73" cy="34.39" r="1.6"/><circle cx="776.18" cy="34.41" r="1.6"/><circle cx="776.63" cy="34.39" r="1.6"/><circle cx="777.08" cy="34.4" r="1.6"/><circle cx="777.53" cy="34.39" r="1.6"/><circle cx="777.98" cy="34.39" r="1.6"/><circle cx="778.43" cy="34.41" r="1.6"/><circle cx="778.88" cy="34.41" r="1.6"/><circle cx="779.33" cy="34.43" r="1.6"/><circle cx="779.78" cy="34.4" r="1.6"/><circle cx="780.23" cy="34.38" r="1.6"/><circle cx="780.68" cy="34.39" r="1.6"/><circle cx="781.13" cy="34.37" r="1.6"/><circle cx="781.58" cy="34.38" r="1.6"/><circle cx="782.03" cy="34.41" r="1.6"/><circle cx="782.48" cy="34.41" r="1.6"/><circle cx="782.93" cy="34.38" r="1.6"/><circle cx="783.38" cy="34.38" r="1.6"/><circle cx="783.83" cy="34.38" r="1.6"/><circle cx="784.28" cy="34.38" r="1.6"/><circle cx="784.73" cy="34.4" r="1.6"/><circle cx="785.18" cy="34.39" r="1.6"/><circle cx="785.63" cy="34.42" r="1.6"/><circle cx="786.08" cy="34.4" r="1.6"/><circle cx="786.53" cy="34.39" r="1.6"/><circle cx="786.98" cy="34.4" r="1.6"/><circle cx="787.43" cy="34.37" r="1.6"/><circle cx="787.88" cy="34.41" r="1.6"/><circle cx="788.33" cy="34.42" r="1.6"/><circle cx="788.78" cy="34.39" r="1.6"/><circle cx="789.23" cy="34.41" r="1.6"/><circle cx="789.68" cy="34.39" r="1.6"/><circle cx="790.13" cy="34.38" r="1.6"/><circle cx="790.58" cy="34.38" r="1.6"/><circle cx="791.03" cy="34.38" r="1.6"/><circle cx="791.48" cy="34.41" r="1.6"/><circle cx="791.93" cy="34.41" r="1.6"/><circle cx="792.38" cy="34.41" r="1.6"/><circle cx="792.83" cy="34.38" r="1.6"/><circle cx="793.28" cy="34.42" r="1.6"/><circle cx="793.73" cy="34.4" r="1.6"/><circle cx="794.18" cy="34.39" r="1.6"/><circle cx="794.63" cy="34.4" r="1.6"/><circle cx="795.08" cy="34.4" r="1.6"/><circle cx="795.53" cy="34.38" r="1.6"/><circle cx="795.98" cy="34.39" r="1.6"/><circle cx="796.43" cy="34.41" r="1.6"/><circle cx="796.88" cy="34.41" r="1.6"/><circle cx="797.33" cy="34.42" r="1.6"/><circle cx="797.78" cy="34.38" r="1.6"/><circle cx="798.23" cy="34.42" r="1.6"/><circle cx="798.68" cy="34.42" r="1.6"/><circle cx="799.13" cy="34.41" r="1.6"/><circle cx="799.58" cy="34.43" r="1.6"/><circle cx="800.03" cy="34.38" r="1.6"/><circle cx="800.48" cy="34.42" r="1.6"/><circle cx="800.93" cy="34.42" r="1.6"/><circle cx="801.38" cy="34.38" r="1.6"/><circle cx="801.83" cy="34.41" r="1.6"/><circle cx="802.28" cy="34.43" r="1.6"/><circle cx="802.73" cy="34.39" r="1.6"/><circle cx="803.18" cy="34.42" r="1.6"/><circle cx="803.63" cy="34.42" r="1.6"/><circle cx="804.08" cy="34.4" r="1.6"/><circle cx="804.53" cy="34.38" r="1.6"/><circle cx="804.98" cy="34.38" r="1.6"/><circle cx="805.43" cy="34.42" r="1.6"/><circle cx="805.88" cy="34.4" r="1.6"/><circle cx="806.33" cy="34.39" r="1.6"/><circle cx="806.78" cy="34.4" r="1.6"/><circle cx="807.23" cy="34.43" r="1.6"/><circle cx="807.68" cy="34.39" r="1.6"/><circle cx="808.13" cy="34.37" r="1.6"/><circle cx="808.58" cy="34.43" r="1.6"/><circle cx="809.03" cy="34.39" r="1.6"/><circle cx="809.48" cy="34.39" r="1.6"/><circle cx="809.93" cy="34.43" r="1.6"/><circle cx="810.38" cy="34.39" r="1.6"/><circle cx="810.83" cy="34.38" r="1.6"/><circle cx="811.28" cy="34.42" r="1.6"/><circle cx="811.73" cy="34.38" r="1.6"/><circle cx="812.18" cy="34.38" r="1.6"/><circle cx="812.63" cy="34.43" r="1.6"/><circle cx="813.08" cy="34.38" r="1.6"/><circle cx="813.53" cy="34.42" r="1.6"/><circle cx="813.98" cy="34.39" r="1.6"/><circle cx="814.43" cy="34.39" r="1.6"/><circle cx="814.88" cy="34.38" r="1.6"/><circle cx="815.33" cy="34.4" r="1.6"/><circle cx="815.78" cy="34.4" r="1.6"/><circle cx="816.23" cy="34.39" r="1.6"/><circle cx="816.68" cy="34.4" r="1.6"/><circle cx="817.13" cy="34.39" r="1.6"/><circle cx="817.58" cy="34.42" r="1.6"/><circle cx="818.03" cy="34.43" r="1.6"/><circle cx="818.48" cy="34.42" r="1.6"/><circle cx="818.93" cy="34.42" r="1.6"/><circle cx="819.38" cy="34.37" r="1.6"/><circle cx="819.83" cy="34.39" r="1.6"/><circle cx="820.28" cy="34.38" r="1.6"/><circle cx="820.73" cy="34.38" r="1.6"/><circle cx="821.18" cy="34.43" r="1.6"/><circle cx="821.63" cy="34.42" r="1.6"/><circle cx="822.08" cy="34.42" r="1.6"/><circle cx="822.53" cy="34.4" r="1.6"/><circle cx="822.98" cy="34.38" r="1.6"/><circle cx="823.43" cy="34.4" r="1.6"/><circle cx="823.88" cy="34.37" r="1.6"/></g>
<g fill="#8b4513"><circle cx="824.33" cy="34.42" r="1.6"/><circle cx="824.78" cy="34.39" r="1.6"/><circle cx="825.23" cy="34.39" r="1.6"/></g>
<g fill="#000"><circle cx="122.2" cy="74.4" r="2.32"/><circle cx="122.4" cy="84.5" r="2.32"/><circle cx="122.6" cy="74.4" r="2.32"/><circle cx="139.6" cy="73.9" r="2.32"/><circle cx="140.5" cy="72.7" r="2.32"/><circle cx="141.5" cy="73.9" r="2.32"/><circle cx="143.4" cy="84.5" r="2.32"/><circle cx="143.5" cy="72.7" r="2.32"/><circle cx="144.2" cy="73.9" r="2.32"/><circle cx="150.9" cy="74" r="2.32"/><circle cx="152.2" cy="74" r="2.32"/><circle cx="153.3" cy="72.4" r="2.32"/><circle cx="154.6" cy="74" r="2.32"/><circle cx="155.9" cy="74" r="2.32"/><circle cx="157.4" cy="84.5" r="2.32"/><circle cx="160.8" cy="74.3" r="2.32"/><circle cx="161.6" cy="84.5" r="2.32"/><circle cx="162" cy="74.3" r="2.32"/><circle cx="163" cy="74.3" r="2.32"/><circle cx="164" cy="72.1" r="2.32"/><circle cx="164.3" cy="84.5" r="2.32"/><circle cx="166" cy="74.3" r="2.32"/><circle cx="167.5" cy="72.1" r="2.32"/><circle cx="168" cy="74.3" r="2.32"/><circle cx="169" cy="74.3" r="2.32"/><circle cx="170.1" cy="84.5" r="2.32"/><circle cx="170.5" cy="74.3" r="2.32"/><circle cx="172" cy="74.3" r="2.32"/><circle cx="173.5" cy="72.1" r="2.32"/><circle cx="174" cy="74.3" r="2.32"/><circle cx="176" cy="74.3" r="2.32"/><circle cx="178" cy="74.3" r="2.32"/><circle cx="180.2" cy="84.5" r="2.32"/><circle cx="180.5" cy="74.3" r="2.32"/><circle cx="183.4" cy="84.5" r="2.32"/><circle cx="184.3" cy="74.3" r="2.32"/><circle cx="188" cy="74.3" r="2.32"/><circle cx="190.5" cy="78.6" r="2.32"/><circle cx="191.4" cy="74.3" r="2.32"/><circle cx="193.5" cy="84.4" r="2.32"/><circle cx="195.5" cy="74.3" r="2.32"/><circle cx="196.5" cy="74.3" r="2.32"/><circle cx="199.3" cy="78.6" r="2.32"/><circle cx="200.4" cy="75.8" r="2.32"/><circle cx="201.3" cy="74.3" r="2.32"/><circle cx="204.5" cy="78.6" r="2.32"/><circle cx="204.5" cy="136.5" r="2.32"/><circle cx="205" cy="74.3" r="2.32"/><circle cx="205.2" cy="84.4" r="2.32"/><circle cx="206" cy="78.6" r="2.32"/><circle cx="206.5" cy="74.3" r="2.32"/><circle cx="208" cy="78.6" r="2.32"/><circle cx="209.2" cy="74.3" r="2.32"/><circle cx="212.4" cy="78.6" r="2.32"/><circle cx="213.5" cy="74.3" r="2.32"/><circle cx="216" cy="74.3" r="2.32"/><circle cx="218.5" cy="74.3" r="2.32"/><circle cx="221" cy="74.3" r="2.32"/><circle cx="221.2" cy="75.8" r="2.32"/><circle cx="225.5" cy="74.3" r="2.32"/><circle cx="227.6" cy="78.6" r="2.32"/><circle cx="228" cy="74.3" r="2.32"/><circle cx="231" cy="74.3" r="2.32"/><circle cx="234.5" cy="74.3" r="2.32"/><circle cx="234.5" cy="75.8" r="2.32"/><circle cx="237.5" cy="74.3" r="2.32"/><circle cx="240" cy="74.3" r="2.32"/><circle cx="242.5" cy="74.3" r="2.32"/><circle cx="245" cy="74.3" r="2.32"/><circle cx="245.3" cy="78.6" r="2.32"/><circle cx="247.5" cy="74.3" r="2.32"/><circle cx="250" cy="74.3" r="2.32"/><circle cx="252.5" cy="74.3" r="2.32"/><circle cx="255" cy="74.3" r="2.32"/><circle cx="256.4" cy="74.3" r="2.32"/><circle cx="256.4" cy="71.6" r="2.32"/><circle cx="256.4" cy="78.6" r="2.32"/><circle cx="258.5" cy="74.3" r="2.32"/><circle cx="259.6" cy="119.3" r="2.32"/><circle cx="260.5" cy="74.3" r="2.32"/><circle cx="262.6" cy="72.3" r="2.32"/><circle cx="264" cy="74.3" r="2.32"/><circle cx="266" cy="74.3" r="2.32"/><circle cx="268" cy="74.3" r="2.32"/><circle cx="268.5" cy="78.7" r="2.32"/><circle cx="270" cy="74.3" r="2.32"/><circle cx="271.5" cy="74.3" r="2.32"/><circle cx="273.5" cy="72" r="2.32"/><circle cx="277" cy="74.6" r="2.32"/><circle cx="277.5" cy="119.3" r="2.32"/><circle cx="279" cy="74.6" r="2.32"/><circle cx="279.4" cy="119.3" r="2.32"/><circle cx="281" cy="74.2" r="2.32"/><circle cx="282.5" cy="71.9" r="2.32"/><circle cx="283.6" cy="119.3" r="2.32"/><circle cx="287.2" cy="74.4" r="2.32"/><circle cx="290.5" cy="75.4" r="2.32"/><circle cx="294.4" cy="75.4" r="2.32"/><circle cx="300.5" cy="74.6" r="2.32"/><circle cx="302.5" cy="72.4" r="2.32"/><circle cx="303.6" cy="74.6" r="2.32"/><circle cx="304.5" cy="63.4" r="2.32"/><circle cx="307.4" cy="119.3" r="2.32"/></g>
<circle cx="122.2" cy="74.4" r="1.52" fill="#000000"/><circle cx="122.4" cy="84.5" r="1.52" fill="#000000"/><circle cx="122.6" cy="74.4" r="1.52" fill="#000000"/><circle cx="139.6" cy="73.9" r="1.52" fill="#483d8b"/><circle cx="140.5" cy="72.7" r="1.52" fill="#483d8b"/><circle cx="141.5" cy="73.9" r="1.52" fill="#483d8b"/><circle cx="143.4" cy="84.5" r="1.52" fill="#483d8b"/><circle cx="143.5" cy="72.7" r="1.52" fill="#483d8b"/><circle cx="144.2" cy="73.9" r="1.52" fill="#483d8b"/><circle cx="150.9" cy="74" r="1.52" fill="#483d8b"/><circle cx="152.2" cy="74" r="1.52" fill="#483d8b"/><circle cx="153.3" cy="72.4" r="1.52" fill="#483d8b"/><circle cx="154.6" cy="74" r="1.52" fill="#483d8b"/><circle cx="155.9" cy="74" r="1.52" fill="#483d8b"/><circle cx="157.4" cy="84.5" r="1.52" fill="#483d8b"/><circle cx="160.8" cy="74.3" r="1.52" fill="#483d8b"/><circle cx="161.6" cy="84.5" r="1.52" fill="#483d8b"/><circle cx="162" cy="74.3" r="1.52" fill="#483d8b"/><circle cx="163" cy="74.3" r="1.52" fill="#483d8b"/><circle cx="164" cy="72.1" r="1.52" fill="#483d8b"/><circle cx="164.3" cy="84.5" r="1.52" fill="#483d8b"/><circle cx="166" cy="74.3" r="1.52" fill="#483d8b"/><circle cx="167.5" cy="72.1" r="1.52" fill="#483d8b"/><circle cx="168" cy="74.3" r="1.52" fill="#483d8b"/><circle cx="169" cy="74.3" r="1.52" fill="#483d8b"/><circle cx="170.1" cy="84.5" r="1.52" fill="#483d8b"/><circle cx="170.5" cy="74.3" r="1.52" fill="#483d8b"/><circle cx="172" cy="74.3" r="1.52" fill="#483d8b"/><circle cx="173.5" cy="72.1" r="1.52" fill="#483d8b"/><circle cx="174" cy="74.3" r="1.52" fill="#483d8b"/><circle cx="176" cy="74.3" r="1.52" fill="#483d8b"/><circle cx="178" cy="74.3" r="1.52" fill="#483d8b"/><circle cx="180.2" cy="84.5" r="1.52" fill="#483d8b"/><circle cx="180.5" cy="74.3" r="1.52" fill="#483d8b"/><circle cx="183.4" cy="84.5" r="1.52" fill="#483d8b"/><circle cx="184.3" cy="74.3" r="1.52" fill="#483d8b"/><circle cx="188" cy="74.3" r="1.52" fill="#483d8b"/><circle cx="190.5" cy="78.6" r="1.52" fill="#0000ff"/><circle cx="191.4" cy="74.3" r="1.52" fill="#0000ff"/><circle cx="193.5" cy="84.4" r="1.52" fill="#0000ff"/><circle cx="195.5" cy="74.3" r="1.52" fill="#0000ff"/><circle cx="196.5" cy="74.3" r="1.52" fill="#0000ff"/><circle cx="199.3" cy="78.6" r="1.52" fill="#0000ff"/><circle cx="200.4" cy="75.8" r="1.52" fill="#0000ff"/><circle cx="201.3" cy="74.3" r="1.52" fill="#0000ff"/><circle cx="204.5" cy="78.6" r="1.52" fill="#0000ff"/><circle cx="204.5" cy="136.5" r="1.52" fill="#0000ff"/><circle cx="205" cy="74.3" r="1.52" fill="#0000ff"/><circle cx="205.2" cy="84.4" r="1.52" fill="#0000ff"/><circle cx="206" cy="78.6" r="1.52" fill="#0000ff"/><circle cx="206.5" cy="74.3" r="1.52" fill="#0000ff"/><circle cx="208" cy="78.6" r="1.52" fill="#0000ff"/><circle cx="209.2" cy="74.3" r="1.52" fill="#0000ff"/><circle cx="212.4" cy="78.6" r="1.52" fill="#0000ff"/><circle cx="213.5" cy="74.3" r="1.52" fill="#0000ff"/><circle cx="216" cy="74.3" r="1.52" fill="#0000ff"/><circle cx="218.5" cy="74.3" r="1.52" fill="#0000ff"/><circle cx="221" cy="74.3" r="1.52" fill="#0000ff"/><circle cx="221.2" cy="75.8" r="1.52" fill="#0000ff"/><circle cx="225.5" cy="74.3" r="1.52" fill="#0000ff"/><circle cx="227.6" cy="78.6" r="1.52" fill="#0000ff"/><circle cx="228" cy="74.3" r="1.52" fill="#0000ff"/><circle cx="231" cy="74.3" r="1.52" fill="#0000ff"/><circle cx="234.5" cy="74.3" r="1.52" fill="#0000ff"/><circle cx="234.5" cy="75.8" r="1.52" fill="#0000ff"/><circle cx="237.5" cy="74.3" r="1.52" fill="#0000ff"/><circle cx="240" cy="74.3" r="1.52" fill="#0000ff"/><circle cx="242.5" cy="74.3" r="1.52" fill="#0000ff"/><circle cx="245" cy="74.3" r="1.52" fill="#0000ff"/><circle cx="245.3" cy="78.6" r="1.52" fill="#0000ff"/><circle cx="247.5" cy="74.3" r="1.52" fill="#0000ff"/><circle cx="250" cy="74.3" r="1.52" fill="#0000ff"/><circle cx="252.5" cy="74.3" r="1.52" fill="#0000ff"/><circle cx="255" cy="74.3" r="1.52" fill="#0000ff"/><circle cx="256.4" cy="74.3" r="1.52" fill="#0000ff"/><circle cx="256.4" cy="71.6" r="1.52" fill="#0000ff"/><circle cx="256.4" cy="78.6" r="1.52" fill="#0000ff"/><circle cx="258.5" cy="74.3" r="1.52" fill="#0000ff"/><circle cx="259.6" cy="119.3" r="1.52" fill="#0000ff"/><circle cx="260.5" cy="74.3" r="1.52" fill="#0000ff"/><circle cx="262.6" cy="72.3" r="1.52" fill="#00bfff"/><circle cx="264" cy="74.3" r="1.52" fill="#00bfff"/><circle cx="266" cy="74.3" r="1.52" fill="#00bfff"/><circle cx="268" cy="74.3" r="1.52" fill="#00bfff"/><circle cx="268.5" cy="78.7" r="1.52" fill="#00bfff"/><circle cx="270" cy="74.3" r="1.52" fill="#00bfff"/><circle cx="271.5" cy="74.3" r="1.52" fill="#00bfff"/><circle cx="273.5" cy="72" r="1.52" fill="#00bfff"/><circle cx="277" cy="74.6" r="1.52" fill="#00bfff"/><circle cx="277.5" cy="119.3" r="1.52" fill="#00bfff"/><circle cx="279" cy="74.6" r="1.52" fill="#00bfff"/><circle cx="279.4" cy="119.3" r="1.52" fill="#00bfff"/><circle cx="281" cy="74.2" r="1.52" fill="#00bfff"/><circle cx="282.5" cy="71.9" r="1.52" fill="#00bfff"/><circle cx="283.6" cy="119.3" r="1.52" fill="#00bfff"/><circle cx="287.2" cy="74.4" r="1.52" fill="#00bfff"/><circle cx="290.5" cy="75.4" r="1.52" fill="#00bfff"/><circle cx="294.4" cy="75.4" r="1.52" fill="#00bfff"/><circle cx="300.5" cy="74.6" r="1.52" fill="#00bfff"/><circle cx="302.5" cy="72.4" r="1.52" fill="#00bfff"/><circle cx="303.6" cy="74.6" r="1.52" fill="#00bfff"/><circle cx="304.5" cy="63.4" r="1.52" fill="#00bfff"/><circle cx="307.4" cy="119.3" r="1.52" fill="#00bfff"/>
</g>
<path d="M86.5 33.5V267.5M861.5 33.5V267.5M86 33.5H862M86 267.5H862" stroke="#000" stroke-width="1.11" fill="none" stroke-linecap="square"/>
<path d="M81.64 33.5H86.5M81.64 67.5H86.5M81.64 100.5H86.5M81.64 133.5H86.5M81.64 167.5H86.5M81.64 200.5H86.5M81.64 233.5H86.5M81.64 267.5H86.5M152.5 267.5V272.36M217.5 267.5V272.36M288.5 267.5V272.36M357.5 267.5V272.36M429.5 267.5V272.36M498.5 267.5V272.36M570.5 267.5V272.36M641.5 267.5V272.36M710.5 267.5V272.36M782.5 267.5V272.36M851.5 267.5V272.36" stroke="#000" stroke-width="1.11" fill="none"/>
<g font-family="DejaVu Sans, Liberation Sans, sans-serif" font-size="17" text-anchor="end" fill="#000">
<text x="76.2" y="40" textLength="41.46" lengthAdjust="spacing">1080</text>
<text x="76.2" y="74" textLength="41.46" lengthAdjust="spacing">1060</text>
<text x="76.2" y="107" textLength="41.46" lengthAdjust="spacing">1040</text>
<text x="76.2" y="140" textLength="41.46" lengthAdjust="spacing">1020</text>
<text x="76.2" y="174" textLength="41.46" lengthAdjust="spacing">1000</text>
<text x="75.6" y="207" textLength="31.95" lengthAdjust="spacing">980</text>
<text x="75.6" y="240.6" textLength="31.95" lengthAdjust="spacing">960</text>
<text x="75.6" y="274.5" textLength="31.95" lengthAdjust="spacing">940</text>
</g>
<g font-family="DejaVu Sans, Liberation Sans, sans-serif" font-size="13.889" text-anchor="end" fill="#000">
<text transform="translate(159.4 279.1) rotate(-85)" textLength="61.2" lengthAdjust="spacing">02/12/25</text>
<text transform="translate(223.1 278.9) rotate(-85)" textLength="61.2" lengthAdjust="spacing">03/12/25</text>
<text transform="translate(295.2 278.9) rotate(-85)" textLength="61.2" lengthAdjust="spacing">04/12/25</text>
<text transform="translate(364.1 279) rotate(-85)" textLength="61.2" lengthAdjust="spacing">05/12/25</text>
<text transform="translate(436.1 280) rotate(-85)" textLength="61.2" lengthAdjust="spacing">06/12/25</text>
<text transform="translate(505.2 279) rotate(-85)" textLength="61.2" lengthAdjust="spacing">07/12/25</text>
<text transform="translate(576.1 280) rotate(-85)" textLength="61.2" lengthAdjust="spacing">08/12/25</text>
<text transform="translate(648.2 280) rotate(-85)" textLength="61.2" lengthAdjust="spacing">09/12/25</text>
<text transform="translate(718 280.9) rotate(-85)" textLength="61.2" lengthAdjust="spacing">10/12/25</text>
<text transform="translate(789.1 280.7) rotate(-85)" textLength="61.2" lengthAdjust="spacing">11/12/25</text>
<text transform="translate(857.9 280.8) rotate(-85)" textLength="61.2" lengthAdjust="spacing">12/12/25</text>
</g>
<path d="M152.5 384.4V617.5M217.5 384.4V617.5M288.5 384.4V617.5M357.5 384.4V617.5M429.5 384.4V617.5M498.5 384.4V617.5M570.5 384.4V617.5M641.5 384.4V617.5M710.5 384.4V617.5M782.5 384.4V617.5M851.5 384.4V617.5M86.5 423.5H861.5M86.5 461.5H861.5M86.5 500.5H861.5M86.5 539.5H861.5M86.5 578.5H861.5" stroke="#b0b0b0" stroke-width="1.11" fill="none"/>
<g clip-path="url(#c1)">
<g fill="#000"><circle cx="121.43" cy="435.16" r="2.55"/><circle cx="121.88" cy="434.27" r="2.55"/><circle cx="122.33" cy="434.26" r="2.55"/><circle cx="125.48" cy="434.54" r="2.55"/><circle cx="125.93" cy="435.45" r="2.55"/><circle cx="126.38" cy="434.56" r="2.55"/><circle cx="126.83" cy="434.57" r="2.55"/><circle cx="127.28" cy="434.57" r="2.55"/><circle cx="127.73" cy="436.43" r="2.55"/><circle cx="128.18" cy="434.53" r="2.55"/><circle cx="128.63" cy="434.57" r="2.55"/><circle cx="129.08" cy="434.55" r="2.55"/><circle cx="129.53" cy="434.53" r="2.55"/><circle cx="129.98" cy="434.58" r="2.55"/><circle cx="130.43" cy="435.42" r="2.55"/><circle cx="130.88" cy="434.54" r="2.55"/><circle cx="131.33" cy="434.56" r="2.55"/><circle cx="131.78" cy="434.54" r="2.55"/><circle cx="132.23" cy="435.46" r="2.55"/><circle cx="132.68" cy="435.46" r="2.55"/><circle cx="133.13" cy="434.58" r="2.55"/><circle cx="133.58" cy="435.42" r="2.55"/><circle cx="134.03" cy="435.44" r="2.55"/><circle cx="134.48" cy="435.42" r="2.55"/><circle cx="134.93" cy="434.53" r="2.55"/><circle cx="135.38" cy="435.44" r="2.55"/><circle cx="135.83" cy="435.47" r="2.55"/><circle cx="136.28" cy="435.47" r="2.55"/><circle cx="136.73" cy="434.53" r="2.55"/><circle cx="137.18" cy="435.48" r="2.55"/><circle cx="137.63" cy="434.54" r="2.55"/><circle cx="138.08" cy="434.57" r="2.55"/><circle cx="138.53" cy="435.48" r="2.55"/><circle cx="138.98" cy="434.52" r="2.55"/><circle cx="139.43" cy="435.42" r="2.55"/><circle cx="139.88" cy="435.47" r="2.55"/><circle cx="140.33" cy="435.43" r="2.55"/><circle cx="140.78" cy="434.57" r="2.55"/><circle cx="141.23" cy="434.53" r="2.55"/><circle cx="141.68" cy="434.56" r="2.55"/><circle cx="142.13" cy="434.53" r="2.55"/><circle cx="142.58" cy="434.57" r="2.55"/><circle cx="143.03" cy="435.48" r="2.55"/><circle cx="143.48" cy="434.58" r="2.55"/><circle cx="143.93" cy="435.46" r="2.55"/><circle cx="144.38" cy="435.44" r="2.55"/><circle cx="144.83" cy="434.53" r="2.55"/><circle cx="145.28" cy="434.56" r="2.55"/><circle cx="145.73" cy="435.43" r="2.55"/><circle cx="146.18" cy="435.42" r="2.55"/><circle cx="146.63" cy="435.46" r="2.55"/><circle cx="147.08" cy="435.44" r="2.55"/><circle cx="147.53" cy="435.47" r="2.55"/><circle cx="147.98" cy="435.48" r="2.55"/><circle cx="148.43" cy="435.55" r="2.55"/><circle cx="148.88" cy="435.44" r="2.55"/><circle cx="149.33" cy="435.47" r="2.55"/><circle cx="149.78" cy="435.44" r="2.55"/><circle cx="150.23" cy="435.44" r="2.55"/><circle cx="150.68" cy="435.48" r="2.55"/><circle cx="151.13" cy="434.55" r="2.55"/><circle cx="151.58" cy="435.48" r="2.55"/><circle cx="152.03" cy="434.56" r="2.55"/><circle cx="152.48" cy="434.56" r="2.55"/><circle cx="152.93" cy="435.44" r="2.55"/><circle cx="153.38" cy="435.46" r="2.55"/><circle cx="153.83" cy="434.56" r="2.55"/><circle cx="154.28" cy="434.53" r="2.55"/><circle cx="154.73" cy="434.58" r="2.55"/><circle cx="155.18" cy="434.52" r="2.55"/><circle cx="155.63" cy="435.48" r="2.55"/><circle cx="156.08" cy="434.54" r="2.55"/><circle cx="156.53" cy="434.56" r="2.55"/><circle cx="156.98" cy="435.42" r="2.55"/><circle cx="157.43" cy="435.47" r="2.55"/><circle cx="157.88" cy="435.48" r="2.55"/><circle cx="158.33" cy="435.43" r="2.55"/><circle cx="158.78" cy="435.48" r="2.55"/><circle cx="159.23" cy="435.47" r="2.55"/><circle cx="159.68" cy="435.45" r="2.55"/><circle cx="160.13" cy="435.45" r="2.55"/><circle cx="160.58" cy="434.56" r="2.55"/><circle cx="161.03" cy="434.54" r="2.55"/><circle cx="161.48" cy="434.54" r="2.55"/><circle cx="161.93" cy="435.45" r="2.55"/><circle cx="162.38" cy="435.44" r="2.55"/><circle cx="162.83" cy="435.44" r="2.55"/><circle cx="163.28" cy="434.56" r="2.55"/><circle cx="163.73" cy="435.45" r="2.55"/><circle cx="164.18" cy="435.48" r="2.55"/><circle cx="164.63" cy="435.43" r="2.55"/><circle cx="165.08" cy="435.43" r="2.55"/><circle cx="165.53" cy="435.57" r="2.55"/><circle cx="165.98" cy="435.43" r="2.55"/><circle cx="166.43" cy="434.53" r="2.55"/><circle cx="166.88" cy="434.56" r="2.55"/><circle cx="167.33" cy="435.46" r="2.55"/><circle cx="167.78" cy="434.52" r="2.55"/><circle cx="168.23" cy="435.45" r="2.55"/><circle cx="168.68" cy="435.46" r="2.55"/><circle cx="169.13" cy="435.44" r="2.55"/><circle cx="169.58" cy="434.52" r="2.55"/><circle cx="170.03" cy="435.46" r="2.55"/><circle cx="170.48" cy="434.52" r="2.55"/><circle cx="170.93" cy="435.46" r="2.55"/><circle cx="171.38" cy="435.47" r="2.55"/><circle cx="171.83" cy="435.44" r="2.55"/><circle cx="172.28" cy="434.57" r="2.55"/><circle cx="172.73" cy="435.54" r="2.55"/><circle cx="173.18" cy="435.45" r="2.55"/><circle cx="173.63" cy="435.47" r="2.55"/><circle cx="174.08" cy="435.46" r="2.55"/><circle cx="174.53" cy="435.45" r="2.55"/><circle cx="174.98" cy="434.52" r="2.55"/><circle cx="175.43" cy="434.57" r="2.55"/><circle cx="175.88" cy="434.54" r="2.55"/><circle cx="176.33" cy="434.58" r="2.55"/><circle cx="176.78" cy="434.53" r="2.55"/><circle cx="177.23" cy="434.56" r="2.55"/><circle cx="177.68" cy="435.46" r="2.55"/><circle cx="178.13" cy="434.56" r="2.55"/><circle cx="178.58" cy="434.52" r="2.55"/><circle cx="179.03" cy="434.56" r="2.55"/><circle cx="179.48" cy="435.42" r="2.55"/><circle cx="179.93" cy="435.47" r="2.55"/><circle cx="180.38" cy="435.43" r="2.55"/><circle cx="180.83" cy="435.45" r="2.55"/><circle cx="181.28" cy="435.47" r="2.55"/><circle cx="181.73" cy="435.43" r="2.55"/><circle cx="182.18" cy="435.47" r="2.55"/><circle cx="182.63" cy="434.54" r="2.55"/><circle cx="183.08" cy="435.47" r="2.55"/><circle cx="183.53" cy="434.57" r="2.55"/><circle cx="183.98" cy="435.46" r="2.55"/><circle cx="184.43" cy="434.56" r="2.55"/><circle cx="184.88" cy="434.53" r="2.55"/><circle cx="185.33" cy="435.43" r="2.55"/><circle cx="185.78" cy="435.48" r="2.55"/><circle cx="186.23" cy="434.55" r="2.55"/><circle cx="186.68" cy="434.58" r="2.55"/><circle cx="187.13" cy="434.56" r="2.55"/><circle cx="187.58" cy="435.47" r="2.55"/><circle cx="188.03" cy="435.44" r="2.55"/><circle cx="188.48" cy="435.48" r="2.55"/><circle cx="188.93" cy="435.44" r="2.55"/><circle cx="189.38" cy="435.46" r="2.55"/><circle cx="189.83" cy="435.48" r="2.55"/><circle cx="190.28" cy="434.56" r="2.55"/><circle cx="190.73" cy="434.54" r="2.55"/><circle cx="191.18" cy="434.53" r="2.55"/><circle cx="191.63" cy="435.47" r="2.55"/><circle cx="192.08" cy="435.42" r="2.55"/><circle cx="192.53" cy="435.44" r="2.55"/><circle cx="192.98" cy="434.53" r="2.55"/><circle cx="193.43" cy="435.47" r="2.55"/><circle cx="193.88" cy="435.43" r="2.55"/><circle cx="194.33" cy="435.47" r="2.55"/><circle cx="194.78" cy="434.52" r="2.55"/><circle cx="195.23" cy="435.48" r="2.55"/><circle cx="195.68" cy="434.56" r="2.55"/><circle cx="196.13" cy="435.47" r="2.55"/><circle cx="196.58" cy="435.44" r="2.55"/><circle cx="197.03" cy="434.52" r="2.55"/><circle cx="197.48" cy="434.56" r="2.55"/><circle cx="197.93" cy="435.46" r="2.55"/><circle cx="198.38" cy="435.44" r="2.55"/><circle cx="198.83" cy="435.43" r="2.55"/><circle cx="199.28" cy="434.58" r="2.55"/><circle cx="199.73" cy="435.46" r="2.55"/><circle cx="200.18" cy="435.42" r="2.55"/><circle cx="200.63" cy="435.43" r="2.55"/><circle cx="201.08" cy="435.48" r="2.55"/><circle cx="201.53" cy="434.57" r="2.55"/><circle cx="201.98" cy="435.42" r="2.55"/><circle cx="202.43" cy="434.55" r="2.55"/><circle cx="202.88" cy="434.54" r="2.55"/><circle cx="203.33" cy="435.46" r="2.55"/><circle cx="203.78" cy="434.53" r="2.55"/><circle cx="204.23" cy="435.43" r="2.55"/><circle cx="204.68" cy="435.47" r="2.55"/><circle cx="205.13" cy="434.56" r="2.55"/><circle cx="205.58" cy="434.56" r="2.55"/><circle cx="206.03" cy="435.45" r="2.55"/><circle cx="206.48" cy="435.45" r="2.55"/><circle cx="206.93" cy="434.57" r="2.55"/><circle cx="207.38" cy="435.47" r="2.55"/><circle cx="207.83" cy="434.53" r="2.55"/><circle cx="208.28" cy="435.47" r="2.55"/><circle cx="208.73" cy="434.55" r="2.55"/><circle cx="209.18" cy="434.57" r="2.55"/><circle cx="209.63" cy="434.54" r="2.55"/><circle cx="210.08" cy="434.52" r="2.55"/><circle cx="210.53" cy="435.47" r="2.55"/><circle cx="210.98" cy="434.55" r="2.55"/><circle cx="211.43" cy="434.57" r="2.55"/><circle cx="211.88" cy="434.55" r="2.55"/><circle cx="212.33" cy="434.56" r="2.55"/><circle cx="212.78" cy="435.43" r="2.55"/><circle cx="213.23" cy="434.54" r="2.55"/><circle cx="213.68" cy="434.54" r="2.55"/><circle cx="214.13" cy="435.42" r="2.55"/><circle cx="214.58" cy="434.52" r="2.55"/><circle cx="215.03" cy="434.57" r="2.55"/><circle cx="215.48" cy="435.48" r="2.55"/><circle cx="215.93" cy="434.55" r="2.55"/><circle cx="216.38" cy="435.54" r="2.55"/><circle cx="216.83" cy="434.56" r="2.55"/><circle cx="217.28" cy="434.56" r="2.55"/><circle cx="217.73" cy="435.47" r="2.55"/><circle cx="218.18" cy="435.45" r="2.55"/><circle cx="218.63" cy="435.43" r="2.55"/><circle cx="219.08" cy="434.55" r="2.55"/><circle cx="219.53" cy="434.53" r="2.55"/><circle cx="219.98" cy="435.46" r="2.55"/><circle cx="220.43" cy="434.52" r="2.55"/><circle cx="220.88" cy="435.46" r="2.55"/><circle cx="221.33" cy="435.43" r="2.55"/><circle cx="221.78" cy="434.54" r="2.55"/><circle cx="222.23" cy="434.54" r="2.55"/><circle cx="222.68" cy="434.56" r="2.55"/><circle cx="223.13" cy="434.53" r="2.55"/><circle cx="223.58" cy="435.42" r="2.55"/><circle cx="224.03" cy="434.57" r="2.55"/><circle cx="224.48" cy="434.57" r="2.55"/><circle cx="224.93" cy="435.46" r="2.55"/><circle cx="225.38" cy="434.57" r="2.55"/><circle cx="225.83" cy="434.53" r="2.55"/><circle cx="226.28" cy="435.57" r="2.55"/><circle cx="226.73" cy="434.56" r="2.55"/><circle cx="227.18" cy="435.45" r="2.55"/><circle cx="227.63" cy="435.48" r="2.55"/><circle cx="228.08" cy="434.55" r="2.55"/><circle cx="228.53" cy="436.48" r="2.55"/><circle cx="228.98" cy="434.54" r="2.55"/><circle cx="229.43" cy="434.57" r="2.55"/><circle cx="229.88" cy="435.44" r="2.55"/><circle cx="230.33" cy="435.48" r="2.55"/><circle cx="230.78" cy="434.57" r="2.55"/><circle cx="231.23" cy="435.47" r="2.55"/><circle cx="231.68" cy="434.55" r="2.55"/><circle cx="232.13" cy="434.53" r="2.55"/><circle cx="232.58" cy="436.44" r="2.55"/><circle cx="233.03" cy="435.44" r="2.55"/><circle cx="233.48" cy="434.57" r="2.55"/><circle cx="233.93" cy="435.44" r="2.55"/><circle cx="234.38" cy="435.43" r="2.55"/><circle cx="234.83" cy="435.44" r="2.55"/><circle cx="235.28" cy="434.57" r="2.55"/><circle cx="235.73" cy="435.47" r="2.55"/><circle cx="236.18" cy="434.55" r="2.55"/><circle cx="236.63" cy="435.45" r="2.55"/><circle cx="237.08" cy="434.54" r="2.55"/><circle cx="237.53" cy="435.43" r="2.55"/><circle cx="237.98" cy="434.54" r="2.55"/><circle cx="238.43" cy="434.55" r="2.55"/><circle cx="238.88" cy="434.56" r="2.55"/><circle cx="239.33" cy="434.52" r="2.55"/><circle cx="239.78" cy="434.54" r="2.55"/><circle cx="240.23" cy="435.48" r="2.55"/><circle cx="240.68" cy="436.47" r="2.55"/><circle cx="241.13" cy="434.53" r="2.55"/><circle cx="241.58" cy="435.46" r="2.55"/><circle cx="242.03" cy="435.46" r="2.55"/><circle cx="242.48" cy="434.56" r="2.55"/><circle cx="242.93" cy="434.54" r="2.55"/><circle cx="243.38" cy="434.53" r="2.55"/><circle cx="243.83" cy="435.47" r="2.55"/><circle cx="244.28" cy="434.53" r="2.55"/><circle cx="244.73" cy="435.44" r="2.55"/><circle cx="245.18" cy="436.43" r="2.55"/><circle cx="245.63" cy="435.48" r="2.55"/><circle cx="246.08" cy="434.55" r="2.55"/><circle cx="246.53" cy="435.42" r="2.55"/><circle cx="246.98" cy="435.47" r="2.55"/><circle cx="247.43" cy="435.44" r="2.55"/><circle cx="247.88" cy="435.46" r="2.55"/><circle cx="248.33" cy="434.55" r="2.55"/><circle cx="248.78" cy="435.48" r="2.55"/><circle cx="249.23" cy="435.42" r="2.55"/><circle cx="249.68" cy="434.54" r="2.55"/><circle cx="250.13" cy="434.54" r="2.55"/><circle cx="250.58" cy="435.45" r="2.55"/><circle cx="251.03" cy="435.47" r="2.55"/><circle cx="251.48" cy="435.44" r="2.55"/><circle cx="251.93" cy="434.57" r="2.55"/><circle cx="252.38" cy="434.52" r="2.55"/><circle cx="252.83" cy="435.47" r="2.55"/><circle cx="253.28" cy="434.53" r="2.55"/><circle cx="253.73" cy="434.55" r="2.55"/><circle cx="254.18" cy="435.46" r="2.55"/><circle cx="254.63" cy="435.45" r="2.55"/><circle cx="255.08" cy="435.47" r="2.55"/><circle cx="255.53" cy="434.53" r="2.55"/><circle cx="255.98" cy="435.47" r="2.55"/><circle cx="256.43" cy="435.47" r="2.55"/><circle cx="256.88" cy="434.57" r="2.55"/><circle cx="257.33" cy="434.55" r="2.55"/><circle cx="257.78" cy="435.43" r="2.55"/><circle cx="258.23" cy="435.43" r="2.55"/><circle cx="258.68" cy="434.56" r="2.55"/><circle cx="259.13" cy="434.57" r="2.55"/><circle cx="259.58" cy="435.42" r="2.55"/><circle cx="260.03" cy="435.53" r="2.55"/><circle cx="260.48" cy="435.48" r="2.55"/><circle cx="260.93" cy="434.55" r="2.55"/><circle cx="261.38" cy="434.48" r="2.55"/><circle cx="261.83" cy="434.57" r="2.55"/><circle cx="262.28" cy="434.57" r="2.55"/><circle cx="262.73" cy="434.53" r="2.55"/><circle cx="263.18" cy="434.54" r="2.55"/><circle cx="263.63" cy="435.44" r="2.55"/><circle cx="264.08" cy="435.45" r="2.55"/><circle cx="264.53" cy="434.58" r="2.55"/><circle cx="264.98" cy="434.55" r="2.55"/><circle cx="265.43" cy="434.53" r="2.55"/><circle cx="265.88" cy="434.52" r="2.55"/><circle cx="266.33" cy="435.43" r="2.55"/><circle cx="266.78" cy="433.57" r="2.55"/><circle cx="267.23" cy="434.52" r="2.55"/><circle cx="267.68" cy="435.47" r="2.55"/><circle cx="268.13" cy="435.45" r="2.55"/><circle cx="268.58" cy="435.45" r="2.55"/><circle cx="269.03" cy="435.48" r="2.55"/><circle cx="269.48" cy="434.56" r="2.55"/><circle cx="269.93" cy="435.42" r="2.55"/><circle cx="270.38" cy="435.43" r="2.55"/><circle cx="270.83" cy="435.47" r="2.55"/><circle cx="271.28" cy="434.42" r="2.55"/><circle cx="271.73" cy="433.55" r="2.55"/><circle cx="272.18" cy="434.53" r="2.55"/><circle cx="272.63" cy="435.48" r="2.55"/><circle cx="273.08" cy="435.45" r="2.55"/><circle cx="273.53" cy="434.54" r="2.55"/><circle cx="273.98" cy="435.44" r="2.55"/><circle cx="274.43" cy="434.56" r="2.55"/><circle cx="274.88" cy="435.47" r="2.55"/><circle cx="275.33" cy="434.55" r="2.55"/><circle cx="275.78" cy="434.45" r="2.55"/><circle cx="276.23" cy="434.56" r="2.55"/><circle cx="276.68" cy="434.52" r="2.55"/><circle cx="277.13" cy="435.46" r="2.55"/><circle cx="277.58" cy="434.55" r="2.55"/><circle cx="278.03" cy="434.56" r="2.55"/><circle cx="278.48" cy="434.52" r="2.55"/><circle cx="278.93" cy="434.58" r="2.55"/><circle cx="279.38" cy="435.43" r="2.55"/><circle cx="279.83" cy="435.45" r="2.55"/><circle cx="280.28" cy="435.45" r="2.55"/><circle cx="280.73" cy="435.44" r="2.55"/><circle cx="281.18" cy="435.44" r="2.55"/><circle cx="281.63" cy="435.43" r="2.55"/><circle cx="282.08" cy="434.56" r="2.55"/><circle cx="282.53" cy="435.43" r="2.55"/><circle cx="282.98" cy="435.43" r="2.55"/><circle cx="283.43" cy="435.47" r="2.55"/><circle cx="283.88" cy="435.45" r="2.55"/><circle cx="284.33" cy="434.55" r="2.55"/><circle cx="284.78" cy="435.45" r="2.55"/><circle cx="285.23" cy="435.44" r="2.55"/><circle cx="285.68" cy="435.45" r="2.55"/><circle cx="286.13" cy="435.45" r="2.55"/><circle cx="286.58" cy="434.58" r="2.55"/><circle cx="287.03" cy="434.54" r="2.55"/><circle cx="287.48" cy="435.47" r="2.55"/><circle cx="287.93" cy="434.57" r="2.55"/><circle cx="288.38" cy="434.56" r="2.55"/><circle cx="288.83" cy="435.43" r="2.55"/><circle cx="289.28" cy="434.54" r="2.55"/><circle cx="289.73" cy="435.44" r="2.55"/><circle cx="290.18" cy="433.52" r="2.55"/><circle cx="290.63" cy="434.58" r="2.55"/><circle cx="291.08" cy="435.43" r="2.55"/><circle cx="291.53" cy="434.55" r="2.55"/><circle cx="291.98" cy="435.46" r="2.55"/><circle cx="292.43" cy="435.48" r="2.55"/><circle cx="292.88" cy="435.44" r="2.55"/><circle cx="293.33" cy="434.53" r="2.55"/><circle cx="293.78" cy="434.56" r="2.55"/><circle cx="294.23" cy="435.45" r="2.55"/><circle cx="294.68" cy="435.48" r="2.55"/><circle cx="295.13" cy="434.57" r="2.55"/><circle cx="295.58" cy="434.54" r="2.55"/><circle cx="296.03" cy="434.54" r="2.55"/><circle cx="296.48" cy="433.53" r="2.55"/><circle cx="296.93" cy="435.44" r="2.55"/><circle cx="297.38" cy="435.44" r="2.55"/><circle cx="297.83" cy="435.45" r="2.55"/><circle cx="298.28" cy="434.53" r="2.55"/><circle cx="298.73" cy="434.55" r="2.55"/><circle cx="299.18" cy="434.53" r="2.55"/><circle cx="299.63" cy="435.44" r="2.55"/><circle cx="300.08" cy="434.57" r="2.55"/><circle cx="300.53" cy="435.45" r="2.55"/><circle cx="300.98" cy="435.46" r="2.55"/><circle cx="301.43" cy="433.53" r="2.55"/><circle cx="301.88" cy="435.46" r="2.55"/><circle cx="302.33" cy="434.46" r="2.55"/><circle cx="302.78" cy="435.43" r="2.55"/><circle cx="303.23" cy="435.44" r="2.55"/><circle cx="303.68" cy="435.46" r="2.55"/><circle cx="304.13" cy="434.52" r="2.55"/><circle cx="304.58" cy="435.48" r="2.55"/><circle cx="305.03" cy="435.45" r="2.55"/><circle cx="305.48" cy="435.44" r="2.55"/><circle cx="305.93" cy="435.46" r="2.55"/><circle cx="306.38" cy="434.53" r="2.55"/><circle cx="306.83" cy="434.55" r="2.55"/><circle cx="307.28" cy="434.47" r="2.55"/><circle cx="307.73" cy="434.55" r="2.55"/><circle cx="308.18" cy="434.53" r="2.55"/><circle cx="308.63" cy="434.56" r="2.55"/><circle cx="309.08" cy="434.54" r="2.55"/><circle cx="309.53" cy="434.56" r="2.55"/><circle cx="309.98" cy="434.56" r="2.55"/><circle cx="310.43" cy="435.45" r="2.55"/><circle cx="310.88" cy="434.54" r="2.55"/><circle cx="311.33" cy="435.47" r="2.55"/><circle cx="311.78" cy="434.45" r="2.55"/><circle cx="312.23" cy="434.42" r="2.55"/><circle cx="312.68" cy="434.53" r="2.55"/><circle cx="313.13" cy="435.47" r="2.55"/><circle cx="313.58" cy="434.45" r="2.55"/><circle cx="314.03" cy="435.47" r="2.55"/><circle cx="314.48" cy="434.52" r="2.55"/><circle cx="314.93" cy="434.58" r="2.55"/><circle cx="315.38" cy="434.53" r="2.55"/><circle cx="315.83" cy="434.53" r="2.55"/><circle cx="316.28" cy="434.55" r="2.55"/><circle cx="316.73" cy="435.44" r="2.55"/><circle cx="317.18" cy="434.57" r="2.55"/><circle cx="317.63" cy="434.53" r="2.55"/><circle cx="318.08" cy="433.54" r="2.55"/><circle cx="318.53" cy="435.45" r="2.55"/><circle cx="318.98" cy="435.47" r="2.55"/><circle cx="319.43" cy="435.47" r="2.55"/><circle cx="319.88" cy="435.46" r="2.55"/><circle cx="320.33" cy="435.46" r="2.55"/><circle cx="320.78" cy="434.53" r="2.55"/><circle cx="321.23" cy="434.54" r="2.55"/><circle cx="321.68" cy="435.44" r="2.55"/><circle cx="322.13" cy="435.43" r="2.55"/><circle cx="322.58" cy="435.48" r="2.55"/><circle cx="323.03" cy="435.48" r="2.55"/><circle cx="323.48" cy="435.46" r="2.55"/><circle cx="323.93" cy="434.43" r="2.55"/><circle cx="324.38" cy="434.56" r="2.55"/><circle cx="324.83" cy="435.44" r="2.55"/><circle cx="325.28" cy="435.46" r="2.55"/><circle cx="325.73" cy="434.54" r="2.55"/><circle cx="326.18" cy="434.53" r="2.55"/><circle cx="326.63" cy="434.57" r="2.55"/><circle cx="327.08" cy="434.56" r="2.55"/><circle cx="327.53" cy="434.52" r="2.55"/><circle cx="327.98" cy="434.54" r="2.55"/><circle cx="328.43" cy="434.54" r="2.55"/><circle cx="328.88" cy="434.58" r="2.55"/><circle cx="329.33" cy="434.52" r="2.55"/><circle cx="329.78" cy="435.43" r="2.55"/><circle cx="330.23" cy="435.44" r="2.55"/><circle cx="330.68" cy="434.58" r="2.55"/><circle cx="331.13" cy="435.47" r="2.55"/><circle cx="331.58" cy="434.58" r="2.55"/><circle cx="332.03" cy="434.53" r="2.55"/><circle cx="332.48" cy="435.43" r="2.55"/><circle cx="332.93" cy="433.54" r="2.55"/><circle cx="333.38" cy="435.43" r="2.55"/><circle cx="333.83" cy="435.42" r="2.55"/><circle cx="334.28" cy="434.56" r="2.55"/><circle cx="334.73" cy="435.44" r="2.55"/><circle cx="335.18" cy="434.45" r="2.55"/><circle cx="335.63" cy="435.44" r="2.55"/><circle cx="336.08" cy="435.48" r="2.55"/><circle cx="336.53" cy="434.55" r="2.55"/><circle cx="336.98" cy="435.47" r="2.55"/><circle cx="337.43" cy="434.53" r="2.55"/><circle cx="337.88" cy="434.42" r="2.55"/><circle cx="338.33" cy="433.52" r="2.55"/><circle cx="338.78" cy="435.44" r="2.55"/><circle cx="339.23" cy="434.55" r="2.55"/><circle cx="339.68" cy="435.45" r="2.55"/><circle cx="340.13" cy="435.47" r="2.55"/><circle cx="340.58" cy="434.53" r="2.55"/><circle cx="341.03" cy="434.47" r="2.55"/><circle cx="341.48" cy="435.47" r="2.55"/><circle cx="341.93" cy="435.48" r="2.55"/><circle cx="342.38" cy="435.44" r="2.55"/><circle cx="342.83" cy="435.43" r="2.55"/><circle cx="343.28" cy="435.44" r="2.55"/><circle cx="343.73" cy="435.42" r="2.55"/><circle cx="344.18" cy="435.44" r="2.55"/><circle cx="344.63" cy="435.47" r="2.55"/><circle cx="345.08" cy="433.54" r="2.55"/><circle cx="345.53" cy="434.56" r="2.55"/><circle cx="345.98" cy="435.47" r="2.55"/><circle cx="346.43" cy="434.57" r="2.55"/><circle cx="346.88" cy="435.43" r="2.55"/><circle cx="347.33" cy="435.43" r="2.55"/><circle cx="347.78" cy="433.53" r="2.55"/><circle cx="348.23" cy="434.45" r="2.55"/><circle cx="348.68" cy="434.58" r="2.55"/><circle cx="349.13" cy="435.43" r="2.55"/><circle cx="349.58" cy="434.56" r="2.55"/><circle cx="350.03" cy="434.58" r="2.55"/><circle cx="350.48" cy="434.57" r="2.55"/><circle cx="350.93" cy="435.47" r="2.55"/><circle cx="351.38" cy="434.57" r="2.55"/><circle cx="351.83" cy="435.43" r="2.55"/><circle cx="352.28" cy="435.47" r="2.55"/><circle cx="352.73" cy="435.47" r="2.55"/><circle cx="353.18" cy="434.54" r="2.55"/><circle cx="353.63" cy="435.45" r="2.55"/><circle cx="354.08" cy="434.55" r="2.55"/><circle cx="354.53" cy="434.58" r="2.55"/><circle cx="354.98" cy="434.58" r="2.55"/><circle cx="355.43" cy="434.56" r="2.55"/><circle cx="355.88" cy="435.44" r="2.55"/><circle cx="356.33" cy="434.57" r="2.55"/><circle cx="356.78" cy="435.45" r="2.55"/><circle cx="357.23" cy="433.53" r="2.55"/><circle cx="357.68" cy="435.43" r="2.55"/><circle cx="358.13" cy="435.46" r="2.55"/><circle cx="358.58" cy="435.47" r="2.55"/><circle cx="359.03" cy="434.53" r="2.55"/><circle cx="359.48" cy="435.43" r="2.55"/><circle cx="359.93" cy="434.46" r="2.55"/><circle cx="360.38" cy="434.56" r="2.55"/><circle cx="360.83" cy="434.56" r="2.55"/><circle cx="361.28" cy="435.48" r="2.55"/><circle cx="361.73" cy="434.54" r="2.55"/><circle cx="362.18" cy="434.56" r="2.55"/><circle cx="362.63" cy="435.47" r="2.55"/><circle cx="363.08" cy="435.43" r="2.55"/><circle cx="363.53" cy="434.56" r="2.55"/><circle cx="363.98" cy="434.57" r="2.55"/><circle cx="364.43" cy="433.53" r="2.55"/><circle cx="364.88" cy="434.44" r="2.55"/><circle cx="365.33" cy="433.56" r="2.55"/><circle cx="365.78" cy="433.56" r="2.55"/><circle cx="366.23" cy="433.58" r="2.55"/><circle cx="366.68" cy="434.45" r="2.55"/><circle cx="367.13" cy="434.44" r="2.55"/><circle cx="367.58" cy="434.46" r="2.55"/><circle cx="368.03" cy="434.48" r="2.55"/><circle cx="368.48" cy="434.46" r="2.55"/><circle cx="368.93" cy="434.44" r="2.55"/><circle cx="369.38" cy="434.45" r="2.55"/><circle cx="369.83" cy="433.58" r="2.55"/><circle cx="370.28" cy="433.55" r="2.55"/><circle cx="370.73" cy="433.54" r="2.55"/><circle cx="371.18" cy="434.45" r="2.55"/><circle cx="371.63" cy="433.57" r="2.55"/><circle cx="372.08" cy="434.45" r="2.55"/><circle cx="372.53" cy="433.54" r="2.55"/><circle cx="372.98" cy="433.53" r="2.55"/><circle cx="373.43" cy="434.45" r="2.55"/><circle cx="373.88" cy="433.52" r="2.55"/><circle cx="374.33" cy="433.58" r="2.55"/><circle cx="374.78" cy="433.57" r="2.55"/><circle cx="375.23" cy="433.58" r="2.55"/><circle cx="375.68" cy="434.47" r="2.55"/><circle cx="376.13" cy="434.46" r="2.55"/><circle cx="376.58" cy="434.45" r="2.55"/><circle cx="377.03" cy="434.42" r="2.55"/><circle cx="377.48" cy="434.42" r="2.55"/><circle cx="377.93" cy="433.53" r="2.55"/><circle cx="378.38" cy="434.48" r="2.55"/><circle cx="378.83" cy="433.55" r="2.55"/><circle cx="379.28" cy="434.47" r="2.55"/><circle cx="379.73" cy="434.44" r="2.55"/><circle cx="380.18" cy="434.42" r="2.55"/><circle cx="380.63" cy="433.53" r="2.55"/><circle cx="381.08" cy="433.58" r="2.55"/><circle cx="381.53" cy="433.58" r="2.55"/><circle cx="381.98" cy="434.44" r="2.55"/><circle cx="382.43" cy="434.42" r="2.55"/><circle cx="382.88" cy="433.53" r="2.55"/><circle cx="383.33" cy="433.55" r="2.55"/><circle cx="383.78" cy="434.44" r="2.55"/><circle cx="384.23" cy="434.47" r="2.55"/><circle cx="384.68" cy="433.53" r="2.55"/><circle cx="385.13" cy="434.46" r="2.55"/><circle cx="385.58" cy="433.54" r="2.55"/><circle cx="386.03" cy="433.57" r="2.55"/><circle cx="386.48" cy="433.54" r="2.55"/><circle cx="386.93" cy="434.44" r="2.55"/><circle cx="387.38" cy="433.55" r="2.55"/><circle cx="387.83" cy="434.43" r="2.55"/><circle cx="388.28" cy="433.53" r="2.55"/><circle cx="388.73" cy="433.55" r="2.55"/><circle cx="389.18" cy="434.45" r="2.55"/><circle cx="389.63" cy="434.45" r="2.55"/><circle cx="390.08" cy="433.56" r="2.55"/><circle cx="390.53" cy="434.44" r="2.55"/><circle cx="390.98" cy="434.44" r="2.55"/><circle cx="391.43" cy="434.47" r="2.55"/><circle cx="391.88" cy="433.57" r="2.55"/><circle cx="392.33" cy="433.54" r="2.55"/><circle cx="392.78" cy="434.48" r="2.55"/><circle cx="393.23" cy="434.48" r="2.55"/><circle cx="393.68" cy="433.53" r="2.55"/><circle cx="394.13" cy="433.53" r="2.55"/><circle cx="394.58" cy="433.57" r="2.55"/><circle cx="395.03" cy="433.55" r="2.55"/><circle cx="395.48" cy="434.45" r="2.55"/><circle cx="395.93" cy="434.48" r="2.55"/><circle cx="396.38" cy="434.43" r="2.55"/><circle cx="396.83" cy="433.58" r="2.55"/><circle cx="397.28" cy="434.47" r="2.55"/><circle cx="397.73" cy="433.52" r="2.55"/><circle cx="398.18" cy="434.47" r="2.55"/><circle cx="398.63" cy="433.56" r="2.55"/><circle cx="399.08" cy="433.57" r="2.55"/><circle cx="399.53" cy="434.44" r="2.55"/><circle cx="399.98" cy="434.47" r="2.55"/><circle cx="400.43" cy="433.57" r="2.55"/><circle cx="400.88" cy="433.54" r="2.55"/><circle cx="401.33" cy="433.57" r="2.55"/><circle cx="401.78" cy="434.46" r="2.55"/><circle cx="402.23" cy="433.54" r="2.55"/><circle cx="402.68" cy="433.54" r="2.55"/><circle cx="403.13" cy="433.54" r="2.55"/><circle cx="403.58" cy="434.47" r="2.55"/><circle cx="404.03" cy="434.43" r="2.55"/><circle cx="404.48" cy="433.57" r="2.55"/><circle cx="404.93" cy="433.56" r="2.55"/><circle cx="405.38" cy="434.43" r="2.55"/><circle cx="405.83" cy="434.45" r="2.55"/><circle cx="406.28" cy="433.55" r="2.55"/><circle cx="406.73" cy="434.48" r="2.55"/><circle cx="407.18" cy="433.57" r="2.55"/><circle cx="407.63" cy="433.53" r="2.55"/><circle cx="408.08" cy="433.56" r="2.55"/><circle cx="408.53" cy="434.47" r="2.55"/><circle cx="408.98" cy="434.48" r="2.55"/><circle cx="409.43" cy="433.56" r="2.55"/><circle cx="409.88" cy="433.56" r="2.55"/><circle cx="410.33" cy="434.44" r="2.55"/><circle cx="410.78" cy="434.46" r="2.55"/><circle cx="411.23" cy="434.44" r="2.55"/><circle cx="411.68" cy="434.44" r="2.55"/><circle cx="412.13" cy="434.42" r="2.55"/><circle cx="412.58" cy="434.45" r="2.55"/><circle cx="413.03" cy="433.54" r="2.55"/><circle cx="413.48" cy="433.53" r="2.55"/><circle cx="413.93" cy="434.48" r="2.55"/><circle cx="414.38" cy="434.48" r="2.55"/><circle cx="414.83" cy="434.42" r="2.55"/><circle cx="415.28" cy="434.47" r="2.55"/><circle cx="415.73" cy="433.57" r="2.55"/><circle cx="416.18" cy="433.56" r="2.55"/><circle cx="416.63" cy="433.55" r="2.55"/><circle cx="417.08" cy="433.54" r="2.55"/><circle cx="417.53" cy="433.57" r="2.55"/><circle cx="417.98" cy="433.55" r="2.55"/><circle cx="418.43" cy="434.46" r="2.55"/><circle cx="418.88" cy="433.53" r="2.55"/><circle cx="419.33" cy="433.56" r="2.55"/><circle cx="419.78" cy="433.55" r="2.55"/><circle cx="420.23" cy="434.44" r="2.55"/><circle cx="420.68" cy="434.46" r="2.55"/><circle cx="421.13" cy="434.42" r="2.55"/><circle cx="421.58" cy="434.46" r="2.55"/><circle cx="422.03" cy="433.54" r="2.55"/><circle cx="422.48" cy="433.58" r="2.55"/><circle cx="422.93" cy="434.46" r="2.55"/><circle cx="423.38" cy="433.54" r="2.55"/><circle cx="423.83" cy="434.43" r="2.55"/><circle cx="424.28" cy="433.53" r="2.55"/><circle cx="424.73" cy="434.48" r="2.55"/><circle cx="425.18" cy="434.48" r="2.55"/><circle cx="425.63" cy="434.42" r="2.55"/><circle cx="426.08" cy="433.52" r="2.55"/><circle cx="426.53" cy="433.52" r="2.55"/><circle cx="426.98" cy="434.45" r="2.55"/><circle cx="427.43" cy="434.43" r="2.55"/><circle cx="427.88" cy="433.53" r="2.55"/><circle cx="428.33" cy="434.44" r="2.55"/><circle cx="428.78" cy="434.43" r="2.55"/><circle cx="429.23" cy="433.56" r="2.55"/><circle cx="429.68" cy="433.55" r="2.55"/><circle cx="430.13" cy="433.56" r="2.55"/><circle cx="430.58" cy="434.45" r="2.55"/><circle cx="431.03" cy="433.56" r="2.55"/><circle cx="431.48" cy="433.57" r="2.55"/><circle cx="431.93" cy="433.55" r="2.55"/><circle cx="432.38" cy="433.57" r="2.55"/><circle cx="432.83" cy="433.55" r="2.55"/><circle cx="433.28" cy="434.47" r="2.55"/><circle cx="433.73" cy="434.44" r="2.55"/><circle cx="434.18" cy="433.56" r="2.55"/><circle cx="434.63" cy="434.43" r="2.55"/><circle cx="435.08" cy="434.46" r="2.55"/><circle cx="435.53" cy="433.58" r="2.55"/><circle cx="435.98" cy="433.53" r="2.55"/><circle cx="436.43" cy="434.42" r="2.55"/><circle cx="436.88" cy="434.43" r="2.55"/><circle cx="437.33" cy="434.48" r="2.55"/><circle cx="437.78" cy="434.47" r="2.55"/><circle cx="438.23" cy="434.45" r="2.55"/><circle cx="438.68" cy="434.48" r="2.55"/><circle cx="439.13" cy="434.43" r="2.55"/><circle cx="439.58" cy="433.55" r="2.55"/><circle cx="440.03" cy="433.53" r="2.55"/><circle cx="440.48" cy="434.48" r="2.55"/><circle cx="440.93" cy="433.57" r="2.55"/><circle cx="441.38" cy="433.55" r="2.55"/><circle cx="441.83" cy="434.44" r="2.55"/><circle cx="442.28" cy="433.56" r="2.55"/><circle cx="442.73" cy="433.55" r="2.55"/><circle cx="443.18" cy="434.47" r="2.55"/><circle cx="443.63" cy="433.56" r="2.55"/><circle cx="444.08" cy="433.52" r="2.55"/><circle cx="444.53" cy="433.54" r="2.55"/><circle cx="444.98" cy="433.56" r="2.55"/><circle cx="445.43" cy="434.46" r="2.55"/><circle cx="445.88" cy="433.58" r="2.55"/><circle cx="446.33" cy="434.46" r="2.55"/><circle cx="446.78" cy="433.56" r="2.55"/><circle cx="447.23" cy="434.47" r="2.55"/><circle cx="447.68" cy="434.48" r="2.55"/><circle cx="448.13" cy="433.57" r="2.55"/><circle cx="448.58" cy="434.47" r="2.55"/><circle cx="449.03" cy="434.43" r="2.55"/><circle cx="449.48" cy="433.54" r="2.55"/><circle cx="449.93" cy="433.53" r="2.55"/><circle cx="450.38" cy="433.53" r="2.55"/><circle cx="450.83" cy="434.46" r="2.55"/><circle cx="451.28" cy="434.46" r="2.55"/><circle cx="451.73" cy="434.44" r="2.55"/><circle cx="452.18" cy="434.43" r="2.55"/><circle cx="452.63" cy="433.53" r="2.55"/><circle cx="453.08" cy="434.47" r="2.55"/><circle cx="453.53" cy="433.54" r="2.55"/><circle cx="453.98" cy="434.45" r="2.55"/><circle cx="454.43" cy="433.54" r="2.55"/><circle cx="454.88" cy="434.43" r="2.55"/><circle cx="455.33" cy="433.56" r="2.55"/><circle cx="455.78" cy="434.43" r="2.55"/><circle cx="456.23" cy="434.43" r="2.55"/><circle cx="456.68" cy="434.45" r="2.55"/><circle cx="457.13" cy="434.47" r="2.55"/><circle cx="457.58" cy="434.43" r="2.55"/><circle cx="458.03" cy="434.45" r="2.55"/><circle cx="458.48" cy="434.43" r="2.55"/><circle cx="458.93" cy="434.47" r="2.55"/><circle cx="459.38" cy="433.55" r="2.55"/><circle cx="459.83" cy="433.56" r="2.55"/><circle cx="460.28" cy="433.56" r="2.55"/><circle cx="460.73" cy="434.45" r="2.55"/><circle cx="461.18" cy="433.58" r="2.55"/><circle cx="461.63" cy="433.57" r="2.55"/><circle cx="462.08" cy="435.46" r="2.55"/><circle cx="462.53" cy="434.48" r="2.55"/><circle cx="462.98" cy="434.46" r="2.55"/><circle cx="463.43" cy="433.53" r="2.55"/><circle cx="463.88" cy="433.57" r="2.55"/><circle cx="464.33" cy="434.48" r="2.55"/><circle cx="464.78" cy="433.55" r="2.55"/><circle cx="465.23" cy="433.57" r="2.55"/><circle cx="465.68" cy="434.43" r="2.55"/><circle cx="466.13" cy="434.45" r="2.55"/><circle cx="466.58" cy="433.56" r="2.55"/><circle cx="467.03" cy="433.58" r="2.55"/><circle cx="467.48" cy="433.52" r="2.55"/><circle cx="467.93" cy="434.43" r="2.55"/><circle cx="468.38" cy="434.45" r="2.55"/><circle cx="468.83" cy="434.47" r="2.55"/><circle cx="469.28" cy="433.55" r="2.55"/><circle cx="469.73" cy="433.52" r="2.55"/><circle cx="470.18" cy="434.44" r="2.55"/><circle cx="470.63" cy="433.55" r="2.55"/><circle cx="471.08" cy="433.55" r="2.55"/><circle cx="471.53" cy="434.43" r="2.55"/><circle cx="471.98" cy="434.43" r="2.55"/><circle cx="472.43" cy="434.45" r="2.55"/><circle cx="472.88" cy="433.55" r="2.55"/><circle cx="473.33" cy="434.46" r="2.55"/><circle cx="473.78" cy="434.43" r="2.55"/><circle cx="474.23" cy="434.44" r="2.55"/><circle cx="474.68" cy="434.43" r="2.55"/><circle cx="475.13" cy="433.57" r="2.55"/><circle cx="475.58" cy="434.47" r="2.55"/><circle cx="476.03" cy="434.43" r="2.55"/><circle cx="476.48" cy="434.44" r="2.55"/><circle cx="476.93" cy="434.47" r="2.55"/><circle cx="477.38" cy="434.48" r="2.55"/><circle cx="477.83" cy="433.56" r="2.55"/><circle cx="478.28" cy="433.56" r="2.55"/><circle cx="478.73" cy="434.47" r="2.55"/><circle cx="479.18" cy="433.54" r="2.55"/><circle cx="479.63" cy="434.43" r="2.55"/><circle cx="480.08" cy="433.56" r="2.55"/><circle cx="480.53" cy="434.47" r="2.55"/><circle cx="480.98" cy="433.55" r="2.55"/><circle cx="481.43" cy="433.53" r="2.55"/><circle cx="481.88" cy="434.42" r="2.55"/><circle cx="482.33" cy="433.52" r="2.55"/><circle cx="482.78" cy="434.45" r="2.55"/><circle cx="483.23" cy="434.44" r="2.55"/><circle cx="483.68" cy="434.46" r="2.55"/><circle cx="484.13" cy="433.54" r="2.55"/><circle cx="484.58" cy="434.46" r="2.55"/><circle cx="485.03" cy="433.55" r="2.55"/><circle cx="485.48" cy="434.43" r="2.55"/><circle cx="485.93" cy="434.47" r="2.55"/><circle cx="486.38" cy="434.42" r="2.55"/><circle cx="486.83" cy="433.53" r="2.55"/><circle cx="487.28" cy="434.43" r="2.55"/><circle cx="487.73" cy="434.46" r="2.55"/><circle cx="488.18" cy="434.47" r="2.55"/><circle cx="488.63" cy="433.53" r="2.55"/><circle cx="489.08" cy="433.58" r="2.55"/><circle cx="489.53" cy="434.45" r="2.55"/><circle cx="489.98" cy="434.45" r="2.55"/><circle cx="490.43" cy="433.52" r="2.55"/><circle cx="490.88" cy="434.45" r="2.55"/><circle cx="491.33" cy="434.46" r="2.55"/><circle cx="491.78" cy="433.57" r="2.55"/><circle cx="492.23" cy="433.53" r="2.55"/><circle cx="492.68" cy="434.47" r="2.55"/><circle cx="493.13" cy="433.53" r="2.55"/><circle cx="493.58" cy="433.54" r="2.55"/><circle cx="494.03" cy="433.53" r="2.55"/><circle cx="494.48" cy="434.46" r="2.55"/><circle cx="494.93" cy="434.46" r="2.55"/><circle cx="495.38" cy="433.55" r="2.55"/><circle cx="495.83" cy="433.57" r="2.55"/><circle cx="496.28" cy="433.56" r="2.55"/><circle cx="496.73" cy="434.43" r="2.55"/><circle cx="497.18" cy="434.43" r="2.55"/><circle cx="497.63" cy="434.42" r="2.55"/><circle cx="498.08" cy="434.45" r="2.55"/><circle cx="498.53" cy="433.55" r="2.55"/><circle cx="498.98" cy="434.44" r="2.55"/><circle cx="499.43" cy="433.53" r="2.55"/><circle cx="499.88" cy="434.48" r="2.55"/><circle cx="500.33" cy="433.55" r="2.55"/><circle cx="500.78" cy="433.57" r="2.55"/><circle cx="501.23" cy="433.52" r="2.55"/><circle cx="501.68" cy="433.54" r="2.55"/><circle cx="502.13" cy="434.43" r="2.55"/><circle cx="502.58" cy="434.42" r="2.55"/><circle cx="503.03" cy="433.52" r="2.55"/><circle cx="503.48" cy="433.58" r="2.55"/><circle cx="503.93" cy="434.44" r="2.55"/><circle cx="504.38" cy="434.43" r="2.55"/><circle cx="504.83" cy="433.56" r="2.55"/><circle cx="505.28" cy="434.44" r="2.55"/><circle cx="505.73" cy="434.48" r="2.55"/><circle cx="506.18" cy="434.47" r="2.55"/><circle cx="506.63" cy="433.57" r="2.55"/><circle cx="507.08" cy="433.57" r="2.55"/><circle cx="507.53" cy="433.54" r="2.55"/><circle cx="507.98" cy="434.44" r="2.55"/><circle cx="508.43" cy="434.47" r="2.55"/><circle cx="508.88" cy="434.45" r="2.55"/><circle cx="509.33" cy="433.56" r="2.55"/><circle cx="509.78" cy="434.42" r="2.55"/><circle cx="510.23" cy="434.46" r="2.55"/><circle cx="510.68" cy="434.47" r="2.55"/><circle cx="511.13" cy="434.43" r="2.55"/><circle cx="511.58" cy="433.55" r="2.55"/><circle cx="512.03" cy="434.44" r="2.55"/><circle cx="512.48" cy="434.43" r="2.55"/><circle cx="512.93" cy="433.55" r="2.55"/><circle cx="513.38" cy="434.47" r="2.55"/><circle cx="513.83" cy="433.55" r="2.55"/><circle cx="514.28" cy="433.56" r="2.55"/><circle cx="514.73" cy="434.46" r="2.55"/><circle cx="515.18" cy="433.53" r="2.55"/><circle cx="515.63" cy="433.55" r="2.55"/><circle cx="516.08" cy="434.46" r="2.55"/><circle cx="516.53" cy="434.45" r="2.55"/><circle cx="516.98" cy="433.52" r="2.55"/><circle cx="517.43" cy="434.47" r="2.55"/><circle cx="517.88" cy="433.54" r="2.55"/><circle cx="518.33" cy="433.55" r="2.55"/><circle cx="518.78" cy="433.53" r="2.55"/><circle cx="519.23" cy="434.48" r="2.55"/><circle cx="519.68" cy="433.58" r="2.55"/><circle cx="520.13" cy="433.57" r="2.55"/><circle cx="520.58" cy="433.56" r="2.55"/><circle cx="521.03" cy="433.55" r="2.55"/><circle cx="521.48" cy="434.44" r="2.55"/><circle cx="521.93" cy="434.47" r="2.55"/><circle cx="522.38" cy="433.56" r="2.55"/><circle cx="522.83" cy="434.43" r="2.55"/><circle cx="523.28" cy="433.56" r="2.55"/><circle cx="523.73" cy="433.56" r="2.55"/><circle cx="524.18" cy="434.48" r="2.55"/><circle cx="524.63" cy="434.46" r="2.55"/><circle cx="525.08" cy="434.43" r="2.55"/><circle cx="525.53" cy="434.44" r="2.55"/><circle cx="525.98" cy="434.46" r="2.55"/><circle cx="526.43" cy="433.55" r="2.55"/><circle cx="526.88" cy="434.43" r="2.55"/><circle cx="527.33" cy="434.44" r="2.55"/><circle cx="527.78" cy="433.55" r="2.55"/><circle cx="528.23" cy="433.54" r="2.55"/><circle cx="528.68" cy="433.58" r="2.55"/><circle cx="529.13" cy="434.47" r="2.55"/><circle cx="529.58" cy="434.42" r="2.55"/><circle cx="530.03" cy="433.54" r="2.55"/><circle cx="530.48" cy="434.42" r="2.55"/><circle cx="530.93" cy="434.46" r="2.55"/><circle cx="531.38" cy="434.43" r="2.55"/><circle cx="531.83" cy="434.42" r="2.55"/><circle cx="532.28" cy="433.57" r="2.55"/><circle cx="532.73" cy="433.58" r="2.55"/><circle cx="533.18" cy="433.56" r="2.55"/><circle cx="533.63" cy="433.52" r="2.55"/><circle cx="534.08" cy="434.47" r="2.55"/><circle cx="534.53" cy="434.45" r="2.55"/><circle cx="534.98" cy="433.55" r="2.55"/><circle cx="535.43" cy="433.56" r="2.55"/><circle cx="535.88" cy="434.47" r="2.55"/><circle cx="536.33" cy="433.53" r="2.55"/><circle cx="536.78" cy="434.43" r="2.55"/><circle cx="537.23" cy="434.46" r="2.55"/><circle cx="537.68" cy="433.53" r="2.55"/><circle cx="538.13" cy="433.55" r="2.55"/><circle cx="538.58" cy="433.54" r="2.55"/><circle cx="539.03" cy="433.55" r="2.55"/><circle cx="539.48" cy="433.54" r="2.55"/><circle cx="539.93" cy="434.48" r="2.55"/><circle cx="540.38" cy="433.57" r="2.55"/><circle cx="540.83" cy="434.45" r="2.55"/><circle cx="541.28" cy="434.47" r="2.55"/><circle cx="541.73" cy="433.57" r="2.55"/><circle cx="542.18" cy="433.56" r="2.55"/><circle cx="542.63" cy="433.53" r="2.55"/><circle cx="543.08" cy="434.43" r="2.55"/><circle cx="543.53" cy="434.47" r="2.55"/><circle cx="543.98" cy="434.48" r="2.55"/><circle cx="544.43" cy="434.46" r="2.55"/><circle cx="544.88" cy="433.54" r="2.55"/><circle cx="545.33" cy="434.47" r="2.55"/><circle cx="545.78" cy="434.47" r="2.55"/><circle cx="546.23" cy="434.43" r="2.55"/><circle cx="546.68" cy="434.46" r="2.55"/><circle cx="547.13" cy="433.54" r="2.55"/><circle cx="547.58" cy="433.55" r="2.55"/><circle cx="548.03" cy="433.54" r="2.55"/><circle cx="548.48" cy="434.45" r="2.55"/><circle cx="548.93" cy="434.43" r="2.55"/><circle cx="549.38" cy="433.57" r="2.55"/><circle cx="549.83" cy="434.44" r="2.55"/><circle cx="550.28" cy="434.43" r="2.55"/><circle cx="550.73" cy="433.52" r="2.55"/><circle cx="551.18" cy="433.53" r="2.55"/><circle cx="551.63" cy="434.46" r="2.55"/><circle cx="552.08" cy="434.44" r="2.55"/><circle cx="552.53" cy="433.55" r="2.55"/><circle cx="552.98" cy="433.53" r="2.55"/><circle cx="553.43" cy="434.43" r="2.55"/><circle cx="553.88" cy="434.44" r="2.55"/><circle cx="554.33" cy="434.48" r="2.55"/><circle cx="554.78" cy="433.55" r="2.55"/><circle cx="555.23" cy="433.58" r="2.55"/><circle cx="555.68" cy="433.55" r="2.55"/><circle cx="556.13" cy="434.44" r="2.55"/><circle cx="556.58" cy="433.55" r="2.55"/><circle cx="557.03" cy="434.43" r="2.55"/><circle cx="557.48" cy="434.42" r="2.55"/><circle cx="557.93" cy="433.55" r="2.55"/><circle cx="558.38" cy="433.57" r="2.55"/><circle cx="558.83" cy="434.48" r="2.55"/><circle cx="559.28" cy="433.52" r="2.55"/><circle cx="559.73" cy="434.42" r="2.55"/><circle cx="560.18" cy="433.55" r="2.55"/><circle cx="560.63" cy="433.53" r="2.55"/><circle cx="561.08" cy="433.57" r="2.55"/><circle cx="561.53" cy="434.48" r="2.55"/><circle cx="561.98" cy="434.47" r="2.55"/><circle cx="562.43" cy="434.45" r="2.55"/><circle cx="562.88" cy="433.56" r="2.55"/><circle cx="563.33" cy="434.48" r="2.55"/><circle cx="563.78" cy="434.44" r="2.55"/><circle cx="564.23" cy="434.45" r="2.55"/><circle cx="564.68" cy="434.44" r="2.55"/><circle cx="565.13" cy="433.54" r="2.55"/><circle cx="565.58" cy="433.55" r="2.55"/><circle cx="566.03" cy="433.55" r="2.55"/><circle cx="566.48" cy="434.44" r="2.55"/><circle cx="566.93" cy="433.55" r="2.55"/><circle cx="567.38" cy="433.52" r="2.55"/><circle cx="567.83" cy="433.58" r="2.55"/><circle cx="568.28" cy="434.45" r="2.55"/><circle cx="568.73" cy="434.47" r="2.55"/><circle cx="569.18" cy="434.46" r="2.55"/><circle cx="569.63" cy="433.57" r="2.55"/><circle cx="570.08" cy="434.47" r="2.55"/><circle cx="570.53" cy="434.43" r="2.55"/><circle cx="570.98" cy="433.56" r="2.55"/><circle cx="571.43" cy="434.43" r="2.55"/><circle cx="571.88" cy="433.57" r="2.55"/><circle cx="572.33" cy="434.48" r="2.55"/><circle cx="572.78" cy="433.58" r="2.55"/><circle cx="573.23" cy="433.53" r="2.55"/><circle cx="573.68" cy="434.46" r="2.55"/><circle cx="574.13" cy="433.53" r="2.55"/><circle cx="574.58" cy="434.46" r="2.55"/><circle cx="575.03" cy="434.42" r="2.55"/><circle cx="575.48" cy="434.43" r="2.55"/><circle cx="575.93" cy="433.56" r="2.55"/><circle cx="576.38" cy="434.43" r="2.55"/><circle cx="576.83" cy="433.58" r="2.55"/><circle cx="577.28" cy="434.46" r="2.55"/><circle cx="577.73" cy="433.58" r="2.55"/><circle cx="578.18" cy="434.43" r="2.55"/><circle cx="578.63" cy="434.48" r="2.55"/><circle cx="579.08" cy="434.48" r="2.55"/><circle cx="579.53" cy="434.48" r="2.55"/><circle cx="579.98" cy="433.52" r="2.55"/><circle cx="580.43" cy="433.54" r="2.55"/><circle cx="580.88" cy="434.43" r="2.55"/><circle cx="581.33" cy="434.46" r="2.55"/><circle cx="581.78" cy="434.47" r="2.55"/><circle cx="582.23" cy="434.42" r="2.55"/><circle cx="582.68" cy="433.53" r="2.55"/><circle cx="583.13" cy="434.44" r="2.55"/><circle cx="583.58" cy="434.45" r="2.55"/><circle cx="584.03" cy="433.58" r="2.55"/><circle cx="584.48" cy="434.43" r="2.55"/><circle cx="584.93" cy="434.42" r="2.55"/><circle cx="585.38" cy="434.45" r="2.55"/><circle cx="585.83" cy="433.55" r="2.55"/><circle cx="586.28" cy="434.46" r="2.55"/><circle cx="586.73" cy="434.48" r="2.55"/><circle cx="587.18" cy="433.52" r="2.55"/><circle cx="587.63" cy="433.56" r="2.55"/><circle cx="588.08" cy="434.46" r="2.55"/><circle cx="588.53" cy="434.47" r="2.55"/><circle cx="588.98" cy="433.58" r="2.55"/><circle cx="589.43" cy="433.54" r="2.55"/><circle cx="589.88" cy="433.54" r="2.55"/><circle cx="590.33" cy="433.58" r="2.55"/><circle cx="590.78" cy="433.53" r="2.55"/><circle cx="591.23" cy="433.52" r="2.55"/><circle cx="591.68" cy="433.54" r="2.55"/><circle cx="592.13" cy="434.42" r="2.55"/><circle cx="592.58" cy="434.46" r="2.55"/><circle cx="593.03" cy="433.54" r="2.55"/><circle cx="593.48" cy="434.45" r="2.55"/><circle cx="593.93" cy="433.56" r="2.55"/><circle cx="594.38" cy="433.52" r="2.55"/><circle cx="594.83" cy="434.42" r="2.55"/><circle cx="595.28" cy="433.53" r="2.55"/><circle cx="595.73" cy="434.46" r="2.55"/><circle cx="596.18" cy="434.43" r="2.55"/><circle cx="596.63" cy="434.42" r="2.55"/><circle cx="597.08" cy="433.56" r="2.55"/><circle cx="597.53" cy="433.54" r="2.55"/><circle cx="597.98" cy="434.47" r="2.55"/><circle cx="598.43" cy="433.57" r="2.55"/><circle cx="598.88" cy="433.54" r="2.55"/><circle cx="599.33" cy="433.56" r="2.55"/><circle cx="599.78" cy="434.42" r="2.55"/><circle cx="600.23" cy="434.46" r="2.55"/><circle cx="600.68" cy="433.55" r="2.55"/><circle cx="601.13" cy="434.43" r="2.55"/><circle cx="601.58" cy="434.47" r="2.55"/><circle cx="602.03" cy="434.47" r="2.55"/><circle cx="602.48" cy="433.58" r="2.55"/><circle cx="602.93" cy="433.55" r="2.55"/><circle cx="603.38" cy="433.53" r="2.55"/><circle cx="603.83" cy="434.48" r="2.55"/><circle cx="604.28" cy="434.46" r="2.55"/><circle cx="604.73" cy="433.56" r="2.55"/><circle cx="605.18" cy="433.55" r="2.55"/><circle cx="605.63" cy="433.54" r="2.55"/><circle cx="606.08" cy="434.43" r="2.55"/><circle cx="606.53" cy="434.45" r="2.55"/><circle cx="606.98" cy="434.48" r="2.55"/><circle cx="607.43" cy="434.43" r="2.55"/><circle cx="607.88" cy="434.48" r="2.55"/><circle cx="608.33" cy="433.53" r="2.55"/><circle cx="608.78" cy="433.53" r="2.55"/><circle cx="609.23" cy="433.54" r="2.55"/><circle cx="609.68" cy="434.43" r="2.55"/><circle cx="610.13" cy="434.45" r="2.55"/><circle cx="610.58" cy="433.56" r="2.55"/><circle cx="611.03" cy="433.57" r="2.55"/><circle cx="611.48" cy="433.56" r="2.55"/><circle cx="611.93" cy="434.43" r="2.55"/><circle cx="612.38" cy="433.56" r="2.55"/><circle cx="612.83" cy="433.53" r="2.55"/><circle cx="613.28" cy="434.44" r="2.55"/><circle cx="613.73" cy="434.46" r="2.55"/><circle cx="614.18" cy="433.54" r="2.55"/><circle cx="614.63" cy="433.56" r="2.55"/><circle cx="615.08" cy="434.47" r="2.55"/><circle cx="615.53" cy="433.56" r="2.55"/><circle cx="615.98" cy="433.54" r="2.55"/><circle cx="616.43" cy="433.57" r="2.55"/><circle cx="616.88" cy="433.56" r="2.55"/><circle cx="617.33" cy="434.46" r="2.55"/><circle cx="617.78" cy="434.48" r="2.55"/><circle cx="618.23" cy="433.54" r="2.55"/><circle cx="618.68" cy="433.57" r="2.55"/><circle cx="619.13" cy="434.43" r="2.55"/><circle cx="619.58" cy="434.46" r="2.55"/><circle cx="620.03" cy="433.58" r="2.55"/><circle cx="620.48" cy="433.55" r="2.55"/><circle cx="620.93" cy="434.46" r="2.55"/><circle cx="621.38" cy="433.53" r="2.55"/><circle cx="621.83" cy="433.57" r="2.55"/><circle cx="622.28" cy="433.58" r="2.55"/><circle cx="622.73" cy="434.43" r="2.55"/><circle cx="623.18" cy="433.57" r="2.55"/><circle cx="623.63" cy="434.44" r="2.55"/><circle cx="624.08" cy="433.53" r="2.55"/><circle cx="624.53" cy="434.45" r="2.55"/><circle cx="624.98" cy="434.45" r="2.55"/><circle cx="625.43" cy="434.48" r="2.55"/><circle cx="625.88" cy="433.58" r="2.55"/><circle cx="626.33" cy="433.55" r="2.55"/><circle cx="626.78" cy="433.53" r="2.55"/><circle cx="627.23" cy="434.43" r="2.55"/><circle cx="627.68" cy="434.43" r="2.55"/><circle cx="628.13" cy="434.47" r="2.55"/><circle cx="628.58" cy="434.42" r="2.55"/><circle cx="629.03" cy="434.43" r="2.55"/><circle cx="629.48" cy="434.46" r="2.55"/><circle cx="629.93" cy="434.47" r="2.55"/><circle cx="630.38" cy="433.52" r="2.55"/><circle cx="630.83" cy="434.46" r="2.55"/><circle cx="631.28" cy="434.47" r="2.55"/><circle cx="631.73" cy="433.56" r="2.55"/><circle cx="632.18" cy="433.55" r="2.55"/><circle cx="632.63" cy="434.46" r="2.55"/><circle cx="633.08" cy="433.56" r="2.55"/><circle cx="633.53" cy="434.45" r="2.55"/><circle cx="633.98" cy="434.56" r="2.55"/><circle cx="634.43" cy="433.55" r="2.55"/><circle cx="634.88" cy="433.56" r="2.55"/><circle cx="635.33" cy="433.53" r="2.55"/><circle cx="635.78" cy="434.45" r="2.55"/><circle cx="636.23" cy="434.45" r="2.55"/><circle cx="636.68" cy="434.43" r="2.55"/><circle cx="637.13" cy="433.54" r="2.55"/><circle cx="637.58" cy="433.58" r="2.55"/><circle cx="638.03" cy="433.56" r="2.55"/><circle cx="638.48" cy="433.56" r="2.55"/><circle cx="638.93" cy="434.45" r="2.55"/><circle cx="639.38" cy="433.55" r="2.55"/><circle cx="639.83" cy="433.54" r="2.55"/><circle cx="640.28" cy="433.55" r="2.55"/><circle cx="640.73" cy="434.46" r="2.55"/><circle cx="641.18" cy="434.45" r="2.55"/><circle cx="641.63" cy="433.53" r="2.55"/><circle cx="642.08" cy="433.57" r="2.55"/><circle cx="642.53" cy="433.54" r="2.55"/><circle cx="642.98" cy="433.56" r="2.55"/><circle cx="643.43" cy="433.53" r="2.55"/><circle cx="643.88" cy="433.57" r="2.55"/><circle cx="644.33" cy="434.46" r="2.55"/><circle cx="644.78" cy="433.53" r="2.55"/><circle cx="645.23" cy="433.56" r="2.55"/><circle cx="645.68" cy="433.54" r="2.55"/><circle cx="646.13" cy="433.55" r="2.55"/><circle cx="646.58" cy="433.58" r="2.55"/><circle cx="647.03" cy="434.44" r="2.55"/><circle cx="647.48" cy="434.47" r="2.55"/><circle cx="647.93" cy="433.52" r="2.55"/><circle cx="648.38" cy="433.58" r="2.55"/><circle cx="648.83" cy="434.44" r="2.55"/><circle cx="649.28" cy="434.42" r="2.55"/><circle cx="649.73" cy="433.52" r="2.55"/><circle cx="650.18" cy="434.48" r="2.55"/><circle cx="650.63" cy="435.47" r="2.55"/><circle cx="651.08" cy="433.53" r="2.55"/><circle cx="651.53" cy="433.54" r="2.55"/><circle cx="651.98" cy="434.43" r="2.55"/><circle cx="652.43" cy="434.43" r="2.55"/><circle cx="652.88" cy="434.47" r="2.55"/><circle cx="653.33" cy="433.57" r="2.55"/><circle cx="653.78" cy="434.43" r="2.55"/><circle cx="654.23" cy="434.46" r="2.55"/><circle cx="654.68" cy="434.44" r="2.55"/><circle cx="655.13" cy="433.57" r="2.55"/><circle cx="655.58" cy="435.46" r="2.55"/><circle cx="656.03" cy="433.57" r="2.55"/><circle cx="656.48" cy="434.43" r="2.55"/><circle cx="656.93" cy="434.47" r="2.55"/><circle cx="657.38" cy="434.48" r="2.55"/><circle cx="657.83" cy="433.54" r="2.55"/><circle cx="658.28" cy="434.42" r="2.55"/><circle cx="658.73" cy="434.42" r="2.55"/><circle cx="659.18" cy="434.47" r="2.55"/><circle cx="659.63" cy="433.52" r="2.55"/><circle cx="660.08" cy="434.53" r="2.55"/><circle cx="660.53" cy="434.46" r="2.55"/><circle cx="660.98" cy="433.57" r="2.55"/><circle cx="661.43" cy="434.55" r="2.55"/><circle cx="661.88" cy="434.45" r="2.55"/><circle cx="662.33" cy="434.48" r="2.55"/><circle cx="662.78" cy="434.47" r="2.55"/><circle cx="663.23" cy="433.53" r="2.55"/><circle cx="663.68" cy="433.53" r="2.55"/><circle cx="664.13" cy="433.52" r="2.55"/><circle cx="664.58" cy="434.47" r="2.55"/><circle cx="665.03" cy="433.53" r="2.55"/><circle cx="665.48" cy="433.55" r="2.55"/><circle cx="665.93" cy="434.43" r="2.55"/><circle cx="666.38" cy="434.46" r="2.55"/><circle cx="666.83" cy="433.58" r="2.55"/><circle cx="667.28" cy="434.45" r="2.55"/><circle cx="667.73" cy="433.58" r="2.55"/><circle cx="668.18" cy="434.45" r="2.55"/><circle cx="668.63" cy="434.44" r="2.55"/><circle cx="669.08" cy="434.47" r="2.55"/><circle cx="669.53" cy="433.52" r="2.55"/><circle cx="669.98" cy="433.54" r="2.55"/><circle cx="670.43" cy="433.57" r="2.55"/><circle cx="670.88" cy="433.55" r="2.55"/><circle cx="671.33" cy="433.56" r="2.55"/><circle cx="671.78" cy="433.56" r="2.55"/><circle cx="672.23" cy="433.57" r="2.55"/><circle cx="672.68" cy="433.54" r="2.55"/><circle cx="673.13" cy="434.47" r="2.55"/><circle cx="673.58" cy="434.44" r="2.55"/><circle cx="674.03" cy="434.47" r="2.55"/><circle cx="674.48" cy="433.53" r="2.55"/><circle cx="674.93" cy="434.44" r="2.55"/><circle cx="675.38" cy="434.48" r="2.55"/><circle cx="675.83" cy="434.48" r="2.55"/><circle cx="676.28" cy="434.46" r="2.55"/><circle cx="676.73" cy="434.47" r="2.55"/><circle cx="677.18" cy="433.55" r="2.55"/><circle cx="677.63" cy="434.46" r="2.55"/><circle cx="678.08" cy="433.56" r="2.55"/><circle cx="678.53" cy="434.46" r="2.55"/><circle cx="678.98" cy="433.55" r="2.55"/><circle cx="679.43" cy="434.43" r="2.55"/><circle cx="679.88" cy="433.55" r="2.55"/><circle cx="680.33" cy="434.45" r="2.55"/><circle cx="680.78" cy="434.46" r="2.55"/><circle cx="681.23" cy="433.55" r="2.55"/><circle cx="681.68" cy="433.55" r="2.55"/><circle cx="682.13" cy="434.43" r="2.55"/><circle cx="682.58" cy="434.45" r="2.55"/><circle cx="683.03" cy="434.44" r="2.55"/><circle cx="683.48" cy="433.54" r="2.55"/><circle cx="683.93" cy="433.56" r="2.55"/><circle cx="684.38" cy="434.45" r="2.55"/><circle cx="684.83" cy="433.53" r="2.55"/><circle cx="685.28" cy="434.47" r="2.55"/><circle cx="685.73" cy="434.44" r="2.55"/><circle cx="686.18" cy="433.56" r="2.55"/><circle cx="686.63" cy="434.46" r="2.55"/><circle cx="687.08" cy="434.46" r="2.55"/><circle cx="687.53" cy="433.53" r="2.55"/><circle cx="687.98" cy="433.56" r="2.55"/><circle cx="688.43" cy="433.53" r="2.55"/><circle cx="688.88" cy="435.48" r="2.55"/><circle cx="689.33" cy="434.55" r="2.55"/><circle cx="689.78" cy="435.57" r="2.55"/><circle cx="690.23" cy="434.54" r="2.55"/><circle cx="690.68" cy="435.48" r="2.55"/><circle cx="691.13" cy="434.53" r="2.55"/><circle cx="691.58" cy="434.53" r="2.55"/><circle cx="692.03" cy="435.47" r="2.55"/><circle cx="692.48" cy="435.42" r="2.55"/><circle cx="692.93" cy="435.46" r="2.55"/><circle cx="693.38" cy="434.53" r="2.55"/><circle cx="693.83" cy="434.57" r="2.55"/><circle cx="694.28" cy="434.57" r="2.55"/><circle cx="694.73" cy="434.56" r="2.55"/><circle cx="695.18" cy="434.55" r="2.55"/><circle cx="695.63" cy="434.43" r="2.55"/><circle cx="696.08" cy="434.43" r="2.55"/><circle cx="696.53" cy="433.56" r="2.55"/><circle cx="696.98" cy="434.43" r="2.55"/><circle cx="697.43" cy="434.47" r="2.55"/><circle cx="697.88" cy="434.46" r="2.55"/><circle cx="698.33" cy="435.45" r="2.55"/><circle cx="698.78" cy="434.44" r="2.55"/><circle cx="699.23" cy="434.45" r="2.55"/><circle cx="699.68" cy="433.58" r="2.55"/><circle cx="700.13" cy="434.42" r="2.55"/><circle cx="700.58" cy="434.47" r="2.55"/><circle cx="701.03" cy="434.48" r="2.55"/><circle cx="701.48" cy="433.55" r="2.55"/><circle cx="701.93" cy="434.48" r="2.55"/><circle cx="702.38" cy="433.57" r="2.55"/><circle cx="702.83" cy="434.48" r="2.55"/><circle cx="703.28" cy="434.45" r="2.55"/><circle cx="703.73" cy="434.53" r="2.55"/><circle cx="704.18" cy="435.44" r="2.55"/><circle cx="704.63" cy="435.43" r="2.55"/><circle cx="705.08" cy="434.54" r="2.55"/><circle cx="705.53" cy="434.54" r="2.55"/><circle cx="705.98" cy="434.55" r="2.55"/><circle cx="706.43" cy="435.42" r="2.55"/><circle cx="706.88" cy="434.53" r="2.55"/><circle cx="707.33" cy="435.44" r="2.55"/><circle cx="707.78" cy="434.53" r="2.55"/><circle cx="708.23" cy="435.47" r="2.55"/><circle cx="708.68" cy="434.57" r="2.55"/><circle cx="709.13" cy="435.45" r="2.55"/><circle cx="709.58" cy="434.58" r="2.55"/><circle cx="710.03" cy="434.54" r="2.55"/><circle cx="710.48" cy="435.47" r="2.55"/><circle cx="710.93" cy="434.56" r="2.55"/><circle cx="711.38" cy="435.45" r="2.55"/><circle cx="711.83" cy="435.44" r="2.55"/><circle cx="712.28" cy="434.44" r="2.55"/><circle cx="712.73" cy="433.54" r="2.55"/><circle cx="713.18" cy="434.45" r="2.55"/><circle cx="713.63" cy="433.55" r="2.55"/><circle cx="714.08" cy="433.54" r="2.55"/><circle cx="714.53" cy="434.47" r="2.55"/><circle cx="714.98" cy="433.53" r="2.55"/><circle cx="715.43" cy="434.46" r="2.55"/><circle cx="715.88" cy="433.56" r="2.55"/><circle cx="716.33" cy="433.56" r="2.55"/><circle cx="716.78" cy="434.44" r="2.55"/><circle cx="717.23" cy="434.46" r="2.55"/><circle cx="717.68" cy="434.48" r="2.55"/><circle cx="718.13" cy="434.46" r="2.55"/><circle cx="718.58" cy="433.55" r="2.55"/><circle cx="719.03" cy="434.48" r="2.55"/><circle cx="719.48" cy="434.47" r="2.55"/><circle cx="719.93" cy="433.58" r="2.55"/><circle cx="720.38" cy="433.56" r="2.55"/><circle cx="720.83" cy="433.53" r="2.55"/><circle cx="721.28" cy="434.47" r="2.55"/><circle cx="721.73" cy="433.53" r="2.55"/><circle cx="722.18" cy="434.43" r="2.55"/><circle cx="722.63" cy="434.42" r="2.55"/><circle cx="723.08" cy="434.42" r="2.55"/><circle cx="723.53" cy="434.46" r="2.55"/><circle cx="723.98" cy="434.57" r="2.55"/><circle cx="724.43" cy="435.54" r="2.55"/><circle cx="724.88" cy="435.47" r="2.55"/><circle cx="725.33" cy="434.56" r="2.55"/><circle cx="725.78" cy="435.44" r="2.55"/><circle cx="726.23" cy="434.54" r="2.55"/><circle cx="726.68" cy="435.47" r="2.55"/><circle cx="727.13" cy="434.54" r="2.55"/><circle cx="727.58" cy="434.58" r="2.55"/><circle cx="728.03" cy="435.45" r="2.55"/><circle cx="728.48" cy="435.43" r="2.55"/><circle cx="728.93" cy="435.44" r="2.55"/><circle cx="729.38" cy="435.44" r="2.55"/><circle cx="729.83" cy="434.53" r="2.55"/><circle cx="730.28" cy="434.56" r="2.55"/><circle cx="730.73" cy="435.45" r="2.55"/><circle cx="731.18" cy="435.45" r="2.55"/><circle cx="731.63" cy="435.44" r="2.55"/><circle cx="732.08" cy="435.43" r="2.55"/><circle cx="732.53" cy="435.44" r="2.55"/><circle cx="732.98" cy="434.53" r="2.55"/><circle cx="733.43" cy="435.46" r="2.55"/><circle cx="733.88" cy="435.45" r="2.55"/><circle cx="734.33" cy="434.57" r="2.55"/><circle cx="734.78" cy="435.42" r="2.55"/><circle cx="735.23" cy="433.58" r="2.55"/><circle cx="735.68" cy="433.57" r="2.55"/><circle cx="736.13" cy="433.57" r="2.55"/><circle cx="736.58" cy="433.52" r="2.55"/><circle cx="737.03" cy="434.42" r="2.55"/><circle cx="737.48" cy="433.54" r="2.55"/><circle cx="737.93" cy="433.53" r="2.55"/><circle cx="738.38" cy="433.55" r="2.55"/><circle cx="738.83" cy="434.47" r="2.55"/><circle cx="739.28" cy="433.53" r="2.55"/><circle cx="739.73" cy="435.42" r="2.55"/><circle cx="740.18" cy="434.45" r="2.55"/><circle cx="740.63" cy="434.44" r="2.55"/><circle cx="741.08" cy="434.45" r="2.55"/><circle cx="741.53" cy="434.44" r="2.55"/><circle cx="741.98" cy="433.57" r="2.55"/><circle cx="742.43" cy="433.56" r="2.55"/><circle cx="742.88" cy="434.52" r="2.55"/><circle cx="743.33" cy="434.44" r="2.55"/><circle cx="743.78" cy="433.56" r="2.55"/><circle cx="744.23" cy="433.57" r="2.55"/><circle cx="744.68" cy="433.54" r="2.55"/><circle cx="745.13" cy="433.54" r="2.55"/><circle cx="745.58" cy="433.54" r="2.55"/><circle cx="746.03" cy="434.43" r="2.55"/><circle cx="746.48" cy="433.54" r="2.55"/><circle cx="746.93" cy="433.57" r="2.55"/><circle cx="747.38" cy="435.43" r="2.55"/><circle cx="747.83" cy="434.53" r="2.55"/><circle cx="748.28" cy="434.54" r="2.55"/><circle cx="748.73" cy="435.44" r="2.55"/><circle cx="749.18" cy="435.48" r="2.55"/><circle cx="749.63" cy="434.58" r="2.55"/><circle cx="750.08" cy="435.42" r="2.55"/><circle cx="750.53" cy="434.57" r="2.55"/><circle cx="750.98" cy="435.56" r="2.55"/><circle cx="751.43" cy="434.44" r="2.55"/><circle cx="751.88" cy="433.55" r="2.55"/><circle cx="752.33" cy="433.53" r="2.55"/><circle cx="752.78" cy="434.45" r="2.55"/><circle cx="753.23" cy="433.56" r="2.55"/><circle cx="753.68" cy="433.55" r="2.55"/><circle cx="754.13" cy="434.43" r="2.55"/><circle cx="754.58" cy="433.55" r="2.55"/><circle cx="755.03" cy="434.58" r="2.55"/><circle cx="755.48" cy="435.42" r="2.55"/><circle cx="755.93" cy="435.48" r="2.55"/><circle cx="756.38" cy="434.54" r="2.55"/><circle cx="756.83" cy="435.47" r="2.55"/><circle cx="757.28" cy="435.42" r="2.55"/><circle cx="757.73" cy="435.45" r="2.55"/><circle cx="758.18" cy="434.56" r="2.55"/><circle cx="758.63" cy="434.56" r="2.55"/><circle cx="759.08" cy="435.43" r="2.55"/><circle cx="759.53" cy="434.57" r="2.55"/><circle cx="759.98" cy="434.57" r="2.55"/><circle cx="760.43" cy="434.54" r="2.55"/><circle cx="760.88" cy="435.48" r="2.55"/><circle cx="761.33" cy="434.58" r="2.55"/><circle cx="761.78" cy="434.52" r="2.55"/><circle cx="762.23" cy="435.48" r="2.55"/><circle cx="762.68" cy="434.55" r="2.55"/><circle cx="763.13" cy="435.44" r="2.55"/><circle cx="763.58" cy="434.54" r="2.55"/><circle cx="764.03" cy="434.54" r="2.55"/><circle cx="764.48" cy="435.45" r="2.55"/><circle cx="764.93" cy="435.45" r="2.55"/><circle cx="765.38" cy="435.48" r="2.55"/><circle cx="765.83" cy="434.43" r="2.55"/><circle cx="766.28" cy="434.57" r="2.55"/><circle cx="766.73" cy="435.43" r="2.55"/><circle cx="767.18" cy="435.45" r="2.55"/><circle cx="767.63" cy="435.46" r="2.55"/><circle cx="768.08" cy="434.56" r="2.55"/><circle cx="768.53" cy="434.43" r="2.55"/><circle cx="768.98" cy="434.52" r="2.55"/><circle cx="769.43" cy="435.45" r="2.55"/><circle cx="769.88" cy="434.45" r="2.55"/><circle cx="770.33" cy="434.54" r="2.55"/><circle cx="770.78" cy="435.43" r="2.55"/><circle cx="771.23" cy="434.43" r="2.55"/><circle cx="771.68" cy="435.45" r="2.55"/><circle cx="772.13" cy="434.53" r="2.55"/><circle cx="772.58" cy="435.45" r="2.55"/><circle cx="773.03" cy="434.53" r="2.55"/><circle cx="773.48" cy="435.48" r="2.55"/><circle cx="773.93" cy="434.56" r="2.55"/><circle cx="774.38" cy="435.44" r="2.55"/><circle cx="774.83" cy="433.57" r="2.55"/><circle cx="775.28" cy="434.52" r="2.55"/><circle cx="775.73" cy="435.43" r="2.55"/><circle cx="776.18" cy="434.55" r="2.55"/><circle cx="776.63" cy="434.56" r="2.55"/><circle cx="777.08" cy="434.56" r="2.55"/><circle cx="777.53" cy="435.47" r="2.55"/><circle cx="777.98" cy="435.48" r="2.55"/><circle cx="778.43" cy="434.58" r="2.55"/><circle cx="778.88" cy="434.55" r="2.55"/><circle cx="779.33" cy="434.54" r="2.55"/><circle cx="779.78" cy="434.58" r="2.55"/><circle cx="780.23" cy="434.57" r="2.55"/><circle cx="780.68" cy="433.56" r="2.55"/><circle cx="781.13" cy="435.44" r="2.55"/><circle cx="781.58" cy="435.43" r="2.55"/><circle cx="782.03" cy="434.43" r="2.55"/><circle cx="782.48" cy="435.44" r="2.55"/><circle cx="782.93" cy="434.53" r="2.55"/><circle cx="783.38" cy="434.52" r="2.55"/><circle cx="783.83" cy="434.55" r="2.55"/><circle cx="784.28" cy="434.56" r="2.55"/><circle cx="784.73" cy="434.54" r="2.55"/><circle cx="785.18" cy="434.42" r="2.55"/><circle cx="785.63" cy="434.57" r="2.55"/><circle cx="786.08" cy="435.45" r="2.55"/><circle cx="786.53" cy="435.45" r="2.55"/><circle cx="786.98" cy="435.43" r="2.55"/><circle cx="787.43" cy="434.56" r="2.55"/><circle cx="787.88" cy="435.46" r="2.55"/><circle cx="788.33" cy="435.44" r="2.55"/><circle cx="788.78" cy="435.43" r="2.55"/><circle cx="789.23" cy="434.56" r="2.55"/><circle cx="789.68" cy="435.47" r="2.55"/><circle cx="790.13" cy="435.43" r="2.55"/><circle cx="790.58" cy="435.45" r="2.55"/><circle cx="791.03" cy="435.45" r="2.55"/><circle cx="791.48" cy="434.53" r="2.55"/><circle cx="791.93" cy="435.43" r="2.55"/><circle cx="792.38" cy="434.53" r="2.55"/><circle cx="792.83" cy="435.45" r="2.55"/><circle cx="793.28" cy="434.58" r="2.55"/><circle cx="793.73" cy="435.43" r="2.55"/><circle cx="794.18" cy="434.56" r="2.55"/><circle cx="794.63" cy="434.54" r="2.55"/><circle cx="795.08" cy="434.55" r="2.55"/><circle cx="795.53" cy="435.43" r="2.55"/><circle cx="795.98" cy="434.57" r="2.55"/><circle cx="796.43" cy="435.45" r="2.55"/><circle cx="796.88" cy="435.42" r="2.55"/><circle cx="797.33" cy="435.42" r="2.55"/><circle cx="797.78" cy="434.56" r="2.55"/><circle cx="798.23" cy="434.55" r="2.55"/><circle cx="798.68" cy="434.57" r="2.55"/><circle cx="799.13" cy="434.43" r="2.55"/><circle cx="799.58" cy="435.48" r="2.55"/><circle cx="800.03" cy="434.53" r="2.55"/><circle cx="800.48" cy="434.56" r="2.55"/><circle cx="800.93" cy="434.58" r="2.55"/><circle cx="801.38" cy="435.44" r="2.55"/><circle cx="801.83" cy="434.53" r="2.55"/><circle cx="802.28" cy="435.45" r="2.55"/><circle cx="802.73" cy="434.56" r="2.55"/><circle cx="803.18" cy="435.43" r="2.55"/><circle cx="803.63" cy="435.45" r="2.55"/><circle cx="804.08" cy="435.45" r="2.55"/><circle cx="804.53" cy="434.54" r="2.55"/><circle cx="804.98" cy="434.53" r="2.55"/><circle cx="805.43" cy="434.56" r="2.55"/><circle cx="805.88" cy="434.54" r="2.55"/><circle cx="806.33" cy="435.42" r="2.55"/><circle cx="806.78" cy="435.46" r="2.55"/><circle cx="807.23" cy="435.46" r="2.55"/><circle cx="807.68" cy="434.56" r="2.55"/><circle cx="808.13" cy="435.46" r="2.55"/><circle cx="808.58" cy="435.44" r="2.55"/><circle cx="809.03" cy="434.57" r="2.55"/><circle cx="809.48" cy="434.53" r="2.55"/><circle cx="809.93" cy="434.53" r="2.55"/><circle cx="810.38" cy="434.56" r="2.55"/><circle cx="810.83" cy="435.48" r="2.55"/><circle cx="811.28" cy="435.45" r="2.55"/><circle cx="811.73" cy="435.45" r="2.55"/><circle cx="812.18" cy="435.46" r="2.55"/><circle cx="812.63" cy="435.45" r="2.55"/><circle cx="813.08" cy="434.54" r="2.55"/><circle cx="813.53" cy="435.44" r="2.55"/><circle cx="813.98" cy="434.57" r="2.55"/><circle cx="814.43" cy="435.45" r="2.55"/><circle cx="814.88" cy="434.54" r="2.55"/><circle cx="815.33" cy="435.42" r="2.55"/><circle cx="815.78" cy="435.43" r="2.55"/><circle cx="816.23" cy="435.43" r="2.55"/><circle cx="816.68" cy="435.44" r="2.55"/><circle cx="817.13" cy="434.54" r="2.55"/><circle cx="817.58" cy="434.46" r="2.55"/><circle cx="818.03" cy="435.46" r="2.55"/><circle cx="818.48" cy="434.56" r="2.55"/><circle cx="818.93" cy="435.45" r="2.55"/><circle cx="819.38" cy="433.52" r="2.55"/><circle cx="819.83" cy="434.53" r="2.55"/><circle cx="820.28" cy="434.47" r="2.55"/><circle cx="820.73" cy="434.57" r="2.55"/><circle cx="821.18" cy="434.53" r="2.55"/><circle cx="821.63" cy="435.44" r="2.55"/><circle cx="822.08" cy="435.45" r="2.55"/><circle cx="822.53" cy="435.46" r="2.55"/><circle cx="822.98" cy="433.57" r="2.55"/><circle cx="823.43" cy="434.54" r="2.55"/><circle cx="823.88" cy="435.44" r="2.55"/><circle cx="824.33" cy="434.3" r="2.55"/><circle cx="824.78" cy="434.3" r="2.55"/><circle cx="825.23" cy="434.3" r="2.55"/></g>
<g fill="#000000"><circle cx="121.43" cy="435.16" r="1.6"/><circle cx="121.88" cy="434.27" r="1.6"/><circle cx="122.33" cy="434.26" r="1.6"/></g>
<g fill="#483d8b"><circle cx="125.48" cy="434.54" r="1.6"/><circle cx="125.93" cy="435.45" r="1.6"/><circle cx="126.38" cy="434.56" r="1.6"/><circle cx="126.83" cy="434.57" r="1.6"/><circle cx="127.28" cy="434.57" r="1.6"/><circle cx="127.73" cy="436.43" r="1.6"/><circle cx="128.18" cy="434.53" r="1.6"/><circle cx="128.63" cy="434.57" r="1.6"/><circle cx="129.08" cy="434.55" r="1.6"/><circle cx="129.53" cy="434.53" r="1.6"/><circle cx="129.98" cy="434.58" r="1.6"/><circle cx="130.43" cy="435.42" r="1.6"/><circle cx="130.88" cy="434.54" r="1.6"/><circle cx="131.33" cy="434.56" r="1.6"/><circle cx="131.78" cy="434.54" r="1.6"/><circle cx="132.23" cy="435.46" r="1.6"/><circle cx="132.68" cy="435.46" r="1.6"/><circle cx="133.13" cy="434.58" r="1.6"/><circle cx="133.58" cy="435.42" r="1.6"/><circle cx="134.03" cy="435.44" r="1.6"/><circle cx="134.48" cy="435.42" r="1.6"/><circle cx="134.93" cy="434.53" r="1.6"/><circle cx="135.38" cy="435.44" r="1.6"/><circle cx="135.83" cy="435.47" r="1.6"/><circle cx="136.28" cy="435.47" r="1.6"/><circle cx="136.73" cy="434.53" r="1.6"/><circle cx="137.18" cy="435.48" r="1.6"/><circle cx="137.63" cy="434.54" r="1.6"/><circle cx="138.08" cy="434.57" r="1.6"/><circle cx="138.53" cy="435.48" r="1.6"/><circle cx="138.98" cy="434.52" r="1.6"/><circle cx="139.43" cy="435.42" r="1.6"/><circle cx="139.88" cy="435.47" r="1.6"/><circle cx="140.33" cy="435.43" r="1.6"/><circle cx="140.78" cy="434.57" r="1.6"/><circle cx="141.23" cy="434.53" r="1.6"/><circle cx="141.68" cy="434.56" r="1.6"/><circle cx="142.13" cy="434.53" r="1.6"/><circle cx="142.58" cy="434.57" r="1.6"/><circle cx="143.03" cy="435.48" r="1.6"/><circle cx="143.48" cy="434.58" r="1.6"/><circle cx="143.93" cy="435.46" r="1.6"/><circle cx="144.38" cy="435.44" r="1.6"/><circle cx="144.83" cy="434.53" r="1.6"/><circle cx="145.28" cy="434.56" r="1.6"/><circle cx="145.73" cy="435.43" r="1.6"/><circle cx="146.18" cy="435.42" r="1.6"/><circle cx="146.63" cy="435.46" r="1.6"/><circle cx="147.08" cy="435.44" r="1.6"/><circle cx="147.53" cy="435.47" r="1.6"/><circle cx="147.98" cy="435.48" r="1.6"/><circle cx="148.43" cy="435.55" r="1.6"/><circle cx="148.88" cy="435.44" r="1.6"/><circle cx="149.33" cy="435.47" r="1.6"/><circle cx="149.78" cy="435.44" r="1.6"/><circle cx="150.23" cy="435.44" r="1.6"/><circle cx="150.68" cy="435.48" r="1.6"/><circle cx="151.13" cy="434.55" r="1.6"/><circle cx="151.58" cy="435.48" r="1.6"/><circle cx="152.03" cy="434.56" r="1.6"/><circle cx="152.48" cy="434.56" r="1.6"/><circle cx="152.93" cy="435.44" r="1.6"/><circle cx="153.38" cy="435.46" r="1.6"/><circle cx="153.83" cy="434.56" r="1.6"/><circle cx="154.28" cy="434.53" r="1.6"/><circle cx="154.73" cy="434.58" r="1.6"/><circle cx="155.18" cy="434.52" r="1.6"/><circle cx="155.63" cy="435.48" r="1.6"/><circle cx="156.08" cy="434.54" r="1.6"/><circle cx="156.53" cy="434.56" r="1.6"/><circle cx="156.98" cy="435.42" r="1.6"/><circle cx="157.43" cy="435.47" r="1.6"/><circle cx="157.88" cy="435.48" r="1.6"/><circle cx="158.33" cy="435.43" r="1.6"/><circle cx="158.78" cy="435.48" r="1.6"/><circle cx="159.23" cy="435.47" r="1.6"/><circle cx="159.68" cy="435.45" r="1.6"/><circle cx="160.13" cy="435.45" r="1.6"/><circle cx="160.58" cy="434.56" r="1.6"/><circle cx="161.03" cy="434.54" r="1.6"/><circle cx="161.48" cy="434.54" r="1.6"/><circle cx="161.93" cy="435.45" r="1.6"/><circle cx="162.38" cy="435.44" r="1.6"/><circle cx="162.83" cy="435.44" r="1.6"/><circle cx="163.28" cy="434.56" r="1.6"/><circle cx="163.73" cy="435.45" r="1.6"/><circle cx="164.18" cy="435.48" r="1.6"/><circle cx="164.63" cy="435.43" r="1.6"/><circle cx="165.08" cy="435.43" r="1.6"/><circle cx="165.53" cy="435.57" r="1.6"/><circle cx="165.98" cy="435.43" r="1.6"/><circle cx="166.43" cy="434.53" r="1.6"/><circle cx="166.88" cy="434.56" r="1.6"/><circle cx="167.33" cy="435.46" r="1.6"/><circle cx="167.78" cy="434.52" r="1.6"/><circle cx="168.23" cy="435.45" r="1.6"/><circle cx="168.68" cy="435.46" r="1.6"/><circle cx="169.13" cy="435.44" r="1.6"/><circle cx="169.58" cy="434.52" r="1.6"/><circle cx="170.03" cy="435.46" r="1.6"/><circle cx="170.48" cy="434.52" r="1.6"/><circle cx="170.93" cy="435.46" r="1.6"/><circle cx="171.38" cy="435.47" r="1.6"/><circle cx="171.83" cy="435.44" r="1.6"/><circle cx="172.28" cy="434.57" r="1.6"/><circle cx="172.73" cy="435.54" r="1.6"/><circle cx="173.18" cy="435.45" r="1.6"/><circle cx="173.63" cy="435.47" r="1.6"/><circle cx="174.08" cy="435.46" r="1.6"/><circle cx="174.53" cy="435.45" r="1.6"/><circle cx="174.98" cy="434.52" r="1.6"/><circle cx="175.43" cy="434.57" r="1.6"/><circle cx="175.88" cy="434.54" r="1.6"/><circle cx="176.33" cy="434.58" r="1.6"/><circle cx="176.78" cy="434.53" r="1.6"/><circle cx="177.23" cy="434.56" r="1.6"/><circle cx="177.68" cy="435.46" r="1.6"/><circle cx="178.13" cy="434.56" r="1.6"/><circle cx="178.58" cy="434.52" r="1.6"/><circle cx="179.03" cy="434.56" r="1.6"/><circle cx="179.48" cy="435.42" r="1.6"/><circle cx="179.93" cy="435.47" r="1.6"/><circle cx="180.38" cy="435.43" r="1.6"/><circle cx="180.83" cy="435.45" r="1.6"/><circle cx="181.28" cy="435.47" r="1.6"/><circle cx="181.73" cy="435.43" r="1.6"/><circle cx="182.18" cy="435.47" r="1.6"/><circle cx="182.63" cy="434.54" r="1.6"/><circle cx="183.08" cy="435.47" r="1.6"/><circle cx="183.53" cy="434.57" r="1.6"/><circle cx="183.98" cy="435.46" r="1.6"/><circle cx="184.43" cy="434.56" r="1.6"/><circle cx="184.88" cy="434.53" r="1.6"/><circle cx="185.33" cy="435.43" r="1.6"/><circle cx="185.78" cy="435.48" r="1.6"/><circle cx="186.23" cy="434.55" r="1.6"/><circle cx="186.68" cy="434.58" r="1.6"/><circle cx="187.13" cy="434.56" r="1.6"/><circle cx="187.58" cy="435.47" r="1.6"/><circle cx="188.03" cy="435.44" r="1.6"/><circle cx="188.48" cy="435.48" r="1.6"/><circle cx="188.93" cy="435.44" r="1.6"/><circle cx="189.38" cy="435.46" r="1.6"/></g>
<g fill="#0000ff"><circle cx="189.83" cy="435.48" r="1.6"/><circle cx="190.28" cy="434.56" r="1.6"/><circle cx="190.73" cy="434.54" r="1.6"/><circle cx="191.18" cy="434.53" r="1.6"/><circle cx="191.63" cy="435.47" r="1.6"/><circle cx="192.08" cy="435.42" r="1.6"/><circle cx="192.53" cy="435.44" r="1.6"/><circle cx="192.98" cy="434.53" r="1.6"/><circle cx="193.43" cy="435.47" r="1.6"/><circle cx="193.88" cy="435.43" r="1.6"/><circle cx="194.33" cy="435.47" r="1.6"/><circle cx="194.78" cy="434.52" r="1.6"/><circle cx="195.23" cy="435.48" r="1.6"/><circle cx="195.68" cy="434.56" r="1.6"/><circle cx="196.13" cy="435.47" r="1.6"/><circle cx="196.58" cy="435.44" r="1.6"/><circle cx="197.03" cy="434.52" r="1.6"/><circle cx="197.48" cy="434.56" r="1.6"/><circle cx="197.93" cy="435.46" r="1.6"/><circle cx="198.38" cy="435.44" r="1.6"/><circle cx="198.83" cy="435.43" r="1.6"/><circle cx="199.28" cy="434.58" r="1.6"/><circle cx="199.73" cy="435.46" r="1.6"/><circle cx="200.18" cy="435.42" r="1.6"/><circle cx="200.63" cy="435.43" r="1.6"/><circle cx="201.08" cy="435.48" r="1.6"/><circle cx="201.53" cy="434.57" r="1.6"/><circle cx="201.98" cy="435.42" r="1.6"/><circle cx="202.43" cy="434.55" r="1.6"/><circle cx="202.88" cy="434.54" r="1.6"/><circle cx="203.33" cy="435.46" r="1.6"/><circle cx="203.78" cy="434.53" r="1.6"/><circle cx="204.23" cy="435.43" r="1.6"/><circle cx="204.68" cy="435.47" r="1.6"/><circle cx="205.13" cy="434.56" r="1.6"/><circle cx="205.58" cy="434.56" r="1.6"/><circle cx="206.03" cy="435.45" r="1.6"/><circle cx="206.48" cy="435.45" r="1.6"/><circle cx="206.93" cy="434.57" r="1.6"/><circle cx="207.38" cy="435.47" r="1.6"/><circle cx="207.83" cy="434.53" r="1.6"/><circle cx="208.28" cy="435.47" r="1.6"/><circle cx="208.73" cy="434.55" r="1.6"/><circle cx="209.18" cy="434.57" r="1.6"/><circle cx="209.63" cy="434.54" r="1.6"/><circle cx="210.08" cy="434.52" r="1.6"/><circle cx="210.53" cy="435.47" r="1.6"/><circle cx="210.98" cy="434.55" r="1.6"/><circle cx="211.43" cy="434.57" r="1.6"/><circle cx="211.88" cy="434.55" r="1.6"/><circle cx="212.33" cy="434.56" r="1.6"/><circle cx="212.78" cy="435.43" r="1.6"/><circle cx="213.23" cy="434.54" r="1.6"/><circle cx="213.68" cy="434.54" r="1.6"/><circle cx="214.13" cy="435.42" r="1.6"/><circle cx="214.58" cy="434.52" r="1.6"/><circle cx="215.03" cy="434.57" r="1.6"/><circle cx="215.48" cy="435.48" r="1.6"/><circle cx="215.93" cy="434.55" r="1.6"/><circle cx="216.38" cy="435.54" r="1.6"/><circle cx="216.83" cy="434.56" r="1.6"/><circle cx="217.28" cy="434.56" r="1.6"/><circle cx="217.73" cy="435.47" r="1.6"/><circle cx="218.18" cy="435.45" r="1.6"/><circle cx="218.63" cy="435.43" r="1.6"/><circle cx="219.08" cy="434.55" r="1.6"/><circle cx="219.53" cy="434.53" r="1.6"/><circle cx="219.98" cy="435.46" r="1.6"/><circle cx="220.43" cy="434.52" r="1.6"/><circle cx="220.88" cy="435.46" r="1.6"/><circle cx="221.33" cy="435.43" r="1.6"/><circle cx="221.78" cy="434.54" r="1.6"/><circle cx="222.23" cy="434.54" r="1.6"/><circle cx="222.68" cy="434.56" r="1.6"/><circle cx="223.13" cy="434.53" r="1.6"/><circle cx="223.58" cy="435.42" r="1.6"/><circle cx="224.03" cy="434.57" r="1.6"/><circle cx="224.48" cy="434.57" r="1.6"/><circle cx="224.93" cy="435.46" r="1.6"/><circle cx="225.38" cy="434.57" r="1.6"/><circle cx="225.83" cy="434.53" r="1.6"/><circle cx="226.28" cy="435.57" r="1.6"/><circle cx="226.73" cy="434.56" r="1.6"/><circle cx="227.18" cy="435.45" r="1.6"/><circle cx="227.63" cy="435.48" r="1.6"/><circle cx="228.08" cy="434.55" r="1.6"/><circle cx="228.53" cy="436.48" r="1.6"/><circle cx="228.98" cy="434.54" r="1.6"/><circle cx="229.43" cy="434.57" r="1.6"/><circle cx="229.88" cy="435.44" r="1.6"/><circle cx="230.33" cy="435.48" r="1.6"/><circle cx="230.78" cy="434.57" r="1.6"/><circle cx="231.23" cy="435.47" r="1.6"/><circle cx="231.68" cy="434.55" r="1.6"/><circle cx="232.13" cy="434.53" r="1.6"/><circle cx="232.58" cy="436.44" r="1.6"/><circle cx="233.03" cy="435.44" r="1.6"/><circle cx="233.48" cy="434.57" r="1.6"/><circle cx="233.93" cy="435.44" r="1.6"/><circle cx="234.38" cy="435.43" r="1.6"/><circle cx="234.83" cy="435.44" r="1.6"/><circle cx="235.28" cy="434.57" r="1.6"/><circle cx="235.73" cy="435.47" r="1.6"/><circle cx="236.18" cy="434.55" r="1.6"/><circle cx="236.63" cy="435.45" r="1.6"/><circle cx="237.08" cy="434.54" r="1.6"/><circle cx="237.53" cy="435.43" r="1.6"/><circle cx="237.98" cy="434.54" r="1.6"/><circle cx="238.43" cy="434.55" r="1.6"/><circle cx="238.88" cy="434.56" r="1.6"/><circle cx="239.33" cy="434.52" r="1.6"/><circle cx="239.78" cy="434.54" r="1.6"/><circle cx="240.23" cy="435.48" r="1.6"/><circle cx="240.68" cy="436.47" r="1.6"/><circle cx="241.13" cy="434.53" r="1.6"/><circle cx="241.58" cy="435.46" r="1.6"/><circle cx="242.03" cy="435.46" r="1.6"/><circle cx="242.48" cy="434.56" r="1.6"/><circle cx="242.93" cy="434.54" r="1.6"/><circle cx="243.38" cy="434.53" r="1.6"/><circle cx="243.83" cy="435.47" r="1.6"/><circle cx="244.28" cy="434.53" r="1.6"/><circle cx="244.73" cy="435.44" r="1.6"/><circle cx="245.18" cy="436.43" r="1.6"/><circle cx="245.63" cy="435.48" r="1.6"/><circle cx="246.08" cy="434.55" r="1.6"/><circle cx="246.53" cy="435.42" r="1.6"/><circle cx="246.98" cy="435.47" r="1.6"/><circle cx="247.43" cy="435.44" r="1.6"/><circle cx="247.88" cy="435.46" r="1.6"/><circle cx="248.33" cy="434.55" r="1.6"/><circle cx="248.78" cy="435.48" r="1.6"/><circle cx="249.23" cy="435.42" r="1.6"/><circle cx="249.68" cy="434.54" r="1.6"/><circle cx="250.13" cy="434.54" r="1.6"/><circle cx="250.58" cy="435.45" r="1.6"/><circle cx="251.03" cy="435.47" r="1.6"/><circle cx="251.48" cy="435.44" r="1.6"/><circle cx="251.93" cy="434.57" r="1.6"/><circle cx="252.38" cy="434.52" r="1.6"/><circle cx="252.83" cy="435.47" r="1.6"/><circle cx="253.28" cy="434.53" r="1.6"/><circle cx="253.73" cy="434.55" r="1.6"/><circle cx="254.18" cy="435.46" r="1.6"/><circle cx="254.63" cy="435.45" r="1.6"/><circle cx="255.08" cy="435.47" r="1.6"/><circle cx="255.53" cy="434.53" r="1.6"/><circle cx="255.98" cy="435.47" r="1.6"/><circle cx="256.43" cy="435.47" r="1.6"/><circle cx="256.88" cy="434.57" r="1.6"/><circle cx="257.33" cy="434.55" r="1.6"/><circle cx="257.78" cy="435.43" r="1.6"/><circle cx="258.23" cy="435.43" r="1.6"/><circle cx="258.68" cy="434.56" r="1.6"/><circle cx="259.13" cy="434.57" r="1.6"/><circle cx="259.58" cy="435.42" r="1.6"/><circle cx="260.03" cy="435.53" r="1.6"/><circle cx="260.48" cy="435.48" r="1.6"/><circle cx="260.93" cy="434.55" r="1.6"/></g>
<g fill="#00bfff"><circle cx="261.38" cy="434.48" r="1.6"/><circle cx="261.83" cy="434.57" r="1.6"/><circle cx="262.28" cy="434.57" r="1.6"/><circle cx="262.73" cy="434.53" r="1.6"/><circle cx="263.18" cy="434.54" r="1.6"/><circle cx="263.63" cy="435.44" r="1.6"/><circle cx="264.08" cy="435.45" r="1.6"/><circle cx="264.53" cy="434.58" r="1.6"/><circle cx="264.98" cy="434.55" r="1.6"/><circle cx="265.43" cy="434.53" r="1.6"/><circle cx="265.88" cy="434.52" r="1.6"/><circle cx="266.33" cy="435.43" r="1.6"/><circle cx="266.78" cy="433.57" r="1.6"/><circle cx="267.23" cy="434.52" r="1.6"/><circle cx="267.68" cy="435.47" r="1.6"/><circle cx="268.13" cy="435.45" r="1.6"/><circle cx="268.58" cy="435.45" r="1.6"/><circle cx="269.03" cy="435.48" r="1.6"/><circle cx="269.48" cy="434.56" r="1.6"/><circle cx="269.93" cy="435.42" r="1.6"/><circle cx="270.38" cy="435.43" r="1.6"/><circle cx="270.83" cy="435.47" r="1.6"/><circle cx="271.28" cy="434.42" r="1.6"/><circle cx="271.73" cy="433.55" r="1.6"/><circle cx="272.18" cy="434.53" r="1.6"/><circle cx="272.63" cy="435.48" r="1.6"/><circle cx="273.08" cy="435.45" r="1.6"/><circle cx="273.53" cy="434.54" r="1.6"/><circle cx="273.98" cy="435.44" r="1.6"/><circle cx="274.43" cy="434.56" r="1.6"/><circle cx="274.88" cy="435.47" r="1.6"/><circle cx="275.33" cy="434.55" r="1.6"/><circle cx="275.78" cy="434.45" r="1.6"/><circle cx="276.23" cy="434.56" r="1.6"/><circle cx="276.68" cy="434.52" r="1.6"/><circle cx="277.13" cy="435.46" r="1.6"/><circle cx="277.58" cy="434.55" r="1.6"/><circle cx="278.03" cy="434.56" r="1.6"/><circle cx="278.48" cy="434.52" r="1.6"/><circle cx="278.93" cy="434.58" r="1.6"/><circle cx="279.38" cy="435.43" r="1.6"/><circle cx="279.83" cy="435.45" r="1.6"/><circle cx="280.28" cy="435.45" r="1.6"/><circle cx="280.73" cy="435.44" r="1.6"/><circle cx="281.18" cy="435.44" r="1.6"/><circle cx="281.63" cy="435.43" r="1.6"/><circle cx="282.08" cy="434.56" r="1.6"/><circle cx="282.53" cy="435.43" r="1.6"/><circle cx="282.98" cy="435.43" r="1.6"/><circle cx="283.43" cy="435.47" r="1.6"/><circle cx="283.88" cy="435.45" r="1.6"/><circle cx="284.33" cy="434.55" r="1.6"/><circle cx="284.78" cy="435.45" r="1.6"/><circle cx="285.23" cy="435.44" r="1.6"/><circle cx="285.68" cy="435.45" r="1.6"/><circle cx="286.13" cy="435.45" r="1.6"/><circle cx="286.58" cy="434.58" r="1.6"/><circle cx="287.03" cy="434.54" r="1.6"/><circle cx="287.48" cy="435.47" r="1.6"/><circle cx="287.93" cy="434.57" r="1.6"/><circle cx="288.38" cy="434.56" r="1.6"/><circle cx="288.83" cy="435.43" r="1.6"/><circle cx="289.28" cy="434.54" r="1.6"/><circle cx="289.73" cy="435.44" r="1.6"/><circle cx="290.18" cy="433.52" r="1.6"/><circle cx="290.63" cy="434.58" r="1.6"/><circle cx="291.08" cy="435.43" r="1.6"/><circle cx="291.53" cy="434.55" r="1.6"/><circle cx="291.98" cy="435.46" r="1.6"/><circle cx="292.43" cy="435.48" r="1.6"/><circle cx="292.88" cy="435.44" r="1.6"/><circle cx="293.33" cy="434.53" r="1.6"/><circle cx="293.78" cy="434.56" r="1.6"/><circle cx="294.23" cy="435.45" r="1.6"/><circle cx="294.68" cy="435.48" r="1.6"/><circle cx="295.13" cy="434.57" r="1.6"/><circle cx="295.58" cy="434.54" r="1.6"/><circle cx="296.03" cy="434.54" r="1.6"/><circle cx="296.48" cy="433.53" r="1.6"/><circle cx="296.93" cy="435.44" r="1.6"/><circle cx="297.38" cy="435.44" r="1.6"/><circle cx="297.83" cy="435.45" r="1.6"/><circle cx="298.28" cy="434.53" r="1.6"/><circle cx="298.73" cy="434.55" r="1.6"/><circle cx="299.18" cy="434.53" r="1.6"/><circle cx="299.63" cy="435.44" r="1.6"/><circle cx="300.08" cy="434.57" r="1.6"/><circle cx="300.53" cy="435.45" r="1.6"/><circle cx="300.98" cy="435.46" r="1.6"/><circle cx="301.43" cy="433.53" r="1.6"/><circle cx="301.88" cy="435.46" r="1.6"/><circle cx="302.33" cy="434.46" r="1.6"/><circle cx="302.78" cy="435.43" r="1.6"/><circle cx="303.23" cy="435.44" r="1.6"/><circle cx="303.68" cy="435.46" r="1.6"/><circle cx="304.13" cy="434.52" r="1.6"/><circle cx="304.58" cy="435.48" r="1.6"/><circle cx="305.03" cy="435.45" r="1.6"/><circle cx="305.48" cy="435.44" r="1.6"/><circle cx="305.93" cy="435.46" r="1.6"/><circle cx="306.38" cy="434.53" r="1.6"/><circle cx="306.83" cy="434.55" r="1.6"/><circle cx="307.28" cy="434.47" r="1.6"/><circle cx="307.73" cy="434.55" r="1.6"/><circle cx="308.18" cy="434.53" r="1.6"/><circle cx="308.63" cy="434.56" r="1.6"/><circle cx="309.08" cy="434.54" r="1.6"/><circle cx="309.53" cy="434.56" r="1.6"/><circle cx="309.98" cy="434.56" r="1.6"/><circle cx="310.43" cy="435.45" r="1.6"/><circle cx="310.88" cy="434.54" r="1.6"/><circle cx="311.33" cy="435.47" r="1.6"/><circle cx="311.78" cy="434.45" r="1.6"/><circle cx="312.23" cy="434.42" r="1.6"/><circle cx="312.68" cy="434.53" r="1.6"/><circle cx="313.13" cy="435.47" r="1.6"/><circle cx="313.58" cy="434.45" r="1.6"/><circle cx="314.03" cy="435.47" r="1.6"/><circle cx="314.48" cy="434.52" r="1.6"/><circle cx="314.93" cy="434.58" r="1.6"/><circle cx="315.38" cy="434.53" r="1.6"/><circle cx="315.83" cy="434.53" r="1.6"/><circle cx="316.28" cy="434.55" r="1.6"/><circle cx="316.73" cy="435.44" r="1.6"/><circle cx="317.18" cy="434.57" r="1.6"/><circle cx="317.63" cy="434.53" r="1.6"/><circle cx="318.08" cy="433.54" r="1.6"/><circle cx="318.53" cy="435.45" r="1.6"/><circle cx="318.98" cy="435.47" r="1.6"/><circle cx="319.43" cy="435.47" r="1.6"/><circle cx="319.88" cy="435.46" r="1.6"/><circle cx="320.33" cy="435.46" r="1.6"/><circle cx="320.78" cy="434.53" r="1.6"/><circle cx="321.23" cy="434.54" r="1.6"/><circle cx="321.68" cy="435.44" r="1.6"/><circle cx="322.13" cy="435.43" r="1.6"/><circle cx="322.58" cy="435.48" r="1.6"/><circle cx="323.03" cy="435.48" r="1.6"/><circle cx="323.48" cy="435.46" r="1.6"/><circle cx="323.93" cy="434.43" r="1.6"/><circle cx="324.38" cy="434.56" r="1.6"/><circle cx="324.83" cy="435.44" r="1.6"/><circle cx="325.28" cy="435.46" r="1.6"/><circle cx="325.73" cy="434.54" r="1.6"/><circle cx="326.18" cy="434.53" r="1.6"/><circle cx="326.63" cy="434.57" r="1.6"/><circle cx="327.08" cy="434.56" r="1.6"/><circle cx="327.53" cy="434.52" r="1.6"/><circle cx="327.98" cy="434.54" r="1.6"/><circle cx="328.43" cy="434.54" r="1.6"/><circle cx="328.88" cy="434.58" r="1.6"/><circle cx="329.33" cy="434.52" r="1.6"/><circle cx="329.78" cy="435.43" r="1.6"/><circle cx="330.23" cy="435.44" r="1.6"/></g>
<g fill="#00ffff"><circle cx="330.68" cy="434.58" r="1.6"/><circle cx="331.13" cy="435.47" r="1.6"/><circle cx="331.58" cy="434.58" r="1.6"/><circle cx="332.03" cy="434.53" r="1.6"/><circle cx="332.48" cy="435.43" r="1.6"/><circle cx="332.93" cy="433.54" r="1.6"/><circle cx="333.38" cy="435.43" r="1.6"/><circle cx="333.83" cy="435.42" r="1.6"/><circle cx="334.28" cy="434.56" r="1.6"/><circle cx="334.73" cy="435.44" r="1.6"/><circle cx="335.18" cy="434.45" r="1.6"/><circle cx="335.63" cy="435.44" r="1.6"/><circle cx="336.08" cy="435.48" r="1.6"/><circle cx="336.53" cy="434.55" r="1.6"/><circle cx="336.98" cy="435.47" r="1.6"/><circle cx="337.43" cy="434.53" r="1.6"/><circle cx="337.88" cy="434.42" r="1.6"/><circle cx="338.33" cy="433.52" r="1.6"/><circle cx="338.78" cy="435.44" r="1.6"/><circle cx="339.23" cy="434.55" r="1.6"/><circle cx="339.68" cy="435.45" r="1.6"/><circle cx="340.13" cy="435.47" r="1.6"/><circle cx="340.58" cy="434.53" r="1.6"/><circle cx="341.03" cy="434.47" r="1.6"/><circle cx="341.48" cy="435.47" r="1.6"/><circle cx="341.93" cy="435.48" r="1.6"/><circle cx="342.38" cy="435.44" r="1.6"/><circle cx="342.83" cy="435.43" r="1.6"/><circle cx="343.28" cy="435.44" r="1.6"/><circle cx="343.73" cy="435.42" r="1.6"/><circle cx="344.18" cy="435.44" r="1.6"/><circle cx="344.63" cy="435.47" r="1.6"/><circle cx="345.08" cy="433.54" r="1.6"/><circle cx="345.53" cy="434.56" r="1.6"/><circle cx="345.98" cy="435.47" r="1.6"/><circle cx="346.43" cy="434.57" r="1.6"/><circle cx="346.88" cy="435.43" r="1.6"/><circle cx="347.33" cy="435.43" r="1.6"/><circle cx="347.78" cy="433.53" r="1.6"/><circle cx="348.23" cy="434.45" r="1.6"/><circle cx="348.68" cy="434.58" r="1.6"/><circle cx="349.13" cy="435.43" r="1.6"/><circle cx="349.58" cy="434.56" r="1.6"/><circle cx="350.03" cy="434.58" r="1.6"/><circle cx="350.48" cy="434.57" r="1.6"/><circle cx="350.93" cy="435.47" r="1.6"/><circle cx="351.38" cy="434.57" r="1.6"/><circle cx="351.83" cy="435.43" r="1.6"/><circle cx="352.28" cy="435.47" r="1.6"/><circle cx="352.73" cy="435.47" r="1.6"/><circle cx="353.18" cy="434.54" r="1.6"/><circle cx="353.63" cy="435.45" r="1.6"/><circle cx="354.08" cy="434.55" r="1.6"/><circle cx="354.53" cy="434.58" r="1.6"/><circle cx="354.98" cy="434.58" r="1.6"/><circle cx="355.43" cy="434.56" r="1.6"/><circle cx="355.88" cy="435.44" r="1.6"/><circle cx="356.33" cy="434.57" r="1.6"/><circle cx="356.78" cy="435.45" r="1.6"/><circle cx="357.23" cy="433.53" r="1.6"/><circle cx="357.68" cy="435.43" r="1.6"/><circle cx="358.13" cy="435.46" r="1.6"/><circle cx="358.58" cy="435.47" r="1.6"/><circle cx="359.03" cy="434.53" r="1.6"/><circle cx="359.48" cy="435.43" r="1.6"/><circle cx="359.93" cy="434.46" r="1.6"/><circle cx="360.38" cy="434.56" r="1.6"/><circle cx="360.83" cy="434.56" r="1.6"/><circle cx="361.28" cy="435.48" r="1.6"/><circle cx="361.73" cy="434.54" r="1.6"/><circle cx="362.18" cy="434.56" r="1.6"/><circle cx="362.63" cy="435.47" r="1.6"/><circle cx="363.08" cy="435.43" r="1.6"/><circle cx="363.53" cy="434.56" r="1.6"/><circle cx="363.98" cy="434.57" r="1.6"/><circle cx="364.43" cy="433.53" r="1.6"/><circle cx="364.88" cy="434.44" r="1.6"/><circle cx="365.33" cy="433.56" r="1.6"/><circle cx="365.78" cy="433.56" r="1.6"/><circle cx="366.23" cy="433.58" r="1.6"/><circle cx="366.68" cy="434.45" r="1.6"/><circle cx="367.13" cy="434.44" r="1.6"/><circle cx="367.58" cy="434.46" r="1.6"/><circle cx="368.03" cy="434.48" r="1.6"/><circle cx="368.48" cy="434.46" r="1.6"/><circle cx="368.93" cy="434.44" r="1.6"/><circle cx="369.38" cy="434.45" r="1.6"/><circle cx="369.83" cy="433.58" r="1.6"/><circle cx="370.28" cy="433.55" r="1.6"/><circle cx="370.73" cy="433.54" r="1.6"/><circle cx="371.18" cy="434.45" r="1.6"/><circle cx="371.63" cy="433.57" r="1.6"/><circle cx="372.08" cy="434.45" r="1.6"/><circle cx="372.53" cy="433.54" r="1.6"/><circle cx="372.98" cy="433.53" r="1.6"/><circle cx="373.43" cy="434.45" r="1.6"/><circle cx="373.88" cy="433.52" r="1.6"/><circle cx="374.33" cy="433.58" r="1.6"/><circle cx="374.78" cy="433.57" r="1.6"/><circle cx="375.23" cy="433.58" r="1.6"/><circle cx="375.68" cy="434.47" r="1.6"/><circle cx="376.13" cy="434.46" r="1.6"/><circle cx="376.58" cy="434.45" r="1.6"/><circle cx="377.03" cy="434.42" r="1.6"/><circle cx="377.48" cy="434.42" r="1.6"/><circle cx="377.93" cy="433.53" r="1.6"/><circle cx="378.38" cy="434.48" r="1.6"/><circle cx="378.83" cy="433.55" r="1.6"/><circle cx="379.28" cy="434.47" r="1.6"/><circle cx="379.73" cy="434.44" r="1.6"/><circle cx="380.18" cy="434.42" r="1.6"/><circle cx="380.63" cy="433.53" r="1.6"/><circle cx="381.08" cy="433.58" r="1.6"/><circle cx="381.53" cy="433.58" r="1.6"/><circle cx="381.98" cy="434.44" r="1.6"/><circle cx="382.43" cy="434.42" r="1.6"/><circle cx="382.88" cy="433.53" r="1.6"/><circle cx="383.33" cy="433.55" r="1.6"/><circle cx="383.78" cy="434.44" r="1.6"/><circle cx="384.23" cy="434.47" r="1.6"/><circle cx="384.68" cy="433.53" r="1.6"/><circle cx="385.13" cy="434.46" r="1.6"/><circle cx="385.58" cy="433.54" r="1.6"/><circle cx="386.03" cy="433.57" r="1.6"/><circle cx="386.48" cy="433.54" r="1.6"/><circle cx="386.93" cy="434.44" r="1.6"/><circle cx="387.38" cy="433.55" r="1.6"/><circle cx="387.83" cy="434.43" r="1.6"/><circle cx="388.28" cy="433.53" r="1.6"/><circle cx="388.73" cy="433.55" r="1.6"/><circle cx="389.18" cy="434.45" r="1.6"/><circle cx="389.63" cy="434.45" r="1.6"/><circle cx="390.08" cy="433.56" r="1.6"/><circle cx="390.53" cy="434.44" r="1.6"/><circle cx="390.98" cy="434.44" r="1.6"/><circle cx="391.43" cy="434.47" r="1.6"/><circle cx="391.88" cy="433.57" r="1.6"/><circle cx="392.33" cy="433.54" r="1.6"/><circle cx="392.78" cy="434.48" r="1.6"/><circle cx="393.23" cy="434.48" r="1.6"/><circle cx="393.68" cy="433.53" r="1.6"/><circle cx="394.13" cy="433.53" r="1.6"/><circle cx="394.58" cy="433.57" r="1.6"/><circle cx="395.03" cy="433.55" r="1.6"/><circle cx="395.48" cy="434.45" r="1.6"/><circle cx="395.93" cy="434.48" r="1.6"/><circle cx="396.38" cy="434.43" r="1.6"/><circle cx="396.83" cy="433.58" r="1.6"/><circle cx="397.28" cy="434.47" r="1.6"/><circle cx="397.73" cy="433.52" r="1.6"/><circle cx="398.18" cy="434.47" r="1.6"/><circle cx="398.63" cy="433.56" r="1.6"/><circle cx="399.08" cy="433.57" r="1.6"/><circle cx="399.53" cy="434.44" r="1.6"/><circle cx="399.98" cy="434.47" r="1.6"/><circle cx="400.43" cy="433.57" r="1.6"/><circle cx="400.88" cy="433.54" r="1.6"/><circle cx="401.33" cy="433.57" r="1.6"/><circle cx="401.78" cy="434.46" r="1.6"/></g>
<g fill="#32cd32"><circle cx="402.23" cy="433.54" r="1.6"/><circle cx="402.68" cy="433.54" r="1.6"/><circle cx="403.13" cy="433.54" r="1.6"/><circle cx="403.58" cy="434.47" r="1.6"/><circle cx="404.03" cy="434.43" r="1.6"/><circle cx="404.48" cy="433.57" r="1.6"/><circle cx="404.93" cy="433.56" r="1.6"/><circle cx="405.38" cy="434.43" r="1.6"/><circle cx="405.83" cy="434.45" r="1.6"/><circle cx="406.28" cy="433.55" r="1.6"/><circle cx="406.73" cy="434.48" r="1.6"/><circle cx="407.18" cy="433.57" r="1.6"/><circle cx="407.63" cy="433.53" r="1.6"/><circle cx="408.08" cy="433.56" r="1.6"/><circle cx="408.53" cy="434.47" r="1.6"/><circle cx="408.98" cy="434.48" r="1.6"/><circle cx="409.43" cy="433.56" r="1.6"/><circle cx="409.88" cy="433.56" r="1.6"/><circle cx="410.33" cy="434.44" r="1.6"/><circle cx="410.78" cy="434.46" r="1.6"/><circle cx="411.23" cy="434.44" r="1.6"/><circle cx="411.68" cy="434.44" r="1.6"/><circle cx="412.13" cy="434.42" r="1.6"/><circle cx="412.58" cy="434.45" r="1.6"/><circle cx="413.03" cy="433.54" r="1.6"/><circle cx="413.48" cy="433.53" r="1.6"/><circle cx="413.93" cy="434.48" r="1.6"/><circle cx="414.38" cy="434.48" r="1.6"/><circle cx="414.83" cy="434.42" r="1.6"/><circle cx="415.28" cy="434.47" r="1.6"/><circle cx="415.73" cy="433.57" r="1.6"/><circle cx="416.18" cy="433.56" r="1.6"/><circle cx="416.63" cy="433.55" r="1.6"/><circle cx="417.08" cy="433.54" r="1.6"/><circle cx="417.53" cy="433.57" r="1.6"/><circle cx="417.98" cy="433.55" r="1.6"/><circle cx="418.43" cy="434.46" r="1.6"/><circle cx="418.88" cy="433.53" r="1.6"/><circle cx="419.33" cy="433.56" r="1.6"/><circle cx="419.78" cy="433.55" r="1.6"/><circle cx="420.23" cy="434.44" r="1.6"/><circle cx="420.68" cy="434.46" r="1.6"/><circle cx="421.13" cy="434.42" r="1.6"/><circle cx="421.58" cy="434.46" r="1.6"/><circle cx="422.03" cy="433.54" r="1.6"/><circle cx="422.48" cy="433.58" r="1.6"/><circle cx="422.93" cy="434.46" r="1.6"/><circle cx="423.38" cy="433.54" r="1.6"/><circle cx="423.83" cy="434.43" r="1.6"/><circle cx="424.28" cy="433.53" r="1.6"/><circle cx="424.73" cy="434.48" r="1.6"/><circle cx="425.18" cy="434.48" r="1.6"/><circle cx="425.63" cy="434.42" r="1.6"/><circle cx="426.08" cy="433.52" r="1.6"/><circle cx="426.53" cy="433.52" r="1.6"/><circle cx="426.98" cy="434.45" r="1.6"/><circle cx="427.43" cy="434.43" r="1.6"/><circle cx="427.88" cy="433.53" r="1.6"/><circle cx="428.33" cy="434.44" r="1.6"/><circle cx="428.78" cy="434.43" r="1.6"/><circle cx="429.23" cy="433.56" r="1.6"/><circle cx="429.68" cy="433.55" r="1.6"/><circle cx="430.13" cy="433.56" r="1.6"/><circle cx="430.58" cy="434.45" r="1.6"/><circle cx="431.03" cy="433.56" r="1.6"/><circle cx="431.48" cy="433.57" r="1.6"/><circle cx="431.93" cy="433.55" r="1.6"/><circle cx="432.38" cy="433.57" r="1.6"/><circle cx="432.83" cy="433.55" r="1.6"/><circle cx="433.28" cy="434.47" r="1.6"/><circle cx="433.73" cy="434.44" r="1.6"/><circle cx="434.18" cy="433.56" r="1.6"/><circle cx="434.63" cy="434.43" r="1.6"/><circle cx="435.08" cy="434.46" r="1.6"/><circle cx="435.53" cy="433.58" r="1.6"/><circle cx="435.98" cy="433.53" r="1.6"/><circle cx="436.43" cy="434.42" r="1.6"/><circle cx="436.88" cy="434.43" r="1.6"/><circle cx="437.33" cy="434.48" r="1.6"/><circle cx="437.78" cy="434.47" r="1.6"/><circle cx="438.23" cy="434.45" r="1.6"/><circle cx="438.68" cy="434.48" r="1.6"/><circle cx="439.13" cy="434.43" r="1.6"/><circle cx="439.58" cy="433.55" r="1.6"/><circle cx="440.03" cy="433.53" r="1.6"/><circle cx="440.48" cy="434.48" r="1.6"/><circle cx="440.93" cy="433.57" r="1.6"/><circle cx="441.38" cy="433.55" r="1.6"/><circle cx="441.83" cy="434.44" r="1.6"/><circle cx="442.28" cy="433.56" r="1.6"/><circle cx="442.73" cy="433.55" r="1.6"/><circle cx="443.18" cy="434.47" r="1.6"/><circle cx="443.63" cy="433.56" r="1.6"/><circle cx="444.08" cy="433.52" r="1.6"/><circle cx="444.53" cy="433.54" r="1.6"/><circle cx="444.98" cy="433.56" r="1.6"/><circle cx="445.43" cy="434.46" r="1.6"/><circle cx="445.88" cy="433.58" r="1.6"/><circle cx="446.33" cy="434.46" r="1.6"/><circle cx="446.78" cy="433.56" r="1.6"/><circle cx="447.23" cy="434.47" r="1.6"/><circle cx="447.68" cy="434.48" r="1.6"/><circle cx="448.13" cy="433.57" r="1.6"/><circle cx="448.58" cy="434.47" r="1.6"/><circle cx="449.03" cy="434.43" r="1.6"/><circle cx="449.48" cy="433.54" r="1.6"/><circle cx="449.93" cy="433.53" r="1.6"/><circle cx="450.38" cy="433.53" r="1.6"/><circle cx="450.83" cy="434.46" r="1.6"/><circle cx="451.28" cy="434.46" r="1.6"/><circle cx="451.73" cy="434.44" r="1.6"/><circle cx="452.18" cy="434.43" r="1.6"/><circle cx="452.63" cy="433.53" r="1.6"/><circle cx="453.08" cy="434.47" r="1.6"/><circle cx="453.53" cy="433.54" r="1.6"/><circle cx="453.98" cy="434.45" r="1.6"/><circle cx="454.43" cy="433.54" r="1.6"/><circle cx="454.88" cy="434.43" r="1.6"/><circle cx="455.33" cy="433.56" r="1.6"/><circle cx="455.78" cy="434.43" r="1.6"/><circle cx="456.23" cy="434.43" r="1.6"/><circle cx="456.68" cy="434.45" r="1.6"/><circle cx="457.13" cy="434.47" r="1.6"/><circle cx="457.58" cy="434.43" r="1.6"/><circle cx="458.03" cy="434.45" r="1.6"/><circle cx="458.48" cy="434.43" r="1.6"/><circle cx="458.93" cy="434.47" r="1.6"/><circle cx="459.38" cy="433.55" r="1.6"/><circle cx="459.83" cy="433.56" r="1.6"/><circle cx="460.28" cy="433.56" r="1.6"/><circle cx="460.73" cy="434.45" r="1.6"/><circle cx="461.18" cy="433.58" r="1.6"/><circle cx="461.63" cy="433.57" r="1.6"/><circle cx="462.08" cy="435.46" r="1.6"/><circle cx="462.53" cy="434.48" r="1.6"/><circle cx="462.98" cy="434.46" r="1.6"/><circle cx="463.43" cy="433.53" r="1.6"/><circle cx="463.88" cy="433.57" r="1.6"/><circle cx="464.33" cy="434.48" r="1.6"/><circle cx="464.78" cy="433.55" r="1.6"/><circle cx="465.23" cy="433.57" r="1.6"/><circle cx="465.68" cy="434.43" r="1.6"/><circle cx="466.13" cy="434.45" r="1.6"/><circle cx="466.58" cy="433.56" r="1.6"/><circle cx="467.03" cy="433.58" r="1.6"/><circle cx="467.48" cy="433.52" r="1.6"/><circle cx="467.93" cy="434.43" r="1.6"/><circle cx="468.38" cy="434.45" r="1.6"/><circle cx="468.83" cy="434.47" r="1.6"/><circle cx="469.28" cy="433.55" r="1.6"/><circle cx="469.73" cy="433.52" r="1.6"/><circle cx="470.18" cy="434.44" r="1.6"/><circle cx="470.63" cy="433.55" r="1.6"/><circle cx="471.08" cy="433.55" r="1.6"/></g>
<g fill="#00ff00"><circle cx="471.53" cy="434.43" r="1.6"/><circle cx="471.98" cy="434.43" r="1.6"/><circle cx="472.43" cy="434.45" r="1.6"/><circle cx="472.88" cy="433.55" r="1.6"/><circle cx="473.33" cy="434.46" r="1.6"/><circle cx="473.78" cy="434.43" r="1.6"/><circle cx="474.23" cy="434.44" r="1.6"/><circle cx="474.68" cy="434.43" r="1.6"/><circle cx="475.13" cy="433.57" r="1.6"/><circle cx="475.58" cy="434.47" r="1.6"/><circle cx="476.03" cy="434.43" r="1.6"/><circle cx="476.48" cy="434.44" r="1.6"/><circle cx="476.93" cy="434.47" r="1.6"/><circle cx="477.38" cy="434.48" r="1.6"/><circle cx="477.83" cy="433.56" r="1.6"/><circle cx="478.28" cy="433.56" r="1.6"/><circle cx="478.73" cy="434.47" r="1.6"/><circle cx="479.18" cy="433.54" r="1.6"/><circle cx="479.63" cy="434.43" r="1.6"/><circle cx="480.08" cy="433.56" r="1.6"/><circle cx="480.53" cy="434.47" r="1.6"/><circle cx="480.98" cy="433.55" r="1.6"/><circle cx="481.43" cy="433.53" r="1.6"/><circle cx="481.88" cy="434.42" r="1.6"/><circle cx="482.33" cy="433.52" r="1.6"/><circle cx="482.78" cy="434.45" r="1.6"/><circle cx="483.23" cy="434.44" r="1.6"/><circle cx="483.68" cy="434.46" r="1.6"/><circle cx="484.13" cy="433.54" r="1.6"/><circle cx="484.58" cy="434.46" r="1.6"/><circle cx="485.03" cy="433.55" r="1.6"/><circle cx="485.48" cy="434.43" r="1.6"/><circle cx="485.93" cy="434.47" r="1.6"/><circle cx="486.38" cy="434.42" r="1.6"/><circle cx="486.83" cy="433.53" r="1.6"/><circle cx="487.28" cy="434.43" r="1.6"/><circle cx="487.73" cy="434.46" r="1.6"/><circle cx="488.18" cy="434.47" r="1.6"/><circle cx="488.63" cy="433.53" r="1.6"/><circle cx="489.08" cy="433.58" r="1.6"/><circle cx="489.53" cy="434.45" r="1.6"/><circle cx="489.98" cy="434.45" r="1.6"/><circle cx="490.43" cy="433.52" r="1.6"/><circle cx="490.88" cy="434.45" r="1.6"/><circle cx="491.33" cy="434.46" r="1.6"/><circle cx="491.78" cy="433.57" r="1.6"/><circle cx="492.23" cy="433.53" r="1.6"/><circle cx="492.68" cy="434.47" r="1.6"/><circle cx="493.13" cy="433.53" r="1.6"/><circle cx="493.58" cy="433.54" r="1.6"/><circle cx="494.03" cy="433.53" r="1.6"/><circle cx="494.48" cy="434.46" r="1.6"/><circle cx="494.93" cy="434.46" r="1.6"/><circle cx="495.38" cy="433.55" r="1.6"/><circle cx="495.83" cy="433.57" r="1.6"/><circle cx="496.28" cy="433.56" r="1.6"/><circle cx="496.73" cy="434.43" r="1.6"/><circle cx="497.18" cy="434.43" r="1.6"/><circle cx="497.63" cy="434.42" r="1.6"/><circle cx="498.08" cy="434.45" r="1.6"/><circle cx="498.53" cy="433.55" r="1.6"/><circle cx="498.98" cy="434.44" r="1.6"/><circle cx="499.43" cy="433.53" r="1.6"/><circle cx="499.88" cy="434.48" r="1.6"/><circle cx="500.33" cy="433.55" r="1.6"/><circle cx="500.78" cy="433.57" r="1.6"/><circle cx="501.23" cy="433.52" r="1.6"/><circle cx="501.68" cy="433.54" r="1.6"/><circle cx="502.13" cy="434.43" r="1.6"/><circle cx="502.58" cy="434.42" r="1.6"/><circle cx="503.03" cy="433.52" r="1.6"/><circle cx="503.48" cy="433.58" r="1.6"/><circle cx="503.93" cy="434.44" r="1.6"/><circle cx="504.38" cy="434.43" r="1.6"/><circle cx="504.83" cy="433.56" r="1.6"/><circle cx="505.28" cy="434.44" r="1.6"/><circle cx="505.73" cy="434.48" r="1.6"/><circle cx="506.18" cy="434.47" r="1.6"/><circle cx="506.63" cy="433.57" r="1.6"/><circle cx="507.08" cy="433.57" r="1.6"/><circle cx="507.53" cy="433.54" r="1.6"/><circle cx="507.98" cy="434.44" r="1.6"/><circle cx="508.43" cy="434.47" r="1.6"/><circle cx="508.88" cy="434.45" r="1.6"/><circle cx="509.33" cy="433.56" r="1.6"/><circle cx="509.78" cy="434.42" r="1.6"/><circle cx="510.23" cy="434.46" r="1.6"/><circle cx="510.68" cy="434.47" r="1.6"/><circle cx="511.13" cy="434.43" r="1.6"/><circle cx="511.58" cy="433.55" r="1.6"/><circle cx="512.03" cy="434.44" r="1.6"/><circle cx="512.48" cy="434.43" r="1.6"/><circle cx="512.93" cy="433.55" r="1.6"/><circle cx="513.38" cy="434.47" r="1.6"/><circle cx="513.83" cy="433.55" r="1.6"/><circle cx="514.28" cy="433.56" r="1.6"/><circle cx="514.73" cy="434.46" r="1.6"/><circle cx="515.18" cy="433.53" r="1.6"/><circle cx="515.63" cy="433.55" r="1.6"/><circle cx="516.08" cy="434.46" r="1.6"/><circle cx="516.53" cy="434.45" r="1.6"/><circle cx="516.98" cy="433.52" r="1.6"/><circle cx="517.43" cy="434.47" r="1.6"/><circle cx="517.88" cy="433.54" r="1.6"/><circle cx="518.33" cy="433.55" r="1.6"/><circle cx="518.78" cy="433.53" r="1.6"/><circle cx="519.23" cy="434.48" r="1.6"/><circle cx="519.68" cy="433.58" r="1.6"/><circle cx="520.13" cy="433.57" r="1.6"/><circle cx="520.58" cy="433.56" r="1.6"/><circle cx="521.03" cy="433.55" r="1.6"/><circle cx="521.48" cy="434.44" r="1.6"/><circle cx="521.93" cy="434.47" r="1.6"/><circle cx="522.38" cy="433.56" r="1.6"/><circle cx="522.83" cy="434.43" r="1.6"/><circle cx="523.28" cy="433.56" r="1.6"/><circle cx="523.73" cy="433.56" r="1.6"/><circle cx="524.18" cy="434.48" r="1.6"/><circle cx="524.63" cy="434.46" r="1.6"/><circle cx="525.08" cy="434.43" r="1.6"/><circle cx="525.53" cy="434.44" r="1.6"/><circle cx="525.98" cy="434.46" r="1.6"/><circle cx="526.43" cy="433.55" r="1.6"/><circle cx="526.88" cy="434.43" r="1.6"/><circle cx="527.33" cy="434.44" r="1.6"/><circle cx="527.78" cy="433.55" r="1.6"/><circle cx="528.23" cy="433.54" r="1.6"/><circle cx="528.68" cy="433.58" r="1.6"/><circle cx="529.13" cy="434.47" r="1.6"/><circle cx="529.58" cy="434.42" r="1.6"/><circle cx="530.03" cy="433.54" r="1.6"/><circle cx="530.48" cy="434.42" r="1.6"/><circle cx="530.93" cy="434.46" r="1.6"/><circle cx="531.38" cy="434.43" r="1.6"/><circle cx="531.83" cy="434.42" r="1.6"/><circle cx="532.28" cy="433.57" r="1.6"/><circle cx="532.73" cy="433.58" r="1.6"/><circle cx="533.18" cy="433.56" r="1.6"/><circle cx="533.63" cy="433.52" r="1.6"/><circle cx="534.08" cy="434.47" r="1.6"/><circle cx="534.53" cy="434.45" r="1.6"/><circle cx="534.98" cy="433.55" r="1.6"/><circle cx="535.43" cy="433.56" r="1.6"/><circle cx="535.88" cy="434.47" r="1.6"/><circle cx="536.33" cy="433.53" r="1.6"/><circle cx="536.78" cy="434.43" r="1.6"/><circle cx="537.23" cy="434.46" r="1.6"/><circle cx="537.68" cy="433.53" r="1.6"/><circle cx="538.13" cy="433.55" r="1.6"/><circle cx="538.58" cy="433.54" r="1.6"/><circle cx="539.03" cy="433.55" r="1.6"/><circle cx="539.48" cy="433.54" r="1.6"/><circle cx="539.93" cy="434.48" r="1.6"/><circle cx="540.38" cy="433.57" r="1.6"/><circle cx="540.83" cy="434.45" r="1.6"/><circle cx="541.28" cy="434.47" r="1.6"/><circle cx="541.73" cy="433.57" r="1.6"/><circle cx="542.18" cy="433.56" r="1.6"/><circle cx="542.63" cy="433.53" r="1.6"/></g>
<g fill="#ffff00"><circle cx="543.08" cy="434.43" r="1.6"/><circle cx="543.53" cy="434.47" r="1.6"/><circle cx="543.98" cy="434.48" r="1.6"/><circle cx="544.43" cy="434.46" r="1.6"/><circle cx="544.88" cy="433.54" r="1.6"/><circle cx="545.33" cy="434.47" r="1.6"/><circle cx="545.78" cy="434.47" r="1.6"/><circle cx="546.23" cy="434.43" r="1.6"/><circle cx="546.68" cy="434.46" r="1.6"/><circle cx="547.13" cy="433.54" r="1.6"/><circle cx="547.58" cy="433.55" r="1.6"/><circle cx="548.03" cy="433.54" r="1.6"/><circle cx="548.48" cy="434.45" r="1.6"/><circle cx="548.93" cy="434.43" r="1.6"/><circle cx="549.38" cy="433.57" r="1.6"/><circle cx="549.83" cy="434.44" r="1.6"/><circle cx="550.28" cy="434.43" r="1.6"/><circle cx="550.73" cy="433.52" r="1.6"/><circle cx="551.18" cy="433.53" r="1.6"/><circle cx="551.63" cy="434.46" r="1.6"/><circle cx="552.08" cy="434.44" r="1.6"/><circle cx="552.53" cy="433.55" r="1.6"/><circle cx="552.98" cy="433.53" r="1.6"/><circle cx="553.43" cy="434.43" r="1.6"/><circle cx="553.88" cy="434.44" r="1.6"/><circle cx="554.33" cy="434.48" r="1.6"/><circle cx="554.78" cy="433.55" r="1.6"/><circle cx="555.23" cy="433.58" r="1.6"/><circle cx="555.68" cy="433.55" r="1.6"/><circle cx="556.13" cy="434.44" r="1.6"/><circle cx="556.58" cy="433.55" r="1.6"/><circle cx="557.03" cy="434.43" r="1.6"/><circle cx="557.48" cy="434.42" r="1.6"/><circle cx="557.93" cy="433.55" r="1.6"/><circle cx="558.38" cy="433.57" r="1.6"/><circle cx="558.83" cy="434.48" r="1.6"/><circle cx="559.28" cy="433.52" r="1.6"/><circle cx="559.73" cy="434.42" r="1.6"/><circle cx="560.18" cy="433.55" r="1.6"/><circle cx="560.63" cy="433.53" r="1.6"/><circle cx="561.08" cy="433.57" r="1.6"/><circle cx="561.53" cy="434.48" r="1.6"/><circle cx="561.98" cy="434.47" r="1.6"/><circle cx="562.43" cy="434.45" r="1.6"/><circle cx="562.88" cy="433.56" r="1.6"/><circle cx="563.33" cy="434.48" r="1.6"/><circle cx="563.78" cy="434.44" r="1.6"/><circle cx="564.23" cy="434.45" r="1.6"/><circle cx="564.68" cy="434.44" r="1.6"/><circle cx="565.13" cy="433.54" r="1.6"/><circle cx="565.58" cy="433.55" r="1.6"/><circle cx="566.03" cy="433.55" r="1.6"/><circle cx="566.48" cy="434.44" r="1.6"/><circle cx="566.93" cy="433.55" r="1.6"/><circle cx="567.38" cy="433.52" r="1.6"/><circle cx="567.83" cy="433.58" r="1.6"/><circle cx="568.28" cy="434.45" r="1.6"/><circle cx="568.73" cy="434.47" r="1.6"/><circle cx="569.18" cy="434.46" r="1.6"/><circle cx="569.63" cy="433.57" r="1.6"/><circle cx="570.08" cy="434.47" r="1.6"/><circle cx="570.53" cy="434.43" r="1.6"/><circle cx="570.98" cy="433.56" r="1.6"/><circle cx="571.43" cy="434.43" r="1.6"/><circle cx="571.88" cy="433.57" r="1.6"/><circle cx="572.33" cy="434.48" r="1.6"/><circle cx="572.78" cy="433.58" r="1.6"/><circle cx="573.23" cy="433.53" r="1.6"/><circle cx="573.68" cy="434.46" r="1.6"/><circle cx="574.13" cy="433.53" r="1.6"/><circle cx="574.58" cy="434.46" r="1.6"/><circle cx="575.03" cy="434.42" r="1.6"/><circle cx="575.48" cy="434.43" r="1.6"/><circle cx="575.93" cy="433.56" r="1.6"/><circle cx="576.38" cy="434.43" r="1.6"/><circle cx="576.83" cy="433.58" r="1.6"/><circle cx="577.28" cy="434.46" r="1.6"/><circle cx="577.73" cy="433.58" r="1.6"/><circle cx="578.18" cy="434.43" r="1.6"/><circle cx="578.63" cy="434.48" r="1.6"/><circle cx="579.08" cy="434.48" r="1.6"/><circle cx="579.53" cy="434.48" r="1.6"/><circle cx="579.98" cy="433.52" r="1.6"/><circle cx="580.43" cy="433.54" r="1.6"/><circle cx="580.88" cy="434.43" r="1.6"/><circle cx="581.33" cy="434.46" r="1.6"/><circle cx="581.78" cy="434.47" r="1.6"/><circle cx="582.23" cy="434.42" r="1.6"/><circle cx="582.68" cy="433.53" r="1.6"/><circle cx="583.13" cy="434.44" r="1.6"/><circle cx="583.58" cy="434.45" r="1.6"/><circle cx="584.03" cy="433.58" r="1.6"/><circle cx="584.48" cy="434.43" r="1.6"/><circle cx="584.93" cy="434.42" r="1.6"/><circle cx="585.38" cy="434.45" r="1.6"/><circle cx="585.83" cy="433.55" r="1.6"/><circle cx="586.28" cy="434.46" r="1.6"/><circle cx="586.73" cy="434.48" r="1.6"/><circle cx="587.18" cy="433.52" r="1.6"/><circle cx="587.63" cy="433.56" r="1.6"/><circle cx="588.08" cy="434.46" r="1.6"/><circle cx="588.53" cy="434.47" r="1.6"/><circle cx="588.98" cy="433.58" r="1.6"/><circle cx="589.43" cy="433.54" r="1.6"/><circle cx="589.88" cy="433.54" r="1.6"/><circle cx="590.33" cy="433.58" r="1.6"/><circle cx="590.78" cy="433.53" r="1.6"/><circle cx="591.23" cy="433.52" r="1.6"/><circle cx="591.68" cy="433.54" r="1.6"/><circle cx="592.13" cy="434.42" r="1.6"/><circle cx="592.58" cy="434.46" r="1.6"/><circle cx="593.03" cy="433.54" r="1.6"/><circle cx="593.48" cy="434.45" r="1.6"/><circle cx="593.93" cy="433.56" r="1.6"/><circle cx="594.38" cy="433.52" r="1.6"/><circle cx="594.83" cy="434.42" r="1.6"/><circle cx="595.28" cy="433.53" r="1.6"/><circle cx="595.73" cy="434.46" r="1.6"/><circle cx="596.18" cy="434.43" r="1.6"/><circle cx="596.63" cy="434.42" r="1.6"/><circle cx="597.08" cy="433.56" r="1.6"/><circle cx="597.53" cy="433.54" r="1.6"/><circle cx="597.98" cy="434.47" r="1.6"/><circle cx="598.43" cy="433.57" r="1.6"/><circle cx="598.88" cy="433.54" r="1.6"/><circle cx="599.33" cy="433.56" r="1.6"/><circle cx="599.78" cy="434.42" r="1.6"/><circle cx="600.23" cy="434.46" r="1.6"/><circle cx="600.68" cy="433.55" r="1.6"/><circle cx="601.13" cy="434.43" r="1.6"/><circle cx="601.58" cy="434.47" r="1.6"/><circle cx="602.03" cy="434.47" r="1.6"/><circle cx="602.48" cy="433.58" r="1.6"/><circle cx="602.93" cy="433.55" r="1.6"/><circle cx="603.38" cy="433.53" r="1.6"/><circle cx="603.83" cy="434.48" r="1.6"/><circle cx="604.28" cy="434.46" r="1.6"/><circle cx="604.73" cy="433.56" r="1.6"/><circle cx="605.18" cy="433.55" r="1.6"/><circle cx="605.63" cy="433.54" r="1.6"/><circle cx="606.08" cy="434.43" r="1.6"/><circle cx="606.53" cy="434.45" r="1.6"/><circle cx="606.98" cy="434.48" r="1.6"/><circle cx="607.43" cy="434.43" r="1.6"/><circle cx="607.88" cy="434.48" r="1.6"/><circle cx="608.33" cy="433.53" r="1.6"/><circle cx="608.78" cy="433.53" r="1.6"/><circle cx="609.23" cy="433.54" r="1.6"/><circle cx="609.68" cy="434.43" r="1.6"/><circle cx="610.13" cy="434.45" r="1.6"/><circle cx="610.58" cy="433.56" r="1.6"/><circle cx="611.03" cy="433.57" r="1.6"/><circle cx="611.48" cy="433.56" r="1.6"/><circle cx="611.93" cy="434.43" r="1.6"/><circle cx="612.38" cy="433.56" r="1.6"/><circle cx="612.83" cy="433.53" r="1.6"/><circle cx="613.28" cy="434.44" r="1.6"/><circle cx="613.73" cy="434.46" r="1.6"/><circle cx="614.18" cy="433.54" r="1.6"/></g>
<g fill="#ff8c00"><circle cx="614.63" cy="433.56" r="1.6"/><circle cx="615.08" cy="434.47" r="1.6"/><circle cx="615.53" cy="433.56" r="1.6"/><circle cx="615.98" cy="433.54" r="1.6"/><circle cx="616.43" cy="433.57" r="1.6"/><circle cx="616.88" cy="433.56" r="1.6"/><circle cx="617.33" cy="434.46" r="1.6"/><circle cx="617.78" cy="434.48" r="1.6"/><circle cx="618.23" cy="433.54" r="1.6"/><circle cx="618.68" cy="433.57" r="1.6"/><circle cx="619.13" cy="434.43" r="1.6"/><circle cx="619.58" cy="434.46" r="1.6"/><circle cx="620.03" cy="433.58" r="1.6"/><circle cx="620.48" cy="433.55" r="1.6"/><circle cx="620.93" cy="434.46" r="1.6"/><circle cx="621.38" cy="433.53" r="1.6"/><circle cx="621.83" cy="433.57" r="1.6"/><circle cx="622.28" cy="433.58" r="1.6"/><circle cx="622.73" cy="434.43" r="1.6"/><circle cx="623.18" cy="433.57" r="1.6"/><circle cx="623.63" cy="434.44" r="1.6"/><circle cx="624.08" cy="433.53" r="1.6"/><circle cx="624.53" cy="434.45" r="1.6"/><circle cx="624.98" cy="434.45" r="1.6"/><circle cx="625.43" cy="434.48" r="1.6"/><circle cx="625.88" cy="433.58" r="1.6"/><circle cx="626.33" cy="433.55" r="1.6"/><circle cx="626.78" cy="433.53" r="1.6"/><circle cx="627.23" cy="434.43" r="1.6"/><circle cx="627.68" cy="434.43" r="1.6"/><circle cx="628.13" cy="434.47" r="1.6"/><circle cx="628.58" cy="434.42" r="1.6"/><circle cx="629.03" cy="434.43" r="1.6"/><circle cx="629.48" cy="434.46" r="1.6"/><circle cx="629.93" cy="434.47" r="1.6"/><circle cx="630.38" cy="433.52" r="1.6"/><circle cx="630.83" cy="434.46" r="1.6"/><circle cx="631.28" cy="434.47" r="1.6"/><circle cx="631.73" cy="433.56" r="1.6"/><circle cx="632.18" cy="433.55" r="1.6"/><circle cx="632.63" cy="434.46" r="1.6"/><circle cx="633.08" cy="433.56" r="1.6"/><circle cx="633.53" cy="434.45" r="1.6"/><circle cx="633.98" cy="434.56" r="1.6"/><circle cx="634.43" cy="433.55" r="1.6"/><circle cx="634.88" cy="433.56" r="1.6"/><circle cx="635.33" cy="433.53" r="1.6"/><circle cx="635.78" cy="434.45" r="1.6"/><circle cx="636.23" cy="434.45" r="1.6"/><circle cx="636.68" cy="434.43" r="1.6"/><circle cx="637.13" cy="433.54" r="1.6"/><circle cx="637.58" cy="433.58" r="1.6"/><circle cx="638.03" cy="433.56" r="1.6"/><circle cx="638.48" cy="433.56" r="1.6"/><circle cx="638.93" cy="434.45" r="1.6"/><circle cx="639.38" cy="433.55" r="1.6"/><circle cx="639.83" cy="433.54" r="1.6"/><circle cx="640.28" cy="433.55" r="1.6"/><circle cx="640.73" cy="434.46" r="1.6"/><circle cx="641.18" cy="434.45" r="1.6"/><circle cx="641.63" cy="433.53" r="1.6"/><circle cx="642.08" cy="433.57" r="1.6"/><circle cx="642.53" cy="433.54" r="1.6"/><circle cx="642.98" cy="433.56" r="1.6"/><circle cx="643.43" cy="433.53" r="1.6"/><circle cx="643.88" cy="433.57" r="1.6"/><circle cx="644.33" cy="434.46" r="1.6"/><circle cx="644.78" cy="433.53" r="1.6"/><circle cx="645.23" cy="433.56" r="1.6"/><circle cx="645.68" cy="433.54" r="1.6"/><circle cx="646.13" cy="433.55" r="1.6"/><circle cx="646.58" cy="433.58" r="1.6"/><circle cx="647.03" cy="434.44" r="1.6"/><circle cx="647.48" cy="434.47" r="1.6"/><circle cx="647.93" cy="433.52" r="1.6"/><circle cx="648.38" cy="433.58" r="1.6"/><circle cx="648.83" cy="434.44" r="1.6"/><circle cx="649.28" cy="434.42" r="1.6"/><circle cx="649.73" cy="433.52" r="1.6"/><circle cx="650.18" cy="434.48" r="1.6"/><circle cx="650.63" cy="435.47" r="1.6"/><circle cx="651.08" cy="433.53" r="1.6"/><circle cx="651.53" cy="433.54" r="1.6"/><circle cx="651.98" cy="434.43" r="1.6"/><circle cx="652.43" cy="434.43" r="1.6"/><circle cx="652.88" cy="434.47" r="1.6"/><circle cx="653.33" cy="433.57" r="1.6"/><circle cx="653.78" cy="434.43" r="1.6"/><circle cx="654.23" cy="434.46" r="1.6"/><circle cx="654.68" cy="434.44" r="1.6"/><circle cx="655.13" cy="433.57" r="1.6"/><circle cx="655.58" cy="435.46" r="1.6"/><circle cx="656.03" cy="433.57" r="1.6"/><circle cx="656.48" cy="434.43" r="1.6"/><circle cx="656.93" cy="434.47" r="1.6"/><circle cx="657.38" cy="434.48" r="1.6"/><circle cx="657.83" cy="433.54" r="1.6"/><circle cx="658.28" cy="434.42" r="1.6"/><circle cx="658.73" cy="434.42" r="1.6"/><circle cx="659.18" cy="434.47" r="1.6"/><circle cx="659.63" cy="433.52" r="1.6"/><circle cx="660.08" cy="434.53" r="1.6"/><circle cx="660.53" cy="434.46" r="1.6"/><circle cx="660.98" cy="433.57" r="1.6"/><circle cx="661.43" cy="434.55" r="1.6"/><circle cx="661.88" cy="434.45" r="1.6"/><circle cx="662.33" cy="434.48" r="1.6"/><circle cx="662.78" cy="434.47" r="1.6"/><circle cx="663.23" cy="433.53" r="1.6"/><circle cx="663.68" cy="433.53" r="1.6"/><circle cx="664.13" cy="433.52" r="1.6"/><circle cx="664.58" cy="434.47" r="1.6"/><circle cx="665.03" cy="433.53" r="1.6"/><circle cx="665.48" cy="433.55" r="1.6"/><circle cx="665.93" cy="434.43" r="1.6"/><circle cx="666.38" cy="434.46" r="1.6"/><circle cx="666.83" cy="433.58" r="1.6"/><circle cx="667.28" cy="434.45" r="1.6"/><circle cx="667.73" cy="433.58" r="1.6"/><circle cx="668.18" cy="434.45" r="1.6"/><circle cx="668.63" cy="434.44" r="1.6"/><circle cx="669.08" cy="434.47" r="1.6"/><circle cx="669.53" cy="433.52" r="1.6"/><circle cx="669.98" cy="433.54" r="1.6"/><circle cx="670.43" cy="433.57" r="1.6"/><circle cx="670.88" cy="433.55" r="1.6"/><circle cx="671.33" cy="433.56" r="1.6"/><circle cx="671.78" cy="433.56" r="1.6"/><circle cx="672.23" cy="433.57" r="1.6"/><circle cx="672.68" cy="433.54" r="1.6"/><circle cx="673.13" cy="434.47" r="1.6"/><circle cx="673.58" cy="434.44" r="1.6"/><circle cx="674.03" cy="434.47" r="1.6"/><circle cx="674.48" cy="433.53" r="1.6"/><circle cx="674.93" cy="434.44" r="1.6"/><circle cx="675.38" cy="434.48" r="1.6"/><circle cx="675.83" cy="434.48" r="1.6"/><circle cx="676.28" cy="434.46" r="1.6"/><circle cx="676.73" cy="434.47" r="1.6"/><circle cx="677.18" cy="433.55" r="1.6"/><circle cx="677.63" cy="434.46" r="1.6"/><circle cx="678.08" cy="433.56" r="1.6"/><circle cx="678.53" cy="434.46" r="1.6"/><circle cx="678.98" cy="433.55" r="1.6"/><circle cx="679.43" cy="434.43" r="1.6"/><circle cx="679.88" cy="433.55" r="1.6"/><circle cx="680.33" cy="434.45" r="1.6"/><circle cx="680.78" cy="434.46" r="1.6"/><circle cx="681.23" cy="433.55" r="1.6"/><circle cx="681.68" cy="433.55" r="1.6"/><circle cx="682.13" cy="434.43" r="1.6"/><circle cx="682.58" cy="434.45" r="1.6"/><circle cx="683.03" cy="434.44" r="1.6"/></g>
<g fill="#ff4500"><circle cx="683.48" cy="433.54" r="1.6"/><circle cx="683.93" cy="433.56" r="1.6"/><circle cx="684.38" cy="434.45" r="1.6"/><circle cx="684.83" cy="433.53" r="1.6"/><circle cx="685.28" cy="434.47" r="1.6"/><circle cx="685.73" cy="434.44" r="1.6"/><circle cx="686.18" cy="433.56" r="1.6"/><circle cx="686.63" cy="434.46" r="1.6"/><circle cx="687.08" cy="434.46" r="1.6"/><circle cx="687.53" cy="433.53" r="1.6"/><circle cx="687.98" cy="433.56" r="1.6"/><circle cx="688.43" cy="433.53" r="1.6"/><circle cx="688.88" cy="435.48" r="1.6"/><circle cx="689.33" cy="434.55" r="1.6"/><circle cx="689.78" cy="435.57" r="1.6"/><circle cx="690.23" cy="434.54" r="1.6"/><circle cx="690.68" cy="435.48" r="1.6"/><circle cx="691.13" cy="434.53" r="1.6"/><circle cx="691.58" cy="434.53" r="1.6"/><circle cx="692.03" cy="435.47" r="1.6"/><circle cx="692.48" cy="435.42" r="1.6"/><circle cx="692.93" cy="435.46" r="1.6"/><circle cx="693.38" cy="434.53" r="1.6"/><circle cx="693.83" cy="434.57" r="1.6"/><circle cx="694.28" cy="434.57" r="1.6"/><circle cx="694.73" cy="434.56" r="1.6"/><circle cx="695.18" cy="434.55" r="1.6"/><circle cx="695.63" cy="434.43" r="1.6"/><circle cx="696.08" cy="434.43" r="1.6"/><circle cx="696.53" cy="433.56" r="1.6"/><circle cx="696.98" cy="434.43" r="1.6"/><circle cx="697.43" cy="434.47" r="1.6"/><circle cx="697.88" cy="434.46" r="1.6"/><circle cx="698.33" cy="435.45" r="1.6"/><circle cx="698.78" cy="434.44" r="1.6"/><circle cx="699.23" cy="434.45" r="1.6"/><circle cx="699.68" cy="433.58" r="1.6"/><circle cx="700.13" cy="434.42" r="1.6"/><circle cx="700.58" cy="434.47" r="1.6"/><circle cx="701.03" cy="434.48" r="1.6"/><circle cx="701.48" cy="433.55" r="1.6"/><circle cx="701.93" cy="434.48" r="1.6"/><circle cx="702.38" cy="433.57" r="1.6"/><circle cx="702.83" cy="434.48" r="1.6"/><circle cx="703.28" cy="434.45" r="1.6"/><circle cx="703.73" cy="434.53" r="1.6"/><circle cx="704.18" cy="435.44" r="1.6"/><circle cx="704.63" cy="435.43" r="1.6"/><circle cx="705.08" cy="434.54" r="1.6"/><circle cx="705.53" cy="434.54" r="1.6"/><circle cx="705.98" cy="434.55" r="1.6"/><circle cx="706.43" cy="435.42" r="1.6"/><circle cx="706.88" cy="434.53" r="1.6"/><circle cx="707.33" cy="435.44" r="1.6"/><circle cx="707.78" cy="434.53" r="1.6"/><circle cx="708.23" cy="435.47" r="1.6"/><circle cx="708.68" cy="434.57" r="1.6"/><circle cx="709.13" cy="435.45" r="1.6"/><circle cx="709.58" cy="434.58" r="1.6"/><circle cx="710.03" cy="434.54" r="1.6"/><circle cx="710.48" cy="435.47" r="1.6"/><circle cx="710.93" cy="434.56" r="1.6"/><circle cx="711.38" cy="435.45" r="1.6"/><circle cx="711.83" cy="435.44" r="1.6"/><circle cx="712.28" cy="434.44" r="1.6"/><circle cx="712.73" cy="433.54" r="1.6"/><circle cx="713.18" cy="434.45" r="1.6"/><circle cx="713.63" cy="433.55" r="1.6"/><circle cx="714.08" cy="433.54" r="1.6"/><circle cx="714.53" cy="434.47" r="1.6"/><circle cx="714.98" cy="433.53" r="1.6"/><circle cx="715.43" cy="434.46" r="1.6"/><circle cx="715.88" cy="433.56" r="1.6"/><circle cx="716.33" cy="433.56" r="1.6"/><circle cx="716.78" cy="434.44" r="1.6"/><circle cx="717.23" cy="434.46" r="1.6"/><circle cx="717.68" cy="434.48" r="1.6"/><circle cx="718.13" cy="434.46" r="1.6"/><circle cx="718.58" cy="433.55" r="1.6"/><circle cx="719.03" cy="434.48" r="1.6"/><circle cx="719.48" cy="434.47" r="1.6"/><circle cx="719.93" cy="433.58" r="1.6"/><circle cx="720.38" cy="433.56" r="1.6"/><circle cx="720.83" cy="433.53" r="1.6"/><circle cx="721.28" cy="434.47" r="1.6"/><circle cx="721.73" cy="433.53" r="1.6"/><circle cx="722.18" cy="434.43" r="1.6"/><circle cx="722.63" cy="434.42" r="1.6"/><circle cx="723.08" cy="434.42" r="1.6"/><circle cx="723.53" cy="434.46" r="1.6"/><circle cx="723.98" cy="434.57" r="1.6"/><circle cx="724.43" cy="435.54" r="1.6"/><circle cx="724.88" cy="435.47" r="1.6"/><circle cx="725.33" cy="434.56" r="1.6"/><circle cx="725.78" cy="435.44" r="1.6"/><circle cx="726.23" cy="434.54" r="1.6"/><circle cx="726.68" cy="435.47" r="1.6"/><circle cx="727.13" cy="434.54" r="1.6"/><circle cx="727.58" cy="434.58" r="1.6"/><circle cx="728.03" cy="435.45" r="1.6"/><circle cx="728.48" cy="435.43" r="1.6"/><circle cx="728.93" cy="435.44" r="1.6"/><circle cx="729.38" cy="435.44" r="1.6"/><circle cx="729.83" cy="434.53" r="1.6"/><circle cx="730.28" cy="434.56" r="1.6"/><circle cx="730.73" cy="435.45" r="1.6"/><circle cx="731.18" cy="435.45" r="1.6"/><circle cx="731.63" cy="435.44" r="1.6"/><circle cx="732.08" cy="435.43" r="1.6"/><circle cx="732.53" cy="435.44" r="1.6"/><circle cx="732.98" cy="434.53" r="1.6"/><circle cx="733.43" cy="435.46" r="1.6"/><circle cx="733.88" cy="435.45" r="1.6"/><circle cx="734.33" cy="434.57" r="1.6"/><circle cx="734.78" cy="435.42" r="1.6"/><circle cx="735.23" cy="433.58" r="1.6"/><circle cx="735.68" cy="433.57" r="1.6"/><circle cx="736.13" cy="433.57" r="1.6"/><circle cx="736.58" cy="433.52" r="1.6"/><circle cx="737.03" cy="434.42" r="1.6"/><circle cx="737.48" cy="433.54" r="1.6"/><circle cx="737.93" cy="433.53" r="1.6"/><circle cx="738.38" cy="433.55" r="1.6"/><circle cx="738.83" cy="434.47" r="1.6"/><circle cx="739.28" cy="433.53" r="1.6"/><circle cx="739.73" cy="435.42" r="1.6"/><circle cx="740.18" cy="434.45" r="1.6"/><circle cx="740.63" cy="434.44" r="1.6"/><circle cx="741.08" cy="434.45" r="1.6"/><circle cx="741.53" cy="434.44" r="1.6"/><circle cx="741.98" cy="433.57" r="1.6"/><circle cx="742.43" cy="433.56" r="1.6"/><circle cx="742.88" cy="434.52" r="1.6"/><circle cx="743.33" cy="434.44" r="1.6"/><circle cx="743.78" cy="433.56" r="1.6"/><circle cx="744.23" cy="433.57" r="1.6"/><circle cx="744.68" cy="433.54" r="1.6"/><circle cx="745.13" cy="433.54" r="1.6"/><circle cx="745.58" cy="433.54" r="1.6"/><circle cx="746.03" cy="434.43" r="1.6"/><circle cx="746.48" cy="433.54" r="1.6"/><circle cx="746.93" cy="433.57" r="1.6"/><circle cx="747.38" cy="435.43" r="1.6"/><circle cx="747.83" cy="434.53" r="1.6"/><circle cx="748.28" cy="434.54" r="1.6"/><circle cx="748.73" cy="435.44" r="1.6"/><circle cx="749.18" cy="435.48" r="1.6"/><circle cx="749.63" cy="434.58" r="1.6"/><circle cx="750.08" cy="435.42" r="1.6"/><circle cx="750.53" cy="434.57" r="1.6"/><circle cx="750.98" cy="435.56" r="1.6"/><circle cx="751.43" cy="434.44" r="1.6"/><circle cx="751.88" cy="433.55" r="1.6"/><circle cx="752.33" cy="433.53" r="1.6"/><circle cx="752.78" cy="434.45" r="1.6"/><circle cx="753.23" cy="433.56" r="1.6"/><circle cx="753.68" cy="433.55" r="1.6"/><circle cx="754.13" cy="434.43" r="1.6"/><circle cx="754.58" cy="433.55" r="1.6"/></g>
<g fill="#ff0000"><circle cx="755.03" cy="434.58" r="1.6"/><circle cx="755.48" cy="435.42" r="1.6"/><circle cx="755.93" cy="435.48" r="1.6"/><circle cx="756.38" cy="434.54" r="1.6"/><circle cx="756.83" cy="435.47" r="1.6"/><circle cx="757.28" cy="435.42" r="1.6"/><circle cx="757.73" cy="435.45" r="1.6"/><circle cx="758.18" cy="434.56" r="1.6"/><circle cx="758.63" cy="434.56" r="1.6"/><circle cx="759.08" cy="435.43" r="1.6"/><circle cx="759.53" cy="434.57" r="1.6"/><circle cx="759.98" cy="434.57" r="1.6"/><circle cx="760.43" cy="434.54" r="1.6"/><circle cx="760.88" cy="435.48" r="1.6"/><circle cx="761.33" cy="434.58" r="1.6"/><circle cx="761.78" cy="434.52" r="1.6"/><circle cx="762.23" cy="435.48" r="1.6"/><circle cx="762.68" cy="434.55" r="1.6"/><circle cx="763.13" cy="435.44" r="1.6"/><circle cx="763.58" cy="434.54" r="1.6"/><circle cx="764.03" cy="434.54" r="1.6"/><circle cx="764.48" cy="435.45" r="1.6"/><circle cx="764.93" cy="435.45" r="1.6"/><circle cx="765.38" cy="435.48" r="1.6"/><circle cx="765.83" cy="434.43" r="1.6"/><circle cx="766.28" cy="434.57" r="1.6"/><circle cx="766.73" cy="435.43" r="1.6"/><circle cx="767.18" cy="435.45" r="1.6"/><circle cx="767.63" cy="435.46" r="1.6"/><circle cx="768.08" cy="434.56" r="1.6"/><circle cx="768.53" cy="434.43" r="1.6"/><circle cx="768.98" cy="434.52" r="1.6"/><circle cx="769.43" cy="435.45" r="1.6"/><circle cx="769.88" cy="434.45" r="1.6"/><circle cx="770.33" cy="434.54" r="1.6"/><circle cx="770.78" cy="435.43" r="1.6"/><circle cx="771.23" cy="434.43" r="1.6"/><circle cx="771.68" cy="435.45" r="1.6"/><circle cx="772.13" cy="434.53" r="1.6"/><circle cx="772.58" cy="435.45" r="1.6"/><circle cx="773.03" cy="434.53" r="1.6"/><circle cx="773.48" cy="435.48" r="1.6"/><circle cx="773.93" cy="434.56" r="1.6"/><circle cx="774.38" cy="435.44" r="1.6"/><circle cx="774.83" cy="433.57" r="1.6"/><circle cx="775.28" cy="434.52" r="1.6"/><circle cx="775.73" cy="435.43" r="1.6"/><circle cx="776.18" cy="434.55" r="1.6"/><circle cx="776.63" cy="434.56" r="1.6"/><circle cx="777.08" cy="434.56" r="1.6"/><circle cx="777.53" cy="435.47" r="1.6"/><circle cx="777.98" cy="435.48" r="1.6"/><circle cx="778.43" cy="434.58" r="1.6"/><circle cx="778.88" cy="434.55" r="1.6"/><circle cx="779.33" cy="434.54" r="1.6"/><circle cx="779.78" cy="434.58" r="1.6"/><circle cx="780.23" cy="434.57" r="1.6"/><circle cx="780.68" cy="433.56" r="1.6"/><circle cx="781.13" cy="435.44" r="1.6"/><circle cx="781.58" cy="435.43" r="1.6"/><circle cx="782.03" cy="434.43" r="1.6"/><circle cx="782.48" cy="435.44" r="1.6"/><circle cx="782.93" cy="434.53" r="1.6"/><circle cx="783.38" cy="434.52" r="1.6"/><circle cx="783.83" cy="434.55" r="1.6"/><circle cx="784.28" cy="434.56" r="1.6"/><circle cx="784.73" cy="434.54" r="1.6"/><circle cx="785.18" cy="434.42" r="1.6"/><circle cx="785.63" cy="434.57" r="1.6"/><circle cx="786.08" cy="435.45" r="1.6"/><circle cx="786.53" cy="435.45" r="1.6"/><circle cx="786.98" cy="435.43" r="1.6"/><circle cx="787.43" cy="434.56" r="1.6"/><circle cx="787.88" cy="435.46" r="1.6"/><circle cx="788.33" cy="435.44" r="1.6"/><circle cx="788.78" cy="435.43" r="1.6"/><circle cx="789.23" cy="434.56" r="1.6"/><circle cx="789.68" cy="435.47" r="1.6"/><circle cx="790.13" cy="435.43" r="1.6"/><circle cx="790.58" cy="435.45" r="1.6"/><circle cx="791.03" cy="435.45" r="1.6"/><circle cx="791.48" cy="434.53" r="1.6"/><circle cx="791.93" cy="435.43" r="1.6"/><circle cx="792.38" cy="434.53" r="1.6"/><circle cx="792.83" cy="435.45" r="1.6"/><circle cx="793.28" cy="434.58" r="1.6"/><circle cx="793.73" cy="435.43" r="1.6"/><circle cx="794.18" cy="434.56" r="1.6"/><circle cx="794.63" cy="434.54" r="1.6"/><circle cx="795.08" cy="434.55" r="1.6"/><circle cx="795.53" cy="435.43" r="1.6"/><circle cx="795.98" cy="434.57" r="1.6"/><circle cx="796.43" cy="435.45" r="1.6"/><circle cx="796.88" cy="435.42" r="1.6"/><circle cx="797.33" cy="435.42" r="1.6"/><circle cx="797.78" cy="434.56" r="1.6"/><circle cx="798.23" cy="434.55" r="1.6"/><circle cx="798.68" cy="434.57" r="1.6"/><circle cx="799.13" cy="434.43" r="1.6"/><circle cx="799.58" cy="435.48" r="1.6"/><circle cx="800.03" cy="434.53" r="1.6"/><circle cx="800.48" cy="434.56" r="1.6"/><circle cx="800.93" cy="434.58" r="1.6"/><circle cx="801.38" cy="435.44" r="1.6"/><circle cx="801.83" cy="434.53" r="1.6"/><circle cx="802.28" cy="435.45" r="1.6"/><circle cx="802.73" cy="434.56" r="1.6"/><circle cx="803.18" cy="435.43" r="1.6"/><circle cx="803.63" cy="435.45" r="1.6"/><circle cx="804.08" cy="435.45" r="1.6"/><circle cx="804.53" cy="434.54" r="1.6"/><circle cx="804.98" cy="434.53" r="1.6"/><circle cx="805.43" cy="434.56" r="1.6"/><circle cx="805.88" cy="434.54" r="1.6"/><circle cx="806.33" cy="435.42" r="1.6"/><circle cx="806.78" cy="435.46" r="1.6"/><circle cx="807.23" cy="435.46" r="1.6"/><circle cx="807.68" cy="434.56" r="1.6"/><circle cx="808.13" cy="435.46" r="1.6"/><circle cx="808.58" cy="435.44" r="1.6"/><circle cx="809.03" cy="434.57" r="1.6"/><circle cx="809.48" cy="434.53" r="1.6"/><circle cx="809.93" cy="434.53" r="1.6"/><circle cx="810.38" cy="434.56" r="1.6"/><circle cx="810.83" cy="435.48" r="1.6"/><circle cx="811.28" cy="435.45" r="1.6"/><circle cx="811.73" cy="435.45" r="1.6"/><circle cx="812.18" cy="435.46" r="1.6"/><circle cx="812.63" cy="435.45" r="1.6"/><circle cx="813.08" cy="434.54" r="1.6"/><circle cx="813.53" cy="435.44" r="1.6"/><circle cx="813.98" cy="434.57" r="1.6"/><circle cx="814.43" cy="435.45" r="1.6"/><circle cx="814.88" cy="434.54" r="1.6"/><circle cx="815.33" cy="435.42" r="1.6"/><circle cx="815.78" cy="435.43" r="1.6"/><circle cx="816.23" cy="435.43" r="1.6"/><circle cx="816.68" cy="435.44" r="1.6"/><circle cx="817.13" cy="434.54" r="1.6"/><circle cx="817.58" cy="434.46" r="1.6"/><circle cx="818.03" cy="435.46" r="1.6"/><circle cx="818.48" cy="434.56" r="1.6"/><circle cx="818.93" cy="435.45" r="1.6"/><circle cx="819.38" cy="433.52" r="1.6"/><circle cx="819.83" cy="434.53" r="1.6"/><circle cx="820.28" cy="434.47" r="1.6"/><circle cx="820.73" cy="434.57" r="1.6"/><circle cx="821.18" cy="434.53" r="1.6"/><circle cx="821.63" cy="435.44" r="1.6"/><circle cx="822.08" cy="435.45" r="1.6"/><circle cx="822.53" cy="435.46" r="1.6"/><circle cx="822.98" cy="433.57" r="1.6"/><circle cx="823.43" cy="434.54" r="1.6"/><circle cx="823.88" cy="435.44" r="1.6"/></g>
<g fill="#8b4513"><circle cx="824.33" cy="434.3" r="1.6"/><circle cx="824.78" cy="434.3" r="1.6"/><circle cx="825.23" cy="434.3" r="1.6"/></g>
<g fill="#000"><circle cx="121.5" cy="499.3" r="2.32"/></g>
<circle cx="121.5" cy="499.3" r="1.52" fill="#000000"/>
</g>
<path d="M86.5 384.5V617.5M861.5 384.5V617.5M86 384.5H862M86 617.5H862" stroke="#000" stroke-width="1.11" fill="none" stroke-linecap="square"/>
<path d="M81.64 384.5H86.5M81.64 423.5H86.5M81.64 461.5H86.5M81.64 500.5H86.5M81.64 539.5H86.5M81.64 578.5H86.5M81.64 617.5H86.5M152.5 617.5V622.36M217.5 617.5V622.36M288.5 617.5V622.36M357.5 617.5V622.36M429.5 617.5V622.36M498.5 617.5V622.36M570.5 617.5V622.36M641.5 617.5V622.36M710.5 617.5V622.36M782.5 617.5V622.36M851.5 617.5V622.36" stroke="#000" stroke-width="1.11" fill="none"/>
<g font-family="DejaVu Sans, Liberation Sans, sans-serif" font-size="17" text-anchor="end" fill="#000">
<text x="75.5" y="391" textLength="21.03" lengthAdjust="spacing">20</text>
<text x="76.2" y="430" textLength="21.03" lengthAdjust="spacing">10</text>
<text x="76.2" y="469" textLength="10.82" lengthAdjust="spacing">0</text>
<text x="76.2" y="508" textLength="34.68" lengthAdjust="spacing">−10</text>
<text x="76.2" y="547" textLength="34.68" lengthAdjust="spacing">−20</text>
<text x="76.2" y="586" textLength="34.68" lengthAdjust="spacing">−30</text>
<text x="76.5" y="624" textLength="34.68" lengthAdjust="spacing">−40</text>
</g>
<g font-family="DejaVu Sans, Liberation Sans, sans-serif" font-size="13.889" text-anchor="end" fill="#000">
<text transform="translate(159.4 629.9) rotate(-85)" textLength="61.2" lengthAdjust="spacing">02/12/25</text>
<text transform="translate(223.1 629.9) rotate(-85)" textLength="61.2" lengthAdjust="spacing">03/12/25</text>
<text transform="translate(295.2 629.9) rotate(-85)" textLength="61.2" lengthAdjust="spacing">04/12/25</text>
<text transform="translate(364.1 629.9) rotate(-85)" textLength="61.2" lengthAdjust="spacing">05/12/25</text>
<text transform="translate(436.1 629.9) rotate(-85)" textLength="61.2" lengthAdjust="spacing">06/12/25</text>
<text transform="translate(505.2 629.9) rotate(-85)" textLength="61.2" lengthAdjust="spacing">07/12/25</text>
<text transform="translate(576.1 629.9) rotate(-85)" textLength="61.2" lengthAdjust="spacing">08/12/25</text>
<text transform="translate(648.2 629.9) rotate(-85)" textLength="61.2" lengthAdjust="spacing">09/12/25</text>
<text transform="translate(718 631) rotate(-85)" textLength="61.2" lengthAdjust="spacing">10/12/25</text>
<text transform="translate(789.1 631) rotate(-85)" textLength="61.2" lengthAdjust="spacing">11/12/25</text>
<text transform="translate(857.9 631) rotate(-85)" textLength="61.2" lengthAdjust="spacing">12/12/25</text>
</g>
<g font-family="DejaVu Sans, Liberation Sans, sans-serif" font-size="20" fill="#000">
<text x="141" y="24.5" textLength="664.9" lengthAdjust="spacing">Sea Level Pressure 300534065166870  01/30/2025 to 12/01/2025</text>
<text x="129.9" y="374.5" textLength="687" lengthAdjust="spacing">Surface Temperature 300534065166870  01/30/2025 to 12/01/2025</text>
</g>
<g font-family="DejaVu Sans, Liberation Sans, sans-serif" font-size="17" text-anchor="middle" fill="#000">
<text transform="translate(23.6 151.5) rotate(-90)" textLength="157" lengthAdjust="spacing">Sea Level Pressure</text>
<text transform="translate(29.9 501.0) rotate(-90)" textLength="174.6" lengthAdjust="spacing">Surface Temperature</text>
</g>
</svg>
</body></html>
